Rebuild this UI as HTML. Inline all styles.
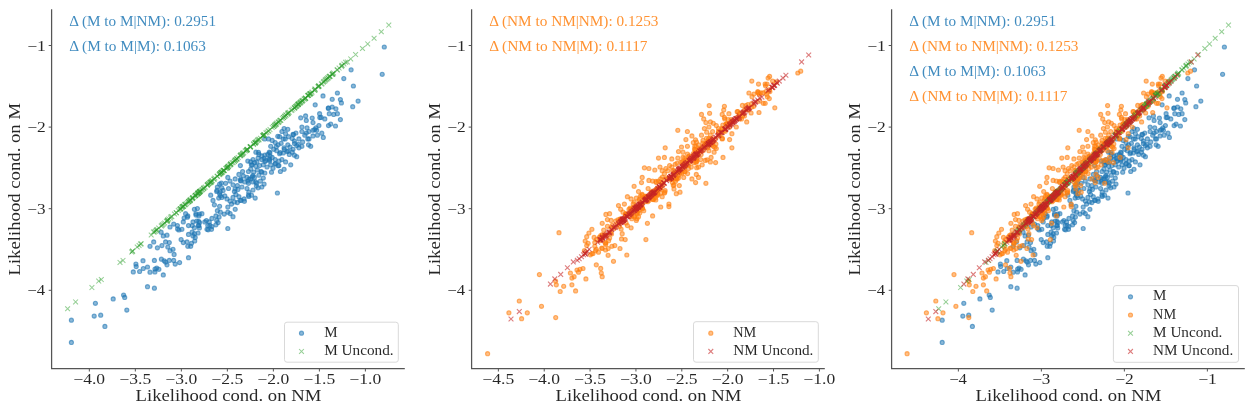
<!DOCTYPE html>
<html><head><meta charset="utf-8"><style>
html,body{margin:0;padding:0;background:#fff;width:1250px;height:405px;overflow:hidden}
svg{display:block;will-change:transform}
text{font-family:"Liberation Serif", serif;fill-opacity:.85}

.b,.o{r:2.05px;stroke-width:1.1}
.b{fill:#1f77b4;fill-opacity:.52;stroke:#1f77b4;stroke-opacity:.6}
.o{fill:#ff7f0e;fill-opacity:.5;stroke:#ff7f0e;stroke-opacity:.6}
.g,.r{fill:none;stroke-width:1}
.g{stroke:#2ca02c;stroke-opacity:.5;stroke-width:1.05}
.r{stroke:#c62626;stroke-opacity:.6;stroke-width:1.1}

</style></head><body>
<svg width="1250" height="405" viewBox="0 0 1250 405">
<rect width="1250" height="405" fill="#fff"/>
<path d="M51.60 9.20V368.60H404.80" fill="none" stroke="#555" stroke-width="1.25"/>
<path d="M48.70 45.50H51.60" stroke="#555" stroke-width="1"/>
<text x="27.23" y="50.65" font-size="14.66" textLength="18.62" lengthAdjust="spacingAndGlyphs" fill="#000">−1</text>
<path d="M48.70 127.10H51.60" stroke="#555" stroke-width="1"/>
<text x="27.23" y="132.25" font-size="14.66" textLength="18.53" lengthAdjust="spacingAndGlyphs" fill="#000">−2</text>
<path d="M48.70 208.70H51.60" stroke="#555" stroke-width="1"/>
<text x="27.25" y="213.85" font-size="14.66" textLength="18.22" lengthAdjust="spacingAndGlyphs" fill="#000">−3</text>
<path d="M48.70 290.30H51.60" stroke="#555" stroke-width="1"/>
<text x="27.27" y="295.45" font-size="14.66" textLength="17.79" lengthAdjust="spacingAndGlyphs" fill="#000">−4</text>
<path d="M89.33 368.60V371.50" stroke="#555" stroke-width="1"/>
<text x="73.31" y="383.80" font-size="14.66" textLength="31.84" lengthAdjust="spacingAndGlyphs" fill="#000">−4.0</text>
<path d="M135.34 368.60V371.50" stroke="#555" stroke-width="1"/>
<text x="119.32" y="383.80" font-size="14.66" textLength="31.86" lengthAdjust="spacingAndGlyphs" fill="#000">−3.5</text>
<path d="M181.35 368.60V371.50" stroke="#555" stroke-width="1"/>
<text x="165.33" y="383.80" font-size="14.66" textLength="31.84" lengthAdjust="spacingAndGlyphs" fill="#000">−3.0</text>
<path d="M227.36 368.60V371.50" stroke="#555" stroke-width="1"/>
<text x="211.34" y="383.80" font-size="14.66" textLength="31.86" lengthAdjust="spacingAndGlyphs" fill="#000">−2.5</text>
<path d="M273.37 368.60V371.50" stroke="#555" stroke-width="1"/>
<text x="257.35" y="383.80" font-size="14.66" textLength="31.84" lengthAdjust="spacingAndGlyphs" fill="#000">−2.0</text>
<path d="M319.38 368.60V371.50" stroke="#555" stroke-width="1"/>
<text x="303.36" y="383.80" font-size="14.66" textLength="31.86" lengthAdjust="spacingAndGlyphs" fill="#000">−1.5</text>
<path d="M365.39 368.60V371.50" stroke="#555" stroke-width="1"/>
<text x="349.37" y="383.80" font-size="14.66" textLength="31.84" lengthAdjust="spacingAndGlyphs" fill="#000">−1.0</text>
<text x="135.56" y="401.10" font-size="16.65" textLength="185.69" lengthAdjust="spacingAndGlyphs" fill="#000">Likelihood cond. on NM</text>
<g transform="translate(20.40,189.25) rotate(-90)">
<text x="-86.29" y="0.00" font-size="16.65" textLength="172.59" lengthAdjust="spacingAndGlyphs" fill="#000">Likelihood cond. on M</text>
</g>
<path d="M471.60 9.20V368.60H824.80" fill="none" stroke="#555" stroke-width="1.25"/>
<path d="M468.70 45.50H471.60" stroke="#555" stroke-width="1"/>
<text x="447.23" y="50.65" font-size="14.66" textLength="18.62" lengthAdjust="spacingAndGlyphs" fill="#000">−1</text>
<path d="M468.70 127.10H471.60" stroke="#555" stroke-width="1"/>
<text x="447.23" y="132.25" font-size="14.66" textLength="18.53" lengthAdjust="spacingAndGlyphs" fill="#000">−2</text>
<path d="M468.70 208.70H471.60" stroke="#555" stroke-width="1"/>
<text x="447.25" y="213.85" font-size="14.66" textLength="18.22" lengthAdjust="spacingAndGlyphs" fill="#000">−3</text>
<path d="M468.70 290.30H471.60" stroke="#555" stroke-width="1"/>
<text x="447.27" y="295.45" font-size="14.66" textLength="17.79" lengthAdjust="spacingAndGlyphs" fill="#000">−4</text>
<path d="M498.37 368.60V371.50" stroke="#555" stroke-width="1"/>
<text x="482.35" y="383.80" font-size="14.66" textLength="31.86" lengthAdjust="spacingAndGlyphs" fill="#000">−4.5</text>
<path d="M544.23 368.60V371.50" stroke="#555" stroke-width="1"/>
<text x="528.21" y="383.80" font-size="14.66" textLength="31.84" lengthAdjust="spacingAndGlyphs" fill="#000">−4.0</text>
<path d="M590.09 368.60V371.50" stroke="#555" stroke-width="1"/>
<text x="574.07" y="383.80" font-size="14.66" textLength="31.86" lengthAdjust="spacingAndGlyphs" fill="#000">−3.5</text>
<path d="M635.95 368.60V371.50" stroke="#555" stroke-width="1"/>
<text x="619.93" y="383.80" font-size="14.66" textLength="31.84" lengthAdjust="spacingAndGlyphs" fill="#000">−3.0</text>
<path d="M681.81 368.60V371.50" stroke="#555" stroke-width="1"/>
<text x="665.79" y="383.80" font-size="14.66" textLength="31.86" lengthAdjust="spacingAndGlyphs" fill="#000">−2.5</text>
<path d="M727.67 368.60V371.50" stroke="#555" stroke-width="1"/>
<text x="711.65" y="383.80" font-size="14.66" textLength="31.84" lengthAdjust="spacingAndGlyphs" fill="#000">−2.0</text>
<path d="M773.53 368.60V371.50" stroke="#555" stroke-width="1"/>
<text x="757.51" y="383.80" font-size="14.66" textLength="31.86" lengthAdjust="spacingAndGlyphs" fill="#000">−1.5</text>
<path d="M819.39 368.60V371.50" stroke="#555" stroke-width="1"/>
<text x="803.37" y="383.80" font-size="14.66" textLength="31.84" lengthAdjust="spacingAndGlyphs" fill="#000">−1.0</text>
<text x="555.56" y="401.10" font-size="16.65" textLength="185.69" lengthAdjust="spacingAndGlyphs" fill="#000">Likelihood cond. on NM</text>
<g transform="translate(440.40,189.25) rotate(-90)">
<text x="-86.29" y="0.00" font-size="16.65" textLength="172.59" lengthAdjust="spacingAndGlyphs" fill="#000">Likelihood cond. on M</text>
</g>
<path d="M891.60 9.20V368.60H1244.80" fill="none" stroke="#555" stroke-width="1.25"/>
<path d="M888.70 45.50H891.60" stroke="#555" stroke-width="1"/>
<text x="867.23" y="50.65" font-size="14.66" textLength="18.62" lengthAdjust="spacingAndGlyphs" fill="#000">−1</text>
<path d="M888.70 127.10H891.60" stroke="#555" stroke-width="1"/>
<text x="867.23" y="132.25" font-size="14.66" textLength="18.53" lengthAdjust="spacingAndGlyphs" fill="#000">−2</text>
<path d="M888.70 208.70H891.60" stroke="#555" stroke-width="1"/>
<text x="867.25" y="213.85" font-size="14.66" textLength="18.22" lengthAdjust="spacingAndGlyphs" fill="#000">−3</text>
<path d="M888.70 290.30H891.60" stroke="#555" stroke-width="1"/>
<text x="867.27" y="295.45" font-size="14.66" textLength="17.79" lengthAdjust="spacingAndGlyphs" fill="#000">−4</text>
<path d="M958.37 368.60V371.50" stroke="#555" stroke-width="1"/>
<text x="949.19" y="383.80" font-size="14.66" textLength="17.79" lengthAdjust="spacingAndGlyphs" fill="#000">−4</text>
<path d="M1041.37 368.60V371.50" stroke="#555" stroke-width="1"/>
<text x="1032.17" y="383.80" font-size="14.66" textLength="18.22" lengthAdjust="spacingAndGlyphs" fill="#000">−3</text>
<path d="M1124.37 368.60V371.50" stroke="#555" stroke-width="1"/>
<text x="1115.15" y="383.80" font-size="14.66" textLength="18.53" lengthAdjust="spacingAndGlyphs" fill="#000">−2</text>
<path d="M1207.37 368.60V371.50" stroke="#555" stroke-width="1"/>
<text x="1198.15" y="383.80" font-size="14.66" textLength="18.62" lengthAdjust="spacingAndGlyphs" fill="#000">−1</text>
<text x="975.56" y="401.10" font-size="16.65" textLength="185.69" lengthAdjust="spacingAndGlyphs" fill="#000">Likelihood cond. on NM</text>
<g transform="translate(860.40,189.25) rotate(-90)">
<text x="-86.29" y="0.00" font-size="16.65" textLength="172.59" lengthAdjust="spacingAndGlyphs" fill="#000">Likelihood cond. on M</text>
</g>
<text x="69.22" y="26.10" font-size="13.74" textLength="146.78" lengthAdjust="spacingAndGlyphs" fill="#1f77b4">Δ (M to M|NM): 0.2951</text>
<text x="69.22" y="51.20" font-size="13.74" textLength="136.67" lengthAdjust="spacingAndGlyphs" fill="#1f77b4">Δ (M to M|M): 0.1063</text>
<text x="489.22" y="26.10" font-size="13.74" textLength="169.17" lengthAdjust="spacingAndGlyphs" fill="#ff7f0e">Δ (NM to NM|NM): 0.1253</text>
<text x="489.22" y="51.20" font-size="13.74" textLength="158.32" lengthAdjust="spacingAndGlyphs" fill="#ff7f0e">Δ (NM to NM|M): 0.1117</text>
<text x="909.22" y="26.10" font-size="13.74" textLength="146.78" lengthAdjust="spacingAndGlyphs" fill="#1f77b4">Δ (M to M|NM): 0.2951</text>
<text x="909.22" y="51.20" font-size="13.74" textLength="169.17" lengthAdjust="spacingAndGlyphs" fill="#ff7f0e">Δ (NM to NM|NM): 0.1253</text>
<text x="909.22" y="76.30" font-size="13.74" textLength="136.67" lengthAdjust="spacingAndGlyphs" fill="#1f77b4">Δ (M to M|M): 0.1063</text>
<text x="909.22" y="101.40" font-size="13.74" textLength="158.32" lengthAdjust="spacingAndGlyphs" fill="#ff7f0e">Δ (NM to NM|M): 0.1117</text>
<g><circle class="b" cx="71.4" cy="320.2"/><circle class="b" cx="71.4" cy="342.4"/><circle class="b" cx="95.4" cy="303.3"/><circle class="b" cx="94.2" cy="316.1"/><circle class="b" cx="100.7" cy="315.2"/><circle class="b" cx="104.9" cy="326.4"/><circle class="b" cx="113.2" cy="298.9"/><circle class="b" cx="123.6" cy="295.0"/><circle class="b" cx="124.7" cy="297.4"/><circle class="b" cx="126.8" cy="310.1"/><circle class="b" cx="384.3" cy="47.0"/><circle class="b" cx="382.2" cy="74.3"/><circle class="b" cx="351.1" cy="69.8"/><circle class="b" cx="153.7" cy="241.9"/><circle class="b" cx="150.0" cy="246.3"/><circle class="b" cx="157.4" cy="247.8"/><circle class="b" cx="161.9" cy="245.6"/><circle class="b" cx="165.6" cy="241.9"/><circle class="b" cx="169.3" cy="242.6"/><circle class="b" cx="167.8" cy="247.0"/><circle class="b" cx="161.1" cy="232.2"/><circle class="b" cx="163.3" cy="235.9"/><circle class="b" cx="167.0" cy="235.2"/><circle class="b" cx="170.0" cy="227.0"/><circle class="b" cx="173.7" cy="224.1"/><circle class="b" cx="177.4" cy="225.6"/><circle class="b" cx="178.9" cy="230.0"/><circle class="b" cx="181.9" cy="229.3"/><circle class="b" cx="183.3" cy="221.9"/><circle class="b" cx="184.1" cy="218.1"/><circle class="b" cx="185.6" cy="213.7"/><circle class="b" cx="187.8" cy="215.9"/><circle class="b" cx="188.5" cy="225.6"/><circle class="b" cx="188.5" cy="234.4"/><circle class="b" cx="181.1" cy="239.6"/><circle class="b" cx="183.3" cy="242.6"/><circle class="b" cx="187.0" cy="241.9"/><circle class="b" cx="187.8" cy="246.3"/><circle class="b" cx="173.0" cy="249.3"/><circle class="b" cx="210.7" cy="195.2"/><circle class="b" cx="213.0" cy="200.4"/><circle class="b" cx="214.4" cy="204.8"/><circle class="b" cx="216.7" cy="191.5"/><circle class="b" cx="219.6" cy="193.7"/><circle class="b" cx="221.8" cy="197.4"/><circle class="b" cx="224.8" cy="195.9"/><circle class="b" cx="227.0" cy="198.9"/><circle class="b" cx="230.0" cy="201.1"/><circle class="b" cx="233.0" cy="197.4"/><circle class="b" cx="235.9" cy="194.4"/><circle class="b" cx="234.4" cy="191.5"/><circle class="b" cx="238.9" cy="196.7"/><circle class="b" cx="241.1" cy="200.4"/><circle class="b" cx="237.4" cy="202.6"/><circle class="b" cx="244.1" cy="198.9"/><circle class="b" cx="248.5" cy="195.2"/><circle class="b" cx="231.5" cy="204.1"/><circle class="b" cx="234.4" cy="201.9"/><circle class="b" cx="219.6" cy="206.3"/><circle class="b" cx="217.4" cy="210.7"/><circle class="b" cx="215.9" cy="215.9"/><circle class="b" cx="216.7" cy="220.4"/><circle class="b" cx="218.1" cy="222.6"/><circle class="b" cx="220.4" cy="212.2"/><circle class="b" cx="227.8" cy="207.0"/><circle class="b" cx="227.8" cy="212.2"/><circle class="b" cx="235.2" cy="209.3"/><circle class="b" cx="233.0" cy="216.7"/><circle class="b" cx="194.4" cy="209.3"/><circle class="b" cx="197.4" cy="208.5"/><circle class="b" cx="195.9" cy="213.7"/><circle class="b" cx="201.9" cy="213.7"/><circle class="b" cx="198.9" cy="215.9"/><circle class="b" cx="193.0" cy="221.9"/><circle class="b" cx="196.7" cy="221.1"/><circle class="b" cx="199.6" cy="222.6"/><circle class="b" cx="198.9" cy="225.6"/><circle class="b" cx="192.2" cy="225.6"/><circle class="b" cx="194.4" cy="227.8"/><circle class="b" cx="204.8" cy="221.9"/><circle class="b" cx="209.3" cy="221.9"/><circle class="b" cx="207.8" cy="225.6"/><circle class="b" cx="211.5" cy="229.3"/><circle class="b" cx="207.0" cy="229.3"/><circle class="b" cx="215.9" cy="224.8"/><circle class="b" cx="227.8" cy="228.5"/><circle class="b" cx="194.4" cy="233.7"/><circle class="b" cx="198.1" cy="233.0"/><circle class="b" cx="193.0" cy="235.9"/><circle class="b" cx="195.2" cy="237.4"/><circle class="b" cx="191.5" cy="243.3"/><circle class="b" cx="190.7" cy="246.3"/><circle class="b" cx="277.4" cy="193.0"/><circle class="b" cx="251.5" cy="195.2"/><circle class="b" cx="255.2" cy="198.1"/><circle class="b" cx="253.0" cy="190.0"/><circle class="b" cx="240.4" cy="165.6"/><circle class="b" cx="247.8" cy="161.1"/><circle class="b" cx="248.5" cy="171.5"/><circle class="b" cx="242.6" cy="171.5"/><circle class="b" cx="238.9" cy="174.4"/><circle class="b" cx="243.3" cy="175.9"/><circle class="b" cx="247.0" cy="177.4"/><circle class="b" cx="235.2" cy="178.9"/><circle class="b" cx="240.4" cy="180.4"/><circle class="b" cx="244.8" cy="181.9"/><circle class="b" cx="248.5" cy="183.3"/><circle class="b" cx="227.8" cy="177.4"/><circle class="b" cx="230.0" cy="181.1"/><circle class="b" cx="225.6" cy="183.3"/><circle class="b" cx="233.0" cy="184.8"/><circle class="b" cx="237.4" cy="185.6"/><circle class="b" cx="241.9" cy="187.0"/><circle class="b" cx="247.0" cy="188.5"/><circle class="b" cx="219.6" cy="184.1"/><circle class="b" cx="217.4" cy="187.0"/><circle class="b" cx="221.8" cy="187.8"/><circle class="b" cx="228.5" cy="188.5"/><circle class="b" cx="281.9" cy="131.5"/><circle class="b" cx="285.6" cy="133.7"/><circle class="b" cx="279.6" cy="136.7"/><circle class="b" cx="283.3" cy="138.9"/><circle class="b" cx="288.5" cy="136.7"/><circle class="b" cx="293.0" cy="134.4"/><circle class="b" cx="295.9" cy="133.0"/><circle class="b" cx="301.9" cy="131.5"/><circle class="b" cx="304.8" cy="135.2"/><circle class="b" cx="298.9" cy="138.9"/><circle class="b" cx="294.4" cy="141.1"/><circle class="b" cx="302.6" cy="141.9"/><circle class="b" cx="307.8" cy="138.9"/><circle class="b" cx="308.5" cy="144.8"/><circle class="b" cx="306.3" cy="133.0"/><circle class="b" cx="268.5" cy="138.9"/><circle class="b" cx="272.2" cy="140.4"/><circle class="b" cx="275.2" cy="142.6"/><circle class="b" cx="278.1" cy="144.8"/><circle class="b" cx="281.1" cy="143.3"/><circle class="b" cx="284.1" cy="147.8"/><circle class="b" cx="287.8" cy="144.8"/><circle class="b" cx="290.0" cy="147.0"/><circle class="b" cx="293.0" cy="149.3"/><circle class="b" cx="296.7" cy="145.6"/><circle class="b" cx="298.9" cy="147.8"/><circle class="b" cx="301.9" cy="146.3"/><circle class="b" cx="270.7" cy="146.3"/><circle class="b" cx="273.7" cy="149.3"/><circle class="b" cx="269.3" cy="152.2"/><circle class="b" cx="276.7" cy="150.7"/><circle class="b" cx="279.6" cy="153.7"/><circle class="b" cx="283.3" cy="153.0"/><circle class="b" cx="287.0" cy="151.5"/><circle class="b" cx="289.3" cy="154.4"/><circle class="b" cx="294.4" cy="155.2"/><circle class="b" cx="296.7" cy="156.7"/><circle class="b" cx="292.2" cy="152.2"/><circle class="b" cx="255.9" cy="152.2"/><circle class="b" cx="258.9" cy="154.4"/><circle class="b" cx="261.8" cy="155.9"/><circle class="b" cx="264.8" cy="155.2"/><circle class="b" cx="267.8" cy="154.4"/><circle class="b" cx="258.1" cy="158.1"/><circle class="b" cx="261.8" cy="159.6"/><circle class="b" cx="265.6" cy="160.4"/><circle class="b" cx="269.3" cy="158.9"/><circle class="b" cx="272.2" cy="157.4"/><circle class="b" cx="275.2" cy="159.6"/><circle class="b" cx="278.9" cy="161.1"/><circle class="b" cx="281.9" cy="159.6"/><circle class="b" cx="285.6" cy="161.9"/><circle class="b" cx="253.0" cy="159.6"/><circle class="b" cx="250.7" cy="161.9"/><circle class="b" cx="252.2" cy="164.8"/><circle class="b" cx="255.9" cy="166.3"/><circle class="b" cx="259.6" cy="165.6"/><circle class="b" cx="263.3" cy="164.8"/><circle class="b" cx="267.0" cy="167.0"/><circle class="b" cx="270.7" cy="164.8"/><circle class="b" cx="275.2" cy="164.1"/><circle class="b" cx="278.9" cy="165.6"/><circle class="b" cx="290.7" cy="164.8"/><circle class="b" cx="284.1" cy="169.3"/><circle class="b" cx="280.4" cy="171.5"/><circle class="b" cx="271.5" cy="172.2"/><circle class="b" cx="264.8" cy="173.0"/><circle class="b" cx="261.1" cy="171.5"/><circle class="b" cx="257.4" cy="170.0"/><circle class="b" cx="253.7" cy="172.2"/><circle class="b" cx="258.9" cy="175.2"/><circle class="b" cx="254.4" cy="177.4"/><circle class="b" cx="263.3" cy="178.1"/><circle class="b" cx="250.7" cy="178.9"/><circle class="b" cx="260.4" cy="181.1"/><circle class="b" cx="256.7" cy="183.3"/><circle class="b" cx="253.0" cy="181.9"/><circle class="b" cx="264.1" cy="184.1"/><circle class="b" cx="261.8" cy="187.0"/><circle class="b" cx="258.1" cy="187.8"/><circle class="b" cx="313.0" cy="135.9"/><circle class="b" cx="317.4" cy="135.2"/><circle class="b" cx="323.3" cy="137.4"/><circle class="b" cx="310.7" cy="146.3"/><circle class="b" cx="313.0" cy="130.3"/><circle class="b" cx="316.7" cy="130.3"/><circle class="b" cx="305.6" cy="115.9"/><circle class="b" cx="306.3" cy="120.4"/><circle class="b" cx="301.9" cy="127.0"/><circle class="b" cx="307.0" cy="127.8"/><circle class="b" cx="284.1" cy="128.5"/><circle class="b" cx="287.8" cy="129.3"/><circle class="b" cx="343.8" cy="78.6"/><circle class="b" cx="353.4" cy="86.0"/><circle class="b" cx="358.1" cy="101.1"/><circle class="b" cx="352.7" cy="106.7"/><circle class="b" cx="337.4" cy="93.0"/><circle class="b" cx="340.4" cy="99.6"/><circle class="b" cx="341.4" cy="102.9"/><circle class="b" cx="332.2" cy="99.3"/><circle class="b" cx="323.0" cy="95.9"/><circle class="b" cx="315.2" cy="104.8"/><circle class="b" cx="328.5" cy="108.2"/><circle class="b" cx="332.2" cy="107.0"/><circle class="b" cx="335.9" cy="108.8"/><circle class="b" cx="329.3" cy="113.7"/><circle class="b" cx="333.7" cy="114.4"/><circle class="b" cx="337.4" cy="113.7"/><circle class="b" cx="319.6" cy="113.7"/><circle class="b" cx="321.1" cy="117.4"/><circle class="b" cx="324.8" cy="118.9"/><circle class="b" cx="340.4" cy="119.6"/><circle class="b" cx="312.2" cy="118.1"/><circle class="b" cx="313.0" cy="122.6"/><circle class="b" cx="328.5" cy="125.6"/><circle class="b" cx="330.7" cy="124.1"/><circle class="b" cx="335.5" cy="126.0"/><circle class="b" cx="318.9" cy="125.6"/><circle class="b" cx="315.9" cy="127.8"/><circle class="b" cx="133.3" cy="271.9"/><circle class="b" cx="135.9" cy="264.1"/><circle class="b" cx="136.2" cy="266.6"/><circle class="b" cx="139.6" cy="271.5"/><circle class="b" cx="143.0" cy="260.7"/><circle class="b" cx="143.3" cy="268.5"/><circle class="b" cx="147.5" cy="267.0"/><circle class="b" cx="150.0" cy="272.2"/><circle class="b" cx="154.4" cy="260.4"/><circle class="b" cx="154.9" cy="271.9"/><circle class="b" cx="156.7" cy="268.1"/><circle class="b" cx="158.9" cy="269.3"/><circle class="b" cx="161.4" cy="259.2"/><circle class="b" cx="163.3" cy="274.9"/><circle class="b" cx="165.6" cy="262.1"/><circle class="b" cx="167.0" cy="264.8"/><circle class="b" cx="169.3" cy="260.4"/><circle class="b" cx="170.0" cy="250.7"/><circle class="b" cx="174.1" cy="254.4"/><circle class="b" cx="173.7" cy="260.4"/><circle class="b" cx="175.2" cy="264.1"/><circle class="b" cx="179.6" cy="262.6"/><circle class="b" cx="188.5" cy="257.7"/><circle class="b" cx="147.5" cy="286.7"/><circle class="b" cx="154.4" cy="288.2"/><circle class="b" cx="177.6" cy="228.9"/><circle class="b" cx="187.4" cy="217.2"/><circle class="b" cx="194.7" cy="241.0"/><circle class="b" cx="220.3" cy="191.8"/><circle class="b" cx="220.4" cy="195.8"/><circle class="b" cx="218.7" cy="198.1"/><circle class="b" cx="248.8" cy="196.5"/><circle class="b" cx="244.4" cy="201.3"/><circle class="b" cx="248.8" cy="192.2"/><circle class="b" cx="240.1" cy="200.3"/><circle class="b" cx="219.1" cy="217.1"/><circle class="b" cx="224.2" cy="214.1"/><circle class="b" cx="230.1" cy="213.6"/><circle class="b" cx="196.0" cy="215.1"/><circle class="b" cx="199.4" cy="214.1"/><circle class="b" cx="198.4" cy="225.6"/><circle class="b" cx="198.7" cy="221.4"/><circle class="b" cx="199.4" cy="227.9"/><circle class="b" cx="206.4" cy="220.5"/><circle class="b" cx="211.9" cy="218.4"/><circle class="b" cx="209.9" cy="225.4"/><circle class="b" cx="211.9" cy="226.6"/><circle class="b" cx="208.2" cy="229.8"/><circle class="b" cx="192.1" cy="232.0"/><circle class="b" cx="252.2" cy="176.9"/><circle class="b" cx="240.7" cy="179.0"/><circle class="b" cx="252.9" cy="175.5"/><circle class="b" cx="241.0" cy="180.9"/><circle class="b" cx="247.9" cy="181.1"/><circle class="b" cx="235.1" cy="189.1"/><circle class="b" cx="237.9" cy="189.4"/><circle class="b" cx="221.4" cy="183.1"/><circle class="b" cx="217.0" cy="190.3"/><circle class="b" cx="223.1" cy="190.4"/><circle class="b" cx="277.8" cy="136.3"/><circle class="b" cx="293.5" cy="134.6"/><circle class="b" cx="292.2" cy="138.5"/><circle class="b" cx="309.0" cy="138.9"/><circle class="b" cx="285.2" cy="138.9"/><circle class="b" cx="294.5" cy="143.5"/><circle class="b" cx="298.3" cy="144.3"/><circle class="b" cx="264.7" cy="139.0"/><circle class="b" cx="276.3" cy="146.8"/><circle class="b" cx="280.3" cy="152.6"/><circle class="b" cx="284.3" cy="149.4"/><circle class="b" cx="288.1" cy="151.1"/><circle class="b" cx="258.5" cy="152.4"/><circle class="b" cx="265.0" cy="161.6"/><circle class="b" cx="269.9" cy="152.8"/><circle class="b" cx="256.9" cy="161.9"/><circle class="b" cx="270.0" cy="156.1"/><circle class="b" cx="269.5" cy="159.8"/><circle class="b" cx="254.6" cy="162.5"/><circle class="b" cx="251.4" cy="164.9"/><circle class="b" cx="264.1" cy="158.4"/><circle class="b" cx="273.0" cy="168.2"/><circle class="b" cx="269.7" cy="161.0"/><circle class="b" cx="275.3" cy="163.5"/><circle class="b" cx="278.2" cy="165.7"/><circle class="b" cx="261.7" cy="172.2"/><circle class="b" cx="250.7" cy="169.0"/><circle class="b" cx="248.9" cy="179.2"/><circle class="b" cx="255.7" cy="181.9"/><circle class="b" cx="256.3" cy="186.1"/><circle class="b" cx="314.7" cy="129.6"/><circle class="b" cx="321.8" cy="133.2"/><circle class="b" cx="308.9" cy="131.5"/><circle class="b" cx="300.7" cy="117.8"/><circle class="b" cx="328.3" cy="108.2"/><circle class="b" cx="319.8" cy="117.6"/><circle class="b" cx="155.0" cy="269.1"/><circle class="b" cx="164.2" cy="260.8"/></g>
<g><path class="g" d="M65.2 306.3l4.8 4.8m0-4.8l-4.8 4.8"/><path class="g" d="M73.2 299.5l4.8 4.8m0-4.8l-4.8 4.8"/><path class="g" d="M89.5 285.2l4.8 4.8m0-4.8l-4.8 4.8"/><path class="g" d="M96.3 278.7l4.8 4.8m0-4.8l-4.8 4.8"/><path class="g" d="M98.9 277.2l4.8 4.8m0-4.8l-4.8 4.8"/><path class="g" d="M117.6 260.0l4.8 4.8m0-4.8l-4.8 4.8"/><path class="g" d="M120.6 258.0l4.8 4.8m0-4.8l-4.8 4.8"/><path class="g" d="M386.4 22.7l4.8 4.8m0-4.8l-4.8 4.8"/><path class="g" d="M378.9 29.4l4.8 4.8m0-4.8l-4.8 4.8"/><path class="g" d="M371.7 35.8l4.8 4.8m0-4.8l-4.8 4.8"/><path class="g" d="M365.3 41.5l4.8 4.8m0-4.8l-4.8 4.8"/><path class="g" d="M360.1 46.1l4.8 4.8m0-4.8l-4.8 4.8"/><path class="g" d="M353.2 52.2l4.8 4.8m0-4.8l-4.8 4.8"/><path class="g" d="M348.3 56.5l4.8 4.8m0-4.8l-4.8 4.8"/><path class="g" d="M344.9 59.5l4.8 4.8m0-4.8l-4.8 4.8"/><path class="g" d="M134.8 244.6l4.8 4.8m0-4.8l-4.8 4.8"/><path class="g" d="M130.0 248.8l4.8 4.8m0-4.8l-4.8 4.8"/><path class="g" d="M138.8 241.3l4.8 4.8m0-4.8l-4.8 4.8"/><path class="g" d="M138.2 241.7l4.8 4.8m0-4.8l-4.8 4.8"/><path class="g" d="M129.3 249.7l4.8 4.8m0-4.8l-4.8 4.8"/><path class="g" d="M130.3 248.7l4.8 4.8m0-4.8l-4.8 4.8"/><path class="g" d="M136.7 243.1l4.8 4.8m0-4.8l-4.8 4.8"/><path class="g" d="M154.3 227.6l4.8 4.8m0-4.8l-4.8 4.8"/><path class="g" d="M166.4 216.5l4.8 4.8m0-4.8l-4.8 4.8"/><path class="g" d="M159.5 223.0l4.8 4.8m0-4.8l-4.8 4.8"/><path class="g" d="M176.9 207.0l4.8 4.8m0-4.8l-4.8 4.8"/><path class="g" d="M156.3 225.6l4.8 4.8m0-4.8l-4.8 4.8"/><path class="g" d="M151.9 229.5l4.8 4.8m0-4.8l-4.8 4.8"/><path class="g" d="M172.1 211.6l4.8 4.8m0-4.8l-4.8 4.8"/><path class="g" d="M153.0 228.9l4.8 4.8m0-4.8l-4.8 4.8"/><path class="g" d="M158.8 223.7l4.8 4.8m0-4.8l-4.8 4.8"/><path class="g" d="M164.0 218.8l4.8 4.8m0-4.8l-4.8 4.8"/><path class="g" d="M153.8 227.9l4.8 4.8m0-4.8l-4.8 4.8"/><path class="g" d="M168.0 215.5l4.8 4.8m0-4.8l-4.8 4.8"/><path class="g" d="M165.2 217.8l4.8 4.8m0-4.8l-4.8 4.8"/><path class="g" d="M161.2 221.5l4.8 4.8m0-4.8l-4.8 4.8"/><path class="g" d="M168.6 214.4l4.8 4.8m0-4.8l-4.8 4.8"/><path class="g" d="M154.9 227.2l4.8 4.8m0-4.8l-4.8 4.8"/><path class="g" d="M173.9 210.3l4.8 4.8m0-4.8l-4.8 4.8"/><path class="g" d="M169.5 214.2l4.8 4.8m0-4.8l-4.8 4.8"/><path class="g" d="M151.1 229.6l4.8 4.8m0-4.8l-4.8 4.8"/><path class="g" d="M160.1 222.3l4.8 4.8m0-4.8l-4.8 4.8"/><path class="g" d="M162.3 220.6l4.8 4.8m0-4.8l-4.8 4.8"/><path class="g" d="M148.8 232.6l4.8 4.8m0-4.8l-4.8 4.8"/><path class="g" d="M164.8 218.6l4.8 4.8m0-4.8l-4.8 4.8"/><path class="g" d="M173.9 210.3l4.8 4.8m0-4.8l-4.8 4.8"/><path class="g" d="M165.4 217.3l4.8 4.8m0-4.8l-4.8 4.8"/><path class="g" d="M165.0 218.5l4.8 4.8m0-4.8l-4.8 4.8"/><path class="g" d="M175.9 208.2l4.8 4.8m0-4.8l-4.8 4.8"/><path class="g" d="M234.5 156.4l4.8 4.8m0-4.8l-4.8 4.8"/><path class="g" d="M261.8 132.3l4.8 4.8m0-4.8l-4.8 4.8"/><path class="g" d="M255.3 137.5l4.8 4.8m0-4.8l-4.8 4.8"/><path class="g" d="M211.8 176.6l4.8 4.8m0-4.8l-4.8 4.8"/><path class="g" d="M223.9 165.8l4.8 4.8m0-4.8l-4.8 4.8"/><path class="g" d="M233.0 157.8l4.8 4.8m0-4.8l-4.8 4.8"/><path class="g" d="M197.8 188.9l4.8 4.8m0-4.8l-4.8 4.8"/><path class="g" d="M269.8 125.0l4.8 4.8m0-4.8l-4.8 4.8"/><path class="g" d="M193.1 193.1l4.8 4.8m0-4.8l-4.8 4.8"/><path class="g" d="M282.2 113.9l4.8 4.8m0-4.8l-4.8 4.8"/><path class="g" d="M187.3 198.6l4.8 4.8m0-4.8l-4.8 4.8"/><path class="g" d="M283.6 112.7l4.8 4.8m0-4.8l-4.8 4.8"/><path class="g" d="M275.9 119.5l4.8 4.8m0-4.8l-4.8 4.8"/><path class="g" d="M227.4 162.8l4.8 4.8m0-4.8l-4.8 4.8"/><path class="g" d="M220.7 168.2l4.8 4.8m0-4.8l-4.8 4.8"/><path class="g" d="M195.7 191.2l4.8 4.8m0-4.8l-4.8 4.8"/><path class="g" d="M198.7 188.1l4.8 4.8m0-4.8l-4.8 4.8"/><path class="g" d="M235.8 155.1l4.8 4.8m0-4.8l-4.8 4.8"/><path class="g" d="M248.3 144.2l4.8 4.8m0-4.8l-4.8 4.8"/><path class="g" d="M227.9 162.2l4.8 4.8m0-4.8l-4.8 4.8"/><path class="g" d="M221.9 168.1l4.8 4.8m0-4.8l-4.8 4.8"/><path class="g" d="M260.5 133.6l4.8 4.8m0-4.8l-4.8 4.8"/><path class="g" d="M239.5 152.3l4.8 4.8m0-4.8l-4.8 4.8"/><path class="g" d="M184.1 201.3l4.8 4.8m0-4.8l-4.8 4.8"/><path class="g" d="M285.5 111.0l4.8 4.8m0-4.8l-4.8 4.8"/><path class="g" d="M273.3 122.4l4.8 4.8m0-4.8l-4.8 4.8"/><path class="g" d="M224.7 165.2l4.8 4.8m0-4.8l-4.8 4.8"/><path class="g" d="M253.7 139.3l4.8 4.8m0-4.8l-4.8 4.8"/><path class="g" d="M185.1 200.1l4.8 4.8m0-4.8l-4.8 4.8"/><path class="g" d="M197.1 189.5l4.8 4.8m0-4.8l-4.8 4.8"/><path class="g" d="M218.4 170.7l4.8 4.8m0-4.8l-4.8 4.8"/><path class="g" d="M195.8 190.7l4.8 4.8m0-4.8l-4.8 4.8"/><path class="g" d="M189.8 196.1l4.8 4.8m0-4.8l-4.8 4.8"/><path class="g" d="M282.5 113.8l4.8 4.8m0-4.8l-4.8 4.8"/><path class="g" d="M251.3 141.4l4.8 4.8m0-4.8l-4.8 4.8"/><path class="g" d="M219.3 169.7l4.8 4.8m0-4.8l-4.8 4.8"/><path class="g" d="M221.3 167.8l4.8 4.8m0-4.8l-4.8 4.8"/><path class="g" d="M296.8 100.8l4.8 4.8m0-4.8l-4.8 4.8"/><path class="g" d="M233.5 157.4l4.8 4.8m0-4.8l-4.8 4.8"/><path class="g" d="M189.9 196.0l4.8 4.8m0-4.8l-4.8 4.8"/><path class="g" d="M218.7 170.4l4.8 4.8m0-4.8l-4.8 4.8"/><path class="g" d="M197.0 189.2l4.8 4.8m0-4.8l-4.8 4.8"/><path class="g" d="M180.4 204.1l4.8 4.8m0-4.8l-4.8 4.8"/><path class="g" d="M195.2 191.3l4.8 4.8m0-4.8l-4.8 4.8"/><path class="g" d="M242.8 148.7l4.8 4.8m0-4.8l-4.8 4.8"/><path class="g" d="M295.0 102.7l4.8 4.8m0-4.8l-4.8 4.8"/><path class="g" d="M281.2 115.0l4.8 4.8m0-4.8l-4.8 4.8"/><path class="g" d="M221.6 168.0l4.8 4.8m0-4.8l-4.8 4.8"/><path class="g" d="M197.6 189.0l4.8 4.8m0-4.8l-4.8 4.8"/><path class="g" d="M271.1 124.2l4.8 4.8m0-4.8l-4.8 4.8"/><path class="g" d="M217.2 171.7l4.8 4.8m0-4.8l-4.8 4.8"/><path class="g" d="M295.8 101.6l4.8 4.8m0-4.8l-4.8 4.8"/><path class="g" d="M279.9 116.0l4.8 4.8m0-4.8l-4.8 4.8"/><path class="g" d="M266.4 128.5l4.8 4.8m0-4.8l-4.8 4.8"/><path class="g" d="M204.8 182.9l4.8 4.8m0-4.8l-4.8 4.8"/><path class="g" d="M181.1 203.8l4.8 4.8m0-4.8l-4.8 4.8"/><path class="g" d="M181.0 203.9l4.8 4.8m0-4.8l-4.8 4.8"/><path class="g" d="M260.7 133.0l4.8 4.8m0-4.8l-4.8 4.8"/><path class="g" d="M292.4 105.6l4.8 4.8m0-4.8l-4.8 4.8"/><path class="g" d="M296.2 101.5l4.8 4.8m0-4.8l-4.8 4.8"/><path class="g" d="M292.2 105.3l4.8 4.8m0-4.8l-4.8 4.8"/><path class="g" d="M204.8 182.6l4.8 4.8m0-4.8l-4.8 4.8"/><path class="g" d="M201.2 185.8l4.8 4.8m0-4.8l-4.8 4.8"/><path class="g" d="M285.6 110.7l4.8 4.8m0-4.8l-4.8 4.8"/><path class="g" d="M278.5 117.8l4.8 4.8m0-4.8l-4.8 4.8"/><path class="g" d="M273.6 121.7l4.8 4.8m0-4.8l-4.8 4.8"/><path class="g" d="M187.8 198.1l4.8 4.8m0-4.8l-4.8 4.8"/><path class="g" d="M271.5 124.1l4.8 4.8m0-4.8l-4.8 4.8"/><path class="g" d="M267.6 127.2l4.8 4.8m0-4.8l-4.8 4.8"/><path class="g" d="M272.3 122.9l4.8 4.8m0-4.8l-4.8 4.8"/><path class="g" d="M217.5 171.3l4.8 4.8m0-4.8l-4.8 4.8"/><path class="g" d="M225.1 165.3l4.8 4.8m0-4.8l-4.8 4.8"/><path class="g" d="M225.8 163.8l4.8 4.8m0-4.8l-4.8 4.8"/><path class="g" d="M198.0 188.9l4.8 4.8m0-4.8l-4.8 4.8"/><path class="g" d="M192.8 193.0l4.8 4.8m0-4.8l-4.8 4.8"/><path class="g" d="M274.4 120.6l4.8 4.8m0-4.8l-4.8 4.8"/><path class="g" d="M195.1 191.0l4.8 4.8m0-4.8l-4.8 4.8"/><path class="g" d="M256.5 137.5l4.8 4.8m0-4.8l-4.8 4.8"/><path class="g" d="M219.6 169.7l4.8 4.8m0-4.8l-4.8 4.8"/><path class="g" d="M179.3 205.4l4.8 4.8m0-4.8l-4.8 4.8"/><path class="g" d="M294.1 103.7l4.8 4.8m0-4.8l-4.8 4.8"/><path class="g" d="M289.6 107.7l4.8 4.8m0-4.8l-4.8 4.8"/><path class="g" d="M229.7 160.4l4.8 4.8m0-4.8l-4.8 4.8"/><path class="g" d="M202.9 184.7l4.8 4.8m0-4.8l-4.8 4.8"/><path class="g" d="M207.8 180.1l4.8 4.8m0-4.8l-4.8 4.8"/><path class="g" d="M248.0 144.3l4.8 4.8m0-4.8l-4.8 4.8"/><path class="g" d="M208.7 179.4l4.8 4.8m0-4.8l-4.8 4.8"/><path class="g" d="M286.8 109.9l4.8 4.8m0-4.8l-4.8 4.8"/><path class="g" d="M220.1 169.5l4.8 4.8m0-4.8l-4.8 4.8"/><path class="g" d="M286.1 110.5l4.8 4.8m0-4.8l-4.8 4.8"/><path class="g" d="M228.1 161.8l4.8 4.8m0-4.8l-4.8 4.8"/><path class="g" d="M241.4 150.4l4.8 4.8m0-4.8l-4.8 4.8"/><path class="g" d="M240.4 150.9l4.8 4.8m0-4.8l-4.8 4.8"/><path class="g" d="M199.6 187.3l4.8 4.8m0-4.8l-4.8 4.8"/><path class="g" d="M178.1 206.4l4.8 4.8m0-4.8l-4.8 4.8"/><path class="g" d="M234.4 156.6l4.8 4.8m0-4.8l-4.8 4.8"/><path class="g" d="M264.6 129.9l4.8 4.8m0-4.8l-4.8 4.8"/><path class="g" d="M239.8 151.8l4.8 4.8m0-4.8l-4.8 4.8"/><path class="g" d="M244.3 147.7l4.8 4.8m0-4.8l-4.8 4.8"/><path class="g" d="M244.8 147.3l4.8 4.8m0-4.8l-4.8 4.8"/><path class="g" d="M207.4 180.5l4.8 4.8m0-4.8l-4.8 4.8"/><path class="g" d="M238.5 152.4l4.8 4.8m0-4.8l-4.8 4.8"/><path class="g" d="M245.0 147.0l4.8 4.8m0-4.8l-4.8 4.8"/><path class="g" d="M230.8 160.2l4.8 4.8m0-4.8l-4.8 4.8"/><path class="g" d="M251.1 142.0l4.8 4.8m0-4.8l-4.8 4.8"/><path class="g" d="M260.7 133.1l4.8 4.8m0-4.8l-4.8 4.8"/><path class="g" d="M231.9 159.0l4.8 4.8m0-4.8l-4.8 4.8"/><path class="g" d="M290.6 106.7l4.8 4.8m0-4.8l-4.8 4.8"/><path class="g" d="M261.5 132.0l4.8 4.8m0-4.8l-4.8 4.8"/><path class="g" d="M208.8 179.6l4.8 4.8m0-4.8l-4.8 4.8"/><path class="g" d="M244.7 146.9l4.8 4.8m0-4.8l-4.8 4.8"/><path class="g" d="M194.1 192.4l4.8 4.8m0-4.8l-4.8 4.8"/><path class="g" d="M192.2 194.0l4.8 4.8m0-4.8l-4.8 4.8"/><path class="g" d="M206.5 181.2l4.8 4.8m0-4.8l-4.8 4.8"/><path class="g" d="M186.4 199.3l4.8 4.8m0-4.8l-4.8 4.8"/><path class="g" d="M285.2 111.8l4.8 4.8m0-4.8l-4.8 4.8"/><path class="g" d="M196.1 190.5l4.8 4.8m0-4.8l-4.8 4.8"/><path class="g" d="M194.8 192.0l4.8 4.8m0-4.8l-4.8 4.8"/><path class="g" d="M283.5 112.7l4.8 4.8m0-4.8l-4.8 4.8"/><path class="g" d="M291.9 105.5l4.8 4.8m0-4.8l-4.8 4.8"/><path class="g" d="M225.4 165.2l4.8 4.8m0-4.8l-4.8 4.8"/><path class="g" d="M277.5 118.2l4.8 4.8m0-4.8l-4.8 4.8"/><path class="g" d="M197.0 189.9l4.8 4.8m0-4.8l-4.8 4.8"/><path class="g" d="M218.3 170.6l4.8 4.8m0-4.8l-4.8 4.8"/><path class="g" d="M201.1 186.2l4.8 4.8m0-4.8l-4.8 4.8"/><path class="g" d="M179.9 204.4l4.8 4.8m0-4.8l-4.8 4.8"/><path class="g" d="M244.1 147.9l4.8 4.8m0-4.8l-4.8 4.8"/><path class="g" d="M217.4 171.6l4.8 4.8m0-4.8l-4.8 4.8"/><path class="g" d="M252.5 140.5l4.8 4.8m0-4.8l-4.8 4.8"/><path class="g" d="M295.8 102.0l4.8 4.8m0-4.8l-4.8 4.8"/><path class="g" d="M272.2 122.8l4.8 4.8m0-4.8l-4.8 4.8"/><path class="g" d="M209.5 178.6l4.8 4.8m0-4.8l-4.8 4.8"/><path class="g" d="M182.4 202.6l4.8 4.8m0-4.8l-4.8 4.8"/><path class="g" d="M193.1 193.2l4.8 4.8m0-4.8l-4.8 4.8"/><path class="g" d="M228.3 161.5l4.8 4.8m0-4.8l-4.8 4.8"/><path class="g" d="M208.6 179.6l4.8 4.8m0-4.8l-4.8 4.8"/><path class="g" d="M195.5 190.7l4.8 4.8m0-4.8l-4.8 4.8"/><path class="g" d="M261.7 132.5l4.8 4.8m0-4.8l-4.8 4.8"/><path class="g" d="M188.3 197.0l4.8 4.8m0-4.8l-4.8 4.8"/><path class="g" d="M228.6 161.5l4.8 4.8m0-4.8l-4.8 4.8"/><path class="g" d="M186.3 198.8l4.8 4.8m0-4.8l-4.8 4.8"/><path class="g" d="M273.8 121.7l4.8 4.8m0-4.8l-4.8 4.8"/><path class="g" d="M187.6 197.9l4.8 4.8m0-4.8l-4.8 4.8"/><path class="g" d="M281.1 115.1l4.8 4.8m0-4.8l-4.8 4.8"/><path class="g" d="M232.1 158.7l4.8 4.8m0-4.8l-4.8 4.8"/><path class="g" d="M288.8 108.0l4.8 4.8m0-4.8l-4.8 4.8"/><path class="g" d="M209.7 178.1l4.8 4.8m0-4.8l-4.8 4.8"/><path class="g" d="M206.2 181.3l4.8 4.8m0-4.8l-4.8 4.8"/><path class="g" d="M190.7 195.2l4.8 4.8m0-4.8l-4.8 4.8"/><path class="g" d="M201.8 185.3l4.8 4.8m0-4.8l-4.8 4.8"/><path class="g" d="M215.0 173.8l4.8 4.8m0-4.8l-4.8 4.8"/><path class="g" d="M212.4 175.6l4.8 4.8m0-4.8l-4.8 4.8"/><path class="g" d="M237.6 153.5l4.8 4.8m0-4.8l-4.8 4.8"/><path class="g" d="M179.8 204.7l4.8 4.8m0-4.8l-4.8 4.8"/><path class="g" d="M207.7 179.8l4.8 4.8m0-4.8l-4.8 4.8"/><path class="g" d="M243.7 148.2l4.8 4.8m0-4.8l-4.8 4.8"/><path class="g" d="M200.3 187.2l4.8 4.8m0-4.8l-4.8 4.8"/><path class="g" d="M190.4 195.4l4.8 4.8m0-4.8l-4.8 4.8"/><path class="g" d="M275.9 120.0l4.8 4.8m0-4.8l-4.8 4.8"/><path class="g" d="M277.8 117.9l4.8 4.8m0-4.8l-4.8 4.8"/><path class="g" d="M224.8 165.4l4.8 4.8m0-4.8l-4.8 4.8"/><path class="g" d="M295.5 102.3l4.8 4.8m0-4.8l-4.8 4.8"/><path class="g" d="M218.7 170.2l4.8 4.8m0-4.8l-4.8 4.8"/><path class="g" d="M253.9 139.5l4.8 4.8m0-4.8l-4.8 4.8"/><path class="g" d="M226.2 163.8l4.8 4.8m0-4.8l-4.8 4.8"/><path class="g" d="M193.2 193.0l4.8 4.8m0-4.8l-4.8 4.8"/><path class="g" d="M186.1 199.3l4.8 4.8m0-4.8l-4.8 4.8"/><path class="g" d="M197.2 189.7l4.8 4.8m0-4.8l-4.8 4.8"/><path class="g" d="M187.7 197.6l4.8 4.8m0-4.8l-4.8 4.8"/><path class="g" d="M258.1 135.9l4.8 4.8m0-4.8l-4.8 4.8"/><path class="g" d="M211.4 176.8l4.8 4.8m0-4.8l-4.8 4.8"/><path class="g" d="M232.7 157.7l4.8 4.8m0-4.8l-4.8 4.8"/><path class="g" d="M196.5 190.3l4.8 4.8m0-4.8l-4.8 4.8"/><path class="g" d="M293.0 104.4l4.8 4.8m0-4.8l-4.8 4.8"/><path class="g" d="M294.3 103.5l4.8 4.8m0-4.8l-4.8 4.8"/><path class="g" d="M293.5 104.1l4.8 4.8m0-4.8l-4.8 4.8"/><path class="g" d="M214.7 173.9l4.8 4.8m0-4.8l-4.8 4.8"/><path class="g" d="M223.4 166.2l4.8 4.8m0-4.8l-4.8 4.8"/><path class="g" d="M234.6 156.5l4.8 4.8m0-4.8l-4.8 4.8"/><path class="g" d="M238.2 153.1l4.8 4.8m0-4.8l-4.8 4.8"/><path class="g" d="M178.2 206.3l4.8 4.8m0-4.8l-4.8 4.8"/><path class="g" d="M225.5 164.2l4.8 4.8m0-4.8l-4.8 4.8"/><path class="g" d="M182.6 202.2l4.8 4.8m0-4.8l-4.8 4.8"/><path class="g" d="M205.5 182.0l4.8 4.8m0-4.8l-4.8 4.8"/><path class="g" d="M247.9 144.9l4.8 4.8m0-4.8l-4.8 4.8"/><path class="g" d="M256.5 136.9l4.8 4.8m0-4.8l-4.8 4.8"/><path class="g" d="M263.5 130.5l4.8 4.8m0-4.8l-4.8 4.8"/><path class="g" d="M216.7 172.3l4.8 4.8m0-4.8l-4.8 4.8"/><path class="g" d="M295.8 101.8l4.8 4.8m0-4.8l-4.8 4.8"/><path class="g" d="M254.8 138.1l4.8 4.8m0-4.8l-4.8 4.8"/><path class="g" d="M182.9 201.9l4.8 4.8m0-4.8l-4.8 4.8"/><path class="g" d="M252.9 140.5l4.8 4.8m0-4.8l-4.8 4.8"/><path class="g" d="M265.7 128.7l4.8 4.8m0-4.8l-4.8 4.8"/><path class="g" d="M240.5 151.2l4.8 4.8m0-4.8l-4.8 4.8"/><path class="g" d="M238.1 152.9l4.8 4.8m0-4.8l-4.8 4.8"/><path class="g" d="M276.8 119.3l4.8 4.8m0-4.8l-4.8 4.8"/><path class="g" d="M247.7 144.4l4.8 4.8m0-4.8l-4.8 4.8"/><path class="g" d="M260.8 133.3l4.8 4.8m0-4.8l-4.8 4.8"/><path class="g" d="M205.2 182.2l4.8 4.8m0-4.8l-4.8 4.8"/><path class="g" d="M220.9 168.4l4.8 4.8m0-4.8l-4.8 4.8"/><path class="g" d="M190.2 195.5l4.8 4.8m0-4.8l-4.8 4.8"/><path class="g" d="M252.9 140.3l4.8 4.8m0-4.8l-4.8 4.8"/><path class="g" d="M252.7 140.3l4.8 4.8m0-4.8l-4.8 4.8"/><path class="g" d="M178.0 206.7l4.8 4.8m0-4.8l-4.8 4.8"/><path class="g" d="M329.5 72.1l4.8 4.8m0-4.8l-4.8 4.8"/><path class="g" d="M319.0 81.7l4.8 4.8m0-4.8l-4.8 4.8"/><path class="g" d="M324.0 76.7l4.8 4.8m0-4.8l-4.8 4.8"/><path class="g" d="M307.7 91.3l4.8 4.8m0-4.8l-4.8 4.8"/><path class="g" d="M300.6 97.8l4.8 4.8m0-4.8l-4.8 4.8"/><path class="g" d="M305.8 92.8l4.8 4.8m0-4.8l-4.8 4.8"/><path class="g" d="M327.2 73.9l4.8 4.8m0-4.8l-4.8 4.8"/><path class="g" d="M312.9 86.9l4.8 4.8m0-4.8l-4.8 4.8"/><path class="g" d="M316.8 83.6l4.8 4.8m0-4.8l-4.8 4.8"/><path class="g" d="M322.3 78.9l4.8 4.8m0-4.8l-4.8 4.8"/><path class="g" d="M323.3 77.5l4.8 4.8m0-4.8l-4.8 4.8"/><path class="g" d="M307.8 91.4l4.8 4.8m0-4.8l-4.8 4.8"/><path class="g" d="M327.3 74.2l4.8 4.8m0-4.8l-4.8 4.8"/><path class="g" d="M298.1 99.7l4.8 4.8m0-4.8l-4.8 4.8"/><path class="g" d="M300.0 98.3l4.8 4.8m0-4.8l-4.8 4.8"/><path class="g" d="M325.3 75.5l4.8 4.8m0-4.8l-4.8 4.8"/><path class="g" d="M324.6 76.5l4.8 4.8m0-4.8l-4.8 4.8"/><path class="g" d="M316.2 83.7l4.8 4.8m0-4.8l-4.8 4.8"/><path class="g" d="M316.3 83.5l4.8 4.8m0-4.8l-4.8 4.8"/><path class="g" d="M305.6 93.0l4.8 4.8m0-4.8l-4.8 4.8"/><path class="g" d="M336.7 65.7l4.8 4.8m0-4.8l-4.8 4.8"/><path class="g" d="M316.0 84.2l4.8 4.8m0-4.8l-4.8 4.8"/><path class="g" d="M330.4 71.1l4.8 4.8m0-4.8l-4.8 4.8"/><path class="g" d="M308.3 91.0l4.8 4.8m0-4.8l-4.8 4.8"/><path class="g" d="M306.0 92.8l4.8 4.8m0-4.8l-4.8 4.8"/><path class="g" d="M320.9 79.9l4.8 4.8m0-4.8l-4.8 4.8"/><path class="g" d="M303.3 96.0l4.8 4.8m0-4.8l-4.8 4.8"/><path class="g" d="M302.9 95.8l4.8 4.8m0-4.8l-4.8 4.8"/><path class="g" d="M330.4 71.8l4.8 4.8m0-4.8l-4.8 4.8"/><path class="g" d="M325.7 75.5l4.8 4.8m0-4.8l-4.8 4.8"/><path class="g" d="M306.9 92.0l4.8 4.8m0-4.8l-4.8 4.8"/><path class="g" d="M298.6 99.7l4.8 4.8m0-4.8l-4.8 4.8"/><path class="g" d="M297.7 100.6l4.8 4.8m0-4.8l-4.8 4.8"/><path class="g" d="M309.7 89.7l4.8 4.8m0-4.8l-4.8 4.8"/><path class="g" d="M303.2 95.6l4.8 4.8m0-4.8l-4.8 4.8"/><path class="g" d="M331.2 70.5l4.8 4.8m0-4.8l-4.8 4.8"/><path class="g" d="M297.7 100.4l4.8 4.8m0-4.8l-4.8 4.8"/><path class="g" d="M302.4 96.6l4.8 4.8m0-4.8l-4.8 4.8"/><path class="g" d="M334.7 67.7l4.8 4.8m0-4.8l-4.8 4.8"/><path class="g" d="M309.2 90.7l4.8 4.8m0-4.8l-4.8 4.8"/><path class="g" d="M312.5 87.9l4.8 4.8m0-4.8l-4.8 4.8"/><path class="g" d="M321.2 79.0l4.8 4.8m0-4.8l-4.8 4.8"/><path class="g" d="M312.0 87.8l4.8 4.8m0-4.8l-4.8 4.8"/><path class="g" d="M299.5 98.6l4.8 4.8m0-4.8l-4.8 4.8"/><path class="g" d="M301.7 96.7l4.8 4.8m0-4.8l-4.8 4.8"/><path class="g" d="M335.0 67.4l4.8 4.8m0-4.8l-4.8 4.8"/><path class="g" d="M307.6 91.6l4.8 4.8m0-4.8l-4.8 4.8"/><path class="g" d="M305.2 93.4l4.8 4.8m0-4.8l-4.8 4.8"/><path class="g" d="M312.5 86.7l4.8 4.8m0-4.8l-4.8 4.8"/><path class="g" d="M330.1 71.8l4.8 4.8m0-4.8l-4.8 4.8"/><path class="g" d="M322.8 77.6l4.8 4.8m0-4.8l-4.8 4.8"/><path class="g" d="M319.6 81.3l4.8 4.8m0-4.8l-4.8 4.8"/><path class="g" d="M326.4 74.5l4.8 4.8m0-4.8l-4.8 4.8"/><path class="g" d="M315.6 84.3l4.8 4.8m0-4.8l-4.8 4.8"/><path class="g" d="M327.7 73.9l4.8 4.8m0-4.8l-4.8 4.8"/><path class="g" d="M299.6 98.9l4.8 4.8m0-4.8l-4.8 4.8"/><path class="g" d="M343.2 59.8l4.8 4.8m0-4.8l-4.8 4.8"/><path class="g" d="M339.7 62.9l4.8 4.8m0-4.8l-4.8 4.8"/><path class="g" d="M339.4 63.4l4.8 4.8m0-4.8l-4.8 4.8"/><path class="g" d="M339.2 64.2l4.8 4.8m0-4.8l-4.8 4.8"/><path class="g" d="M341.5 61.6l4.8 4.8m0-4.8l-4.8 4.8"/></g>
<g><circle class="o" cx="608.6" cy="240.7"/><circle class="o" cx="617.9" cy="219.8"/><circle class="o" cx="595.5" cy="250.7"/><circle class="o" cx="601.7" cy="248.0"/><circle class="o" cx="604.7" cy="234.8"/><circle class="o" cx="606.3" cy="235.3"/><circle class="o" cx="594.8" cy="242.4"/><circle class="o" cx="605.6" cy="250.0"/><circle class="o" cx="593.0" cy="253.7"/><circle class="o" cx="611.5" cy="233.9"/><circle class="o" cx="605.4" cy="243.3"/><circle class="o" cx="605.7" cy="244.5"/><circle class="o" cx="602.3" cy="234.6"/><circle class="o" cx="610.5" cy="232.7"/><circle class="o" cx="601.8" cy="238.9"/><circle class="o" cx="619.5" cy="226.4"/><circle class="o" cx="600.7" cy="235.5"/><circle class="o" cx="602.0" cy="237.2"/><circle class="o" cx="590.4" cy="254.8"/><circle class="o" cx="610.9" cy="227.8"/><circle class="o" cx="600.6" cy="240.6"/><circle class="o" cx="612.2" cy="225.4"/><circle class="o" cx="657.6" cy="193.7"/><circle class="o" cx="652.1" cy="195.1"/><circle class="o" cx="635.7" cy="208.2"/><circle class="o" cx="651.1" cy="192.1"/><circle class="o" cx="652.4" cy="198.7"/><circle class="o" cx="642.5" cy="208.0"/><circle class="o" cx="629.0" cy="209.3"/><circle class="o" cx="645.6" cy="201.4"/><circle class="o" cx="652.7" cy="191.0"/><circle class="o" cx="631.8" cy="218.7"/><circle class="o" cx="641.9" cy="195.2"/><circle class="o" cx="634.2" cy="202.1"/><circle class="o" cx="654.0" cy="193.3"/><circle class="o" cx="630.1" cy="208.0"/><circle class="o" cx="637.0" cy="207.6"/><circle class="o" cx="648.9" cy="196.8"/><circle class="o" cx="631.2" cy="212.7"/><circle class="o" cx="639.2" cy="200.6"/><circle class="o" cx="637.1" cy="213.5"/><circle class="o" cx="634.5" cy="216.8"/><circle class="o" cx="657.1" cy="188.6"/><circle class="o" cx="653.1" cy="195.1"/><circle class="o" cx="656.2" cy="189.9"/><circle class="o" cx="653.3" cy="196.6"/><circle class="o" cx="645.3" cy="199.4"/><circle class="o" cx="658.1" cy="188.9"/><circle class="o" cx="646.2" cy="199.5"/><circle class="o" cx="625.7" cy="215.0"/><circle class="o" cx="629.3" cy="213.6"/><circle class="o" cx="626.1" cy="223.0"/><circle class="o" cx="656.2" cy="189.8"/><circle class="o" cx="655.6" cy="194.8"/><circle class="o" cx="644.3" cy="199.5"/><circle class="o" cx="655.8" cy="200.0"/><circle class="o" cx="651.5" cy="192.7"/><circle class="o" cx="647.7" cy="201.7"/><circle class="o" cx="641.2" cy="204.3"/><circle class="o" cx="655.3" cy="198.0"/><circle class="o" cx="642.2" cy="203.5"/><circle class="o" cx="625.6" cy="213.5"/><circle class="o" cx="639.7" cy="198.9"/><circle class="o" cx="625.8" cy="215.3"/><circle class="o" cx="639.7" cy="213.0"/><circle class="o" cx="654.5" cy="192.1"/><circle class="o" cx="620.3" cy="218.9"/><circle class="o" cx="642.5" cy="208.7"/><circle class="o" cx="646.6" cy="196.0"/><circle class="o" cx="636.8" cy="213.0"/><circle class="o" cx="658.4" cy="181.0"/><circle class="o" cx="645.4" cy="196.3"/><circle class="o" cx="621.1" cy="229.0"/><circle class="o" cx="657.3" cy="195.6"/><circle class="o" cx="633.2" cy="203.9"/><circle class="o" cx="639.4" cy="206.5"/><circle class="o" cx="655.9" cy="181.4"/><circle class="o" cx="645.0" cy="198.6"/><circle class="o" cx="633.5" cy="207.1"/><circle class="o" cx="639.0" cy="210.5"/><circle class="o" cx="641.0" cy="203.6"/><circle class="o" cx="637.4" cy="211.6"/><circle class="o" cx="636.9" cy="218.7"/><circle class="o" cx="631.7" cy="216.3"/><circle class="o" cx="653.1" cy="199.4"/><circle class="o" cx="630.9" cy="209.1"/><circle class="o" cx="640.3" cy="196.1"/><circle class="o" cx="707.5" cy="146.4"/><circle class="o" cx="679.9" cy="171.8"/><circle class="o" cx="695.2" cy="151.3"/><circle class="o" cx="698.1" cy="153.0"/><circle class="o" cx="703.4" cy="150.4"/><circle class="o" cx="713.1" cy="141.9"/><circle class="o" cx="678.0" cy="171.8"/><circle class="o" cx="660.4" cy="181.9"/><circle class="o" cx="696.5" cy="142.0"/><circle class="o" cx="699.5" cy="148.9"/><circle class="o" cx="696.7" cy="167.7"/><circle class="o" cx="697.0" cy="161.0"/><circle class="o" cx="695.8" cy="162.2"/><circle class="o" cx="700.9" cy="148.8"/><circle class="o" cx="687.5" cy="154.0"/><circle class="o" cx="705.8" cy="143.5"/><circle class="o" cx="662.2" cy="183.0"/><circle class="o" cx="706.5" cy="138.3"/><circle class="o" cx="682.1" cy="172.2"/><circle class="o" cx="709.4" cy="141.6"/><circle class="o" cx="675.5" cy="181.2"/><circle class="o" cx="678.1" cy="175.9"/><circle class="o" cx="685.8" cy="161.8"/><circle class="o" cx="698.5" cy="151.2"/><circle class="o" cx="694.1" cy="157.8"/><circle class="o" cx="662.4" cy="177.0"/><circle class="o" cx="694.5" cy="149.0"/><circle class="o" cx="715.1" cy="139.2"/><circle class="o" cx="683.2" cy="166.3"/><circle class="o" cx="695.5" cy="139.8"/><circle class="o" cx="688.5" cy="168.5"/><circle class="o" cx="684.7" cy="158.2"/><circle class="o" cx="672.7" cy="170.7"/><circle class="o" cx="669.1" cy="178.6"/><circle class="o" cx="701.0" cy="150.7"/><circle class="o" cx="667.3" cy="178.2"/><circle class="o" cx="712.2" cy="141.4"/><circle class="o" cx="667.7" cy="170.7"/><circle class="o" cx="674.5" cy="173.3"/><circle class="o" cx="704.0" cy="147.4"/><circle class="o" cx="706.4" cy="144.2"/><circle class="o" cx="702.8" cy="143.1"/><circle class="o" cx="665.1" cy="190.6"/><circle class="o" cx="697.7" cy="155.5"/><circle class="o" cx="715.9" cy="144.1"/><circle class="o" cx="675.2" cy="164.3"/><circle class="o" cx="660.7" cy="188.9"/><circle class="o" cx="660.9" cy="193.1"/><circle class="o" cx="664.8" cy="192.2"/><circle class="o" cx="678.7" cy="171.2"/><circle class="o" cx="711.7" cy="145.0"/><circle class="o" cx="689.2" cy="155.9"/><circle class="o" cx="694.5" cy="154.5"/><circle class="o" cx="686.3" cy="165.4"/><circle class="o" cx="707.8" cy="147.8"/><circle class="o" cx="681.8" cy="173.2"/><circle class="o" cx="685.1" cy="171.8"/><circle class="o" cx="683.1" cy="163.4"/><circle class="o" cx="707.1" cy="159.8"/><circle class="o" cx="694.0" cy="157.6"/><circle class="o" cx="718.4" cy="133.2"/><circle class="o" cx="702.2" cy="147.2"/><circle class="o" cx="696.3" cy="159.8"/><circle class="o" cx="718.6" cy="131.1"/><circle class="o" cx="678.5" cy="178.1"/><circle class="o" cx="685.7" cy="159.9"/><circle class="o" cx="701.1" cy="154.6"/><circle class="o" cx="696.1" cy="146.4"/><circle class="o" cx="677.0" cy="178.9"/><circle class="o" cx="660.1" cy="187.7"/><circle class="o" cx="695.2" cy="149.6"/><circle class="o" cx="709.0" cy="142.4"/><circle class="o" cx="710.0" cy="144.0"/><circle class="o" cx="708.7" cy="138.6"/><circle class="o" cx="676.4" cy="178.6"/><circle class="o" cx="711.1" cy="138.6"/><circle class="o" cx="714.8" cy="147.2"/><circle class="o" cx="680.8" cy="162.1"/><circle class="o" cx="707.8" cy="140.8"/><circle class="o" cx="672.0" cy="176.6"/><circle class="o" cx="674.0" cy="189.0"/><circle class="o" cx="696.4" cy="157.9"/><circle class="o" cx="672.4" cy="182.4"/><circle class="o" cx="675.3" cy="173.6"/><circle class="o" cx="687.6" cy="173.6"/><circle class="o" cx="665.3" cy="179.0"/><circle class="o" cx="674.0" cy="184.7"/><circle class="o" cx="694.8" cy="146.2"/><circle class="o" cx="691.3" cy="167.1"/><circle class="o" cx="688.6" cy="165.2"/><circle class="o" cx="671.5" cy="179.1"/><circle class="o" cx="670.8" cy="179.4"/><circle class="o" cx="693.9" cy="162.7"/><circle class="o" cx="684.1" cy="169.3"/><circle class="o" cx="662.7" cy="185.3"/><circle class="o" cx="769.9" cy="91.6"/><circle class="o" cx="751.6" cy="103.7"/><circle class="o" cx="759.4" cy="94.3"/><circle class="o" cx="737.2" cy="111.7"/><circle class="o" cx="746.0" cy="109.2"/><circle class="o" cx="769.5" cy="89.7"/><circle class="o" cx="763.3" cy="103.3"/><circle class="o" cx="733.1" cy="121.6"/><circle class="o" cx="759.0" cy="112.5"/><circle class="o" cx="758.4" cy="93.1"/><circle class="o" cx="760.9" cy="92.9"/><circle class="o" cx="721.9" cy="133.3"/><circle class="o" cx="730.0" cy="123.9"/><circle class="o" cx="722.5" cy="129.3"/><circle class="o" cx="747.9" cy="104.5"/><circle class="o" cx="767.4" cy="96.7"/><circle class="o" cx="765.5" cy="85.8"/><circle class="o" cx="739.9" cy="113.0"/><circle class="o" cx="726.0" cy="124.0"/><circle class="o" cx="748.2" cy="110.0"/><circle class="o" cx="752.0" cy="96.7"/><circle class="o" cx="739.7" cy="118.9"/><circle class="o" cx="742.4" cy="105.4"/><circle class="o" cx="769.6" cy="76.4"/><circle class="o" cx="731.1" cy="119.5"/><circle class="o" cx="737.6" cy="117.1"/><circle class="o" cx="765.1" cy="84.1"/><circle class="o" cx="722.4" cy="138.4"/><circle class="o" cx="759.3" cy="101.2"/><circle class="o" cx="769.3" cy="98.6"/><circle class="o" cx="722.8" cy="125.1"/><circle class="o" cx="767.0" cy="84.0"/><circle class="o" cx="753.8" cy="106.3"/><circle class="o" cx="757.9" cy="92.4"/><circle class="o" cx="725.3" cy="131.3"/><circle class="o" cx="726.2" cy="124.2"/><circle class="o" cx="744.1" cy="110.3"/><circle class="o" cx="727.2" cy="123.6"/><circle class="o" cx="753.9" cy="94.1"/><circle class="o" cx="729.8" cy="124.5"/><circle class="o" cx="721.8" cy="128.4"/><circle class="o" cx="766.7" cy="94.3"/><circle class="o" cx="763.3" cy="92.8"/><circle class="o" cx="742.4" cy="116.2"/><circle class="o" cx="724.8" cy="119.0"/><circle class="o" cx="487.6" cy="353.7"/><circle class="o" cx="508.9" cy="312.8"/><circle class="o" cx="519.3" cy="301.0"/><circle class="o" cx="521.6" cy="318.7"/><circle class="o" cx="527.3" cy="312.8"/><circle class="o" cx="541.5" cy="306.3"/><circle class="o" cx="539.4" cy="274.6"/><circle class="o" cx="555.7" cy="317.6"/><circle class="o" cx="560.2" cy="291.5"/><circle class="o" cx="575.6" cy="290.9"/><circle class="o" cx="600.7" cy="268.4"/><circle class="o" cx="601.3" cy="273.1"/><circle class="o" cx="602.2" cy="276.7"/><circle class="o" cx="608.1" cy="255.3"/><circle class="o" cx="613.5" cy="261.3"/><circle class="o" cx="626.8" cy="255.0"/><circle class="o" cx="627.4" cy="196.7"/><circle class="o" cx="631.1" cy="198.9"/><circle class="o" cx="636.3" cy="198.1"/><circle class="o" cx="638.5" cy="191.5"/><circle class="o" cx="624.4" cy="204.1"/><circle class="o" cx="618.5" cy="205.6"/><circle class="o" cx="620.7" cy="209.3"/><circle class="o" cx="623.0" cy="212.2"/><circle class="o" cx="625.9" cy="214.4"/><circle class="o" cx="631.9" cy="212.2"/><circle class="o" cx="634.1" cy="215.9"/><circle class="o" cx="636.3" cy="220.4"/><circle class="o" cx="638.5" cy="216.7"/><circle class="o" cx="605.9" cy="214.4"/><circle class="o" cx="609.6" cy="213.7"/><circle class="o" cx="607.4" cy="219.6"/><circle class="o" cx="611.1" cy="220.4"/><circle class="o" cx="602.2" cy="223.3"/><circle class="o" cx="603.7" cy="230.0"/><circle class="o" cx="607.4" cy="226.3"/><circle class="o" cx="615.6" cy="221.1"/><circle class="o" cx="617.0" cy="224.8"/><circle class="o" cx="620.0" cy="219.6"/><circle class="o" cx="614.1" cy="228.5"/><circle class="o" cx="627.4" cy="225.6"/><circle class="o" cx="631.1" cy="227.8"/><circle class="o" cx="622.2" cy="233.7"/><circle class="o" cx="621.5" cy="238.9"/><circle class="o" cx="625.2" cy="239.6"/><circle class="o" cx="591.9" cy="229.3"/><circle class="o" cx="588.9" cy="233.0"/><circle class="o" cx="586.7" cy="236.7"/><circle class="o" cx="585.2" cy="241.1"/><circle class="o" cx="588.1" cy="243.3"/><circle class="o" cx="594.1" cy="237.4"/><circle class="o" cx="596.3" cy="239.6"/><circle class="o" cx="599.3" cy="237.4"/><circle class="o" cx="605.9" cy="242.6"/><circle class="o" cx="609.6" cy="238.1"/><circle class="o" cx="611.9" cy="246.3"/><circle class="o" cx="614.8" cy="245.6"/><circle class="o" cx="608.1" cy="248.5"/><circle class="o" cx="620.0" cy="248.5"/><circle class="o" cx="594.8" cy="246.3"/><circle class="o" cx="602.2" cy="248.5"/><circle class="o" cx="645.9" cy="239.6"/><circle class="o" cx="647.4" cy="223.3"/><circle class="o" cx="652.6" cy="215.9"/><circle class="o" cx="643.7" cy="210.7"/><circle class="o" cx="641.5" cy="206.3"/><circle class="o" cx="660.7" cy="207.0"/><circle class="o" cx="668.9" cy="204.1"/><circle class="o" cx="668.9" cy="206.6"/><circle class="o" cx="676.3" cy="193.7"/><circle class="o" cx="680.0" cy="192.2"/><circle class="o" cx="664.4" cy="193.0"/><circle class="o" cx="662.2" cy="196.7"/><circle class="o" cx="657.8" cy="194.4"/><circle class="o" cx="653.3" cy="199.6"/><circle class="o" cx="648.9" cy="200.4"/><circle class="o" cx="644.4" cy="197.4"/><circle class="o" cx="642.2" cy="194.4"/><circle class="o" cx="656.3" cy="190.7"/><circle class="o" cx="634.1" cy="186.3"/><circle class="o" cx="665.2" cy="147.8"/><circle class="o" cx="677.8" cy="130.3"/><circle class="o" cx="687.4" cy="131.5"/><circle class="o" cx="691.9" cy="135.9"/><circle class="o" cx="685.9" cy="139.6"/><circle class="o" cx="693.3" cy="142.6"/><circle class="o" cx="698.5" cy="144.8"/><circle class="o" cx="681.5" cy="147.0"/><circle class="o" cx="687.4" cy="146.3"/><circle class="o" cx="678.5" cy="151.5"/><circle class="o" cx="683.0" cy="152.2"/><circle class="o" cx="658.5" cy="158.1"/><circle class="o" cx="664.4" cy="157.4"/><circle class="o" cx="671.8" cy="158.9"/><circle class="o" cx="677.8" cy="158.1"/><circle class="o" cx="683.0" cy="157.4"/><circle class="o" cx="688.9" cy="156.7"/><circle class="o" cx="693.3" cy="153.7"/><circle class="o" cx="644.4" cy="167.8"/><circle class="o" cx="648.9" cy="168.5"/><circle class="o" cx="654.8" cy="170.0"/><circle class="o" cx="660.0" cy="167.0"/><circle class="o" cx="662.2" cy="170.7"/><circle class="o" cx="665.9" cy="168.5"/><circle class="o" cx="671.8" cy="167.0"/><circle class="o" cx="674.1" cy="170.7"/><circle class="o" cx="669.6" cy="165.6"/><circle class="o" cx="677.0" cy="163.3"/><circle class="o" cx="682.2" cy="161.9"/><circle class="o" cx="686.7" cy="164.8"/><circle class="o" cx="690.4" cy="161.1"/><circle class="o" cx="696.3" cy="161.9"/><circle class="o" cx="698.5" cy="167.0"/><circle class="o" cx="684.4" cy="171.5"/><circle class="o" cx="679.3" cy="174.4"/><circle class="o" cx="683.7" cy="177.4"/><circle class="o" cx="642.2" cy="177.4"/><circle class="o" cx="641.5" cy="182.6"/><circle class="o" cx="648.9" cy="180.4"/><circle class="o" cx="652.6" cy="181.1"/><circle class="o" cx="656.3" cy="182.6"/><circle class="o" cx="660.7" cy="178.9"/><circle class="o" cx="664.4" cy="173.7"/><circle class="o" cx="675.6" cy="178.9"/><circle class="o" cx="673.3" cy="185.6"/><circle class="o" cx="679.3" cy="185.6"/><circle class="o" cx="691.9" cy="178.9"/><circle class="o" cx="696.3" cy="174.4"/><circle class="o" cx="695.6" cy="182.6"/><circle class="o" cx="698.5" cy="177.4"/><circle class="o" cx="648.1" cy="188.5"/><circle class="o" cx="705.9" cy="183.3"/><circle class="o" cx="702.2" cy="164.8"/><circle class="o" cx="700.7" cy="159.6"/><circle class="o" cx="705.2" cy="160.4"/><circle class="o" cx="710.4" cy="161.9"/><circle class="o" cx="715.6" cy="162.6"/><circle class="o" cx="711.1" cy="157.4"/><circle class="o" cx="723.0" cy="157.4"/><circle class="o" cx="708.9" cy="150.7"/><circle class="o" cx="714.1" cy="152.2"/><circle class="o" cx="716.3" cy="148.5"/><circle class="o" cx="713.3" cy="146.3"/><circle class="o" cx="731.9" cy="147.8"/><circle class="o" cx="729.6" cy="139.6"/><circle class="o" cx="731.9" cy="133.7"/><circle class="o" cx="722.2" cy="138.9"/><circle class="o" cx="719.3" cy="135.9"/><circle class="o" cx="710.4" cy="135.2"/><circle class="o" cx="706.7" cy="132.2"/><circle class="o" cx="701.5" cy="135.2"/><circle class="o" cx="703.0" cy="140.4"/><circle class="o" cx="704.4" cy="144.8"/><circle class="o" cx="712.6" cy="131.5"/><circle class="o" cx="723.7" cy="130.7"/><circle class="o" cx="708.2" cy="141.9"/><circle class="o" cx="751.8" cy="81.1"/><circle class="o" cx="758.5" cy="84.1"/><circle class="o" cx="748.9" cy="93.0"/><circle class="o" cx="757.8" cy="91.5"/><circle class="o" cx="709.2" cy="105.6"/><circle class="o" cx="709.6" cy="113.3"/><circle class="o" cx="701.5" cy="114.4"/><circle class="o" cx="703.7" cy="118.9"/><circle class="o" cx="705.9" cy="122.6"/><circle class="o" cx="710.4" cy="121.9"/><circle class="o" cx="713.3" cy="123.3"/><circle class="o" cx="716.3" cy="125.6"/><circle class="o" cx="708.9" cy="127.0"/><circle class="o" cx="718.5" cy="128.5"/><circle class="o" cx="724.4" cy="106.3"/><circle class="o" cx="723.7" cy="110.0"/><circle class="o" cx="722.2" cy="114.4"/><circle class="o" cx="724.4" cy="117.4"/><circle class="o" cx="728.9" cy="113.7"/><circle class="o" cx="728.1" cy="119.6"/><circle class="o" cx="731.9" cy="121.1"/><circle class="o" cx="737.8" cy="111.5"/><circle class="o" cx="739.3" cy="114.4"/><circle class="o" cx="741.5" cy="118.9"/><circle class="o" cx="744.4" cy="115.9"/><circle class="o" cx="745.9" cy="105.6"/><circle class="o" cx="751.1" cy="113.0"/><circle class="o" cx="751.8" cy="107.0"/><circle class="o" cx="736.3" cy="127.0"/><circle class="o" cx="704.4" cy="128.5"/><circle class="o" cx="746.7" cy="121.9"/><circle class="o" cx="729.6" cy="127.0"/><circle class="o" cx="765.2" cy="103.3"/><circle class="o" cx="774.8" cy="107.8"/><circle class="o" cx="768.1" cy="78.1"/><circle class="o" cx="772.6" cy="81.1"/><circle class="o" cx="776.3" cy="81.9"/><circle class="o" cx="765.9" cy="91.5"/><circle class="o" cx="797.8" cy="73.0"/><circle class="o" cx="800.7" cy="71.2"/><circle class="o" cx="559.0" cy="232.7"/><circle class="o" cx="555.6" cy="281.1"/><circle class="o" cx="556.3" cy="284.8"/><circle class="o" cx="563.7" cy="286.3"/><circle class="o" cx="570.4" cy="273.0"/><circle class="o" cx="571.9" cy="278.1"/><circle class="o" cx="574.1" cy="276.7"/><circle class="o" cx="571.9" cy="284.8"/><circle class="o" cx="577.0" cy="270.0"/><circle class="o" cx="580.0" cy="269.3"/><circle class="o" cx="583.0" cy="268.5"/><circle class="o" cx="578.5" cy="272.2"/><circle class="o" cx="585.9" cy="278.9"/><circle class="o" cx="596.3" cy="264.8"/><circle class="o" cx="586.7" cy="245.6"/><circle class="o" cx="584.4" cy="250.7"/><circle class="o" cx="591.9" cy="253.7"/><circle class="o" cx="596.3" cy="249.3"/><circle class="o" cx="598.5" cy="252.2"/></g>
<g><path class="r" d="M508.6 316.6l4.8 4.8m0-4.8l-4.8 4.8"/><path class="r" d="M516.9 309.2l4.8 4.8m0-4.8l-4.8 4.8"/><path class="r" d="M776.9 78.7l4.8 4.8m0-4.8l-4.8 4.8"/><path class="r" d="M780.6 75.7l4.8 4.8m0-4.8l-4.8 4.8"/><path class="r" d="M783.5 72.8l4.8 4.8m0-4.8l-4.8 4.8"/><path class="r" d="M806.3 52.6l4.8 4.8m0-4.8l-4.8 4.8"/><path class="r" d="M799.2 59.5l4.8 4.8m0-4.8l-4.8 4.8"/><path class="r" d="M548.0 281.7l4.8 4.8m0-4.8l-4.8 4.8"/><path class="r" d="M552.4 276.5l4.8 4.8m0-4.8l-4.8 4.8"/><path class="r" d="M558.3 272.0l4.8 4.8m0-4.8l-4.8 4.8"/><path class="r" d="M565.0 265.4l4.8 4.8m0-4.8l-4.8 4.8"/><path class="r" d="M570.9 259.5l4.8 4.8m0-4.8l-4.8 4.8"/><path class="r" d="M582.5 250.8l4.8 4.8m0-4.8l-4.8 4.8"/><path class="r" d="M576.8 256.3l4.8 4.8m0-4.8l-4.8 4.8"/><path class="r" d="M595.2 239.8l4.8 4.8m0-4.8l-4.8 4.8"/><path class="r" d="M585.0 248.9l4.8 4.8m0-4.8l-4.8 4.8"/><path class="r" d="M597.5 237.0l4.8 4.8m0-4.8l-4.8 4.8"/><path class="r" d="M583.8 250.0l4.8 4.8m0-4.8l-4.8 4.8"/><path class="r" d="M574.9 257.9l4.8 4.8m0-4.8l-4.8 4.8"/><path class="r" d="M581.1 252.3l4.8 4.8m0-4.8l-4.8 4.8"/><path class="r" d="M579.1 254.3l4.8 4.8m0-4.8l-4.8 4.8"/><path class="r" d="M586.8 246.9l4.8 4.8m0-4.8l-4.8 4.8"/><path class="r" d="M582.9 251.5l4.8 4.8m0-4.8l-4.8 4.8"/><path class="r" d="M582.9 251.5l4.8 4.8m0-4.8l-4.8 4.8"/><path class="r" d="M604.4 232.0l4.8 4.8m0-4.8l-4.8 4.8"/><path class="r" d="M598.8 237.1l4.8 4.8m0-4.8l-4.8 4.8"/><path class="r" d="M600.1 234.5l4.8 4.8m0-4.8l-4.8 4.8"/><path class="r" d="M607.7 229.7l4.8 4.8m0-4.8l-4.8 4.8"/><path class="r" d="M601.9 234.8l4.8 4.8m0-4.8l-4.8 4.8"/><path class="r" d="M603.0 233.1l4.8 4.8m0-4.8l-4.8 4.8"/><path class="r" d="M606.5 229.5l4.8 4.8m0-4.8l-4.8 4.8"/><path class="r" d="M616.7 220.4l4.8 4.8m0-4.8l-4.8 4.8"/><path class="r" d="M598.0 238.4l4.8 4.8m0-4.8l-4.8 4.8"/><path class="r" d="M598.2 237.6l4.8 4.8m0-4.8l-4.8 4.8"/><path class="r" d="M607.1 230.5l4.8 4.8m0-4.8l-4.8 4.8"/><path class="r" d="M609.3 227.0l4.8 4.8m0-4.8l-4.8 4.8"/><path class="r" d="M616.1 221.5l4.8 4.8m0-4.8l-4.8 4.8"/><path class="r" d="M614.1 222.5l4.8 4.8m0-4.8l-4.8 4.8"/><path class="r" d="M602.6 234.6l4.8 4.8m0-4.8l-4.8 4.8"/><path class="r" d="M599.8 235.7l4.8 4.8m0-4.8l-4.8 4.8"/><path class="r" d="M611.2 225.3l4.8 4.8m0-4.8l-4.8 4.8"/><path class="r" d="M616.4 221.3l4.8 4.8m0-4.8l-4.8 4.8"/><path class="r" d="M612.9 225.0l4.8 4.8m0-4.8l-4.8 4.8"/><path class="r" d="M606.7 230.0l4.8 4.8m0-4.8l-4.8 4.8"/><path class="r" d="M613.2 224.1l4.8 4.8m0-4.8l-4.8 4.8"/><path class="r" d="M602.3 233.2l4.8 4.8m0-4.8l-4.8 4.8"/><path class="r" d="M603.7 232.9l4.8 4.8m0-4.8l-4.8 4.8"/><path class="r" d="M600.2 235.7l4.8 4.8m0-4.8l-4.8 4.8"/><path class="r" d="M611.6 224.8l4.8 4.8m0-4.8l-4.8 4.8"/><path class="r" d="M599.8 235.4l4.8 4.8m0-4.8l-4.8 4.8"/><path class="r" d="M609.3 227.3l4.8 4.8m0-4.8l-4.8 4.8"/><path class="r" d="M605.4 230.9l4.8 4.8m0-4.8l-4.8 4.8"/><path class="r" d="M597.8 237.1l4.8 4.8m0-4.8l-4.8 4.8"/><path class="r" d="M603.6 233.8l4.8 4.8m0-4.8l-4.8 4.8"/><path class="r" d="M669.2 174.0l4.8 4.8m0-4.8l-4.8 4.8"/><path class="r" d="M688.3 157.6l4.8 4.8m0-4.8l-4.8 4.8"/><path class="r" d="M637.4 202.5l4.8 4.8m0-4.8l-4.8 4.8"/><path class="r" d="M694.4 151.9l4.8 4.8m0-4.8l-4.8 4.8"/><path class="r" d="M619.3 219.0l4.8 4.8m0-4.8l-4.8 4.8"/><path class="r" d="M657.5 184.9l4.8 4.8m0-4.8l-4.8 4.8"/><path class="r" d="M638.2 202.3l4.8 4.8m0-4.8l-4.8 4.8"/><path class="r" d="M671.0 172.4l4.8 4.8m0-4.8l-4.8 4.8"/><path class="r" d="M620.3 217.9l4.8 4.8m0-4.8l-4.8 4.8"/><path class="r" d="M644.6 196.8l4.8 4.8m0-4.8l-4.8 4.8"/><path class="r" d="M633.4 205.7l4.8 4.8m0-4.8l-4.8 4.8"/><path class="r" d="M681.4 163.5l4.8 4.8m0-4.8l-4.8 4.8"/><path class="r" d="M634.0 206.1l4.8 4.8m0-4.8l-4.8 4.8"/><path class="r" d="M695.2 151.5l4.8 4.8m0-4.8l-4.8 4.8"/><path class="r" d="M636.1 202.9l4.8 4.8m0-4.8l-4.8 4.8"/><path class="r" d="M635.3 204.4l4.8 4.8m0-4.8l-4.8 4.8"/><path class="r" d="M693.8 152.8l4.8 4.8m0-4.8l-4.8 4.8"/><path class="r" d="M657.3 184.7l4.8 4.8m0-4.8l-4.8 4.8"/><path class="r" d="M651.0 190.2l4.8 4.8m0-4.8l-4.8 4.8"/><path class="r" d="M670.8 172.6l4.8 4.8m0-4.8l-4.8 4.8"/><path class="r" d="M649.1 192.2l4.8 4.8m0-4.8l-4.8 4.8"/><path class="r" d="M634.6 204.7l4.8 4.8m0-4.8l-4.8 4.8"/><path class="r" d="M621.7 216.5l4.8 4.8m0-4.8l-4.8 4.8"/><path class="r" d="M622.4 216.7l4.8 4.8m0-4.8l-4.8 4.8"/><path class="r" d="M688.3 156.6l4.8 4.8m0-4.8l-4.8 4.8"/><path class="r" d="M676.2 166.9l4.8 4.8m0-4.8l-4.8 4.8"/><path class="r" d="M643.9 196.7l4.8 4.8m0-4.8l-4.8 4.8"/><path class="r" d="M632.4 206.2l4.8 4.8m0-4.8l-4.8 4.8"/><path class="r" d="M620.2 218.2l4.8 4.8m0-4.8l-4.8 4.8"/><path class="r" d="M670.8 173.2l4.8 4.8m0-4.8l-4.8 4.8"/><path class="r" d="M644.1 196.2l4.8 4.8m0-4.8l-4.8 4.8"/><path class="r" d="M631.1 207.7l4.8 4.8m0-4.8l-4.8 4.8"/><path class="r" d="M645.7 195.1l4.8 4.8m0-4.8l-4.8 4.8"/><path class="r" d="M694.0 151.3l4.8 4.8m0-4.8l-4.8 4.8"/><path class="r" d="M634.2 204.5l4.8 4.8m0-4.8l-4.8 4.8"/><path class="r" d="M646.1 194.4l4.8 4.8m0-4.8l-4.8 4.8"/><path class="r" d="M652.2 190.2l4.8 4.8m0-4.8l-4.8 4.8"/><path class="r" d="M621.5 217.1l4.8 4.8m0-4.8l-4.8 4.8"/><path class="r" d="M691.2 154.6l4.8 4.8m0-4.8l-4.8 4.8"/><path class="r" d="M633.0 207.1l4.8 4.8m0-4.8l-4.8 4.8"/><path class="r" d="M620.0 217.2l4.8 4.8m0-4.8l-4.8 4.8"/><path class="r" d="M650.5 190.6l4.8 4.8m0-4.8l-4.8 4.8"/><path class="r" d="M620.9 218.0l4.8 4.8m0-4.8l-4.8 4.8"/><path class="r" d="M620.4 216.7l4.8 4.8m0-4.8l-4.8 4.8"/><path class="r" d="M638.2 201.4l4.8 4.8m0-4.8l-4.8 4.8"/><path class="r" d="M677.4 166.6l4.8 4.8m0-4.8l-4.8 4.8"/><path class="r" d="M639.4 201.0l4.8 4.8m0-4.8l-4.8 4.8"/><path class="r" d="M694.2 152.3l4.8 4.8m0-4.8l-4.8 4.8"/><path class="r" d="M674.9 169.4l4.8 4.8m0-4.8l-4.8 4.8"/><path class="r" d="M642.9 197.6l4.8 4.8m0-4.8l-4.8 4.8"/><path class="r" d="M678.1 166.3l4.8 4.8m0-4.8l-4.8 4.8"/><path class="r" d="M690.9 155.7l4.8 4.8m0-4.8l-4.8 4.8"/><path class="r" d="M619.5 219.3l4.8 4.8m0-4.8l-4.8 4.8"/><path class="r" d="M636.3 204.7l4.8 4.8m0-4.8l-4.8 4.8"/><path class="r" d="M693.9 152.1l4.8 4.8m0-4.8l-4.8 4.8"/><path class="r" d="M648.5 192.7l4.8 4.8m0-4.8l-4.8 4.8"/><path class="r" d="M657.1 184.5l4.8 4.8m0-4.8l-4.8 4.8"/><path class="r" d="M691.8 153.7l4.8 4.8m0-4.8l-4.8 4.8"/><path class="r" d="M676.7 166.8l4.8 4.8m0-4.8l-4.8 4.8"/><path class="r" d="M683.4 161.5l4.8 4.8m0-4.8l-4.8 4.8"/><path class="r" d="M643.8 197.5l4.8 4.8m0-4.8l-4.8 4.8"/><path class="r" d="M643.2 198.0l4.8 4.8m0-4.8l-4.8 4.8"/><path class="r" d="M623.9 213.9l4.8 4.8m0-4.8l-4.8 4.8"/><path class="r" d="M633.4 206.1l4.8 4.8m0-4.8l-4.8 4.8"/><path class="r" d="M622.8 215.9l4.8 4.8m0-4.8l-4.8 4.8"/><path class="r" d="M620.3 218.2l4.8 4.8m0-4.8l-4.8 4.8"/><path class="r" d="M696.0 150.5l4.8 4.8m0-4.8l-4.8 4.8"/><path class="r" d="M688.3 156.9l4.8 4.8m0-4.8l-4.8 4.8"/><path class="r" d="M624.3 214.2l4.8 4.8m0-4.8l-4.8 4.8"/><path class="r" d="M625.3 214.1l4.8 4.8m0-4.8l-4.8 4.8"/><path class="r" d="M653.4 188.3l4.8 4.8m0-4.8l-4.8 4.8"/><path class="r" d="M636.3 204.1l4.8 4.8m0-4.8l-4.8 4.8"/><path class="r" d="M671.5 171.8l4.8 4.8m0-4.8l-4.8 4.8"/><path class="r" d="M677.4 166.5l4.8 4.8m0-4.8l-4.8 4.8"/><path class="r" d="M627.3 212.1l4.8 4.8m0-4.8l-4.8 4.8"/><path class="r" d="M684.9 160.5l4.8 4.8m0-4.8l-4.8 4.8"/><path class="r" d="M647.4 193.0l4.8 4.8m0-4.8l-4.8 4.8"/><path class="r" d="M676.6 167.5l4.8 4.8m0-4.8l-4.8 4.8"/><path class="r" d="M637.2 202.4l4.8 4.8m0-4.8l-4.8 4.8"/><path class="r" d="M629.9 208.8l4.8 4.8m0-4.8l-4.8 4.8"/><path class="r" d="M643.7 197.4l4.8 4.8m0-4.8l-4.8 4.8"/><path class="r" d="M649.3 191.4l4.8 4.8m0-4.8l-4.8 4.8"/><path class="r" d="M636.1 203.7l4.8 4.8m0-4.8l-4.8 4.8"/><path class="r" d="M682.3 163.5l4.8 4.8m0-4.8l-4.8 4.8"/><path class="r" d="M625.8 214.1l4.8 4.8m0-4.8l-4.8 4.8"/><path class="r" d="M655.6 186.0l4.8 4.8m0-4.8l-4.8 4.8"/><path class="r" d="M690.8 155.9l4.8 4.8m0-4.8l-4.8 4.8"/><path class="r" d="M620.8 217.4l4.8 4.8m0-4.8l-4.8 4.8"/><path class="r" d="M632.8 206.4l4.8 4.8m0-4.8l-4.8 4.8"/><path class="r" d="M695.4 151.9l4.8 4.8m0-4.8l-4.8 4.8"/><path class="r" d="M647.4 194.2l4.8 4.8m0-4.8l-4.8 4.8"/><path class="r" d="M686.9 158.9l4.8 4.8m0-4.8l-4.8 4.8"/><path class="r" d="M679.8 164.7l4.8 4.8m0-4.8l-4.8 4.8"/><path class="r" d="M693.3 152.3l4.8 4.8m0-4.8l-4.8 4.8"/><path class="r" d="M667.2 175.6l4.8 4.8m0-4.8l-4.8 4.8"/><path class="r" d="M635.0 204.9l4.8 4.8m0-4.8l-4.8 4.8"/><path class="r" d="M633.9 205.4l4.8 4.8m0-4.8l-4.8 4.8"/><path class="r" d="M638.0 202.6l4.8 4.8m0-4.8l-4.8 4.8"/><path class="r" d="M633.9 206.1l4.8 4.8m0-4.8l-4.8 4.8"/><path class="r" d="M618.5 219.7l4.8 4.8m0-4.8l-4.8 4.8"/><path class="r" d="M632.4 206.3l4.8 4.8m0-4.8l-4.8 4.8"/><path class="r" d="M642.6 197.7l4.8 4.8m0-4.8l-4.8 4.8"/><path class="r" d="M661.4 180.3l4.8 4.8m0-4.8l-4.8 4.8"/><path class="r" d="M622.7 215.3l4.8 4.8m0-4.8l-4.8 4.8"/><path class="r" d="M661.6 180.7l4.8 4.8m0-4.8l-4.8 4.8"/><path class="r" d="M668.7 174.4l4.8 4.8m0-4.8l-4.8 4.8"/><path class="r" d="M673.2 170.5l4.8 4.8m0-4.8l-4.8 4.8"/><path class="r" d="M650.4 191.1l4.8 4.8m0-4.8l-4.8 4.8"/><path class="r" d="M693.9 151.9l4.8 4.8m0-4.8l-4.8 4.8"/><path class="r" d="M642.6 198.4l4.8 4.8m0-4.8l-4.8 4.8"/><path class="r" d="M650.9 190.7l4.8 4.8m0-4.8l-4.8 4.8"/><path class="r" d="M686.7 158.2l4.8 4.8m0-4.8l-4.8 4.8"/><path class="r" d="M633.4 206.1l4.8 4.8m0-4.8l-4.8 4.8"/><path class="r" d="M675.8 168.3l4.8 4.8m0-4.8l-4.8 4.8"/><path class="r" d="M689.7 155.9l4.8 4.8m0-4.8l-4.8 4.8"/><path class="r" d="M651.5 189.8l4.8 4.8m0-4.8l-4.8 4.8"/><path class="r" d="M688.2 157.8l4.8 4.8m0-4.8l-4.8 4.8"/><path class="r" d="M654.5 187.3l4.8 4.8m0-4.8l-4.8 4.8"/><path class="r" d="M661.7 180.8l4.8 4.8m0-4.8l-4.8 4.8"/><path class="r" d="M668.9 174.4l4.8 4.8m0-4.8l-4.8 4.8"/><path class="r" d="M667.4 176.0l4.8 4.8m0-4.8l-4.8 4.8"/><path class="r" d="M647.3 194.0l4.8 4.8m0-4.8l-4.8 4.8"/><path class="r" d="M640.3 200.0l4.8 4.8m0-4.8l-4.8 4.8"/><path class="r" d="M659.3 182.9l4.8 4.8m0-4.8l-4.8 4.8"/><path class="r" d="M656.8 185.4l4.8 4.8m0-4.8l-4.8 4.8"/><path class="r" d="M682.0 162.6l4.8 4.8m0-4.8l-4.8 4.8"/><path class="r" d="M627.7 211.2l4.8 4.8m0-4.8l-4.8 4.8"/><path class="r" d="M693.0 152.5l4.8 4.8m0-4.8l-4.8 4.8"/><path class="r" d="M621.9 216.5l4.8 4.8m0-4.8l-4.8 4.8"/><path class="r" d="M691.7 155.1l4.8 4.8m0-4.8l-4.8 4.8"/><path class="r" d="M667.2 175.3l4.8 4.8m0-4.8l-4.8 4.8"/><path class="r" d="M683.6 161.0l4.8 4.8m0-4.8l-4.8 4.8"/><path class="r" d="M635.4 203.6l4.8 4.8m0-4.8l-4.8 4.8"/><path class="r" d="M650.0 190.9l4.8 4.8m0-4.8l-4.8 4.8"/><path class="r" d="M632.2 207.9l4.8 4.8m0-4.8l-4.8 4.8"/><path class="r" d="M635.1 205.1l4.8 4.8m0-4.8l-4.8 4.8"/><path class="r" d="M648.3 192.5l4.8 4.8m0-4.8l-4.8 4.8"/><path class="r" d="M627.4 211.4l4.8 4.8m0-4.8l-4.8 4.8"/><path class="r" d="M689.4 155.5l4.8 4.8m0-4.8l-4.8 4.8"/><path class="r" d="M620.9 218.0l4.8 4.8m0-4.8l-4.8 4.8"/><path class="r" d="M620.7 217.8l4.8 4.8m0-4.8l-4.8 4.8"/><path class="r" d="M684.7 160.0l4.8 4.8m0-4.8l-4.8 4.8"/><path class="r" d="M661.6 180.6l4.8 4.8m0-4.8l-4.8 4.8"/><path class="r" d="M667.8 175.7l4.8 4.8m0-4.8l-4.8 4.8"/><path class="r" d="M664.2 178.2l4.8 4.8m0-4.8l-4.8 4.8"/><path class="r" d="M651.7 190.2l4.8 4.8m0-4.8l-4.8 4.8"/><path class="r" d="M652.7 189.4l4.8 4.8m0-4.8l-4.8 4.8"/><path class="r" d="M619.5 218.9l4.8 4.8m0-4.8l-4.8 4.8"/><path class="r" d="M636.4 203.8l4.8 4.8m0-4.8l-4.8 4.8"/><path class="r" d="M678.7 165.7l4.8 4.8m0-4.8l-4.8 4.8"/><path class="r" d="M632.0 207.9l4.8 4.8m0-4.8l-4.8 4.8"/><path class="r" d="M655.5 186.3l4.8 4.8m0-4.8l-4.8 4.8"/><path class="r" d="M652.0 189.4l4.8 4.8m0-4.8l-4.8 4.8"/><path class="r" d="M624.9 214.2l4.8 4.8m0-4.8l-4.8 4.8"/><path class="r" d="M620.9 217.1l4.8 4.8m0-4.8l-4.8 4.8"/><path class="r" d="M668.5 174.2l4.8 4.8m0-4.8l-4.8 4.8"/><path class="r" d="M679.8 164.4l4.8 4.8m0-4.8l-4.8 4.8"/><path class="r" d="M658.5 183.2l4.8 4.8m0-4.8l-4.8 4.8"/><path class="r" d="M647.8 193.1l4.8 4.8m0-4.8l-4.8 4.8"/><path class="r" d="M693.7 151.9l4.8 4.8m0-4.8l-4.8 4.8"/><path class="r" d="M697.3 148.5l4.8 4.8m0-4.8l-4.8 4.8"/><path class="r" d="M676.2 167.9l4.8 4.8m0-4.8l-4.8 4.8"/><path class="r" d="M696.1 150.6l4.8 4.8m0-4.8l-4.8 4.8"/><path class="r" d="M656.9 184.1l4.8 4.8m0-4.8l-4.8 4.8"/><path class="r" d="M630.8 208.7l4.8 4.8m0-4.8l-4.8 4.8"/><path class="r" d="M680.7 163.9l4.8 4.8m0-4.8l-4.8 4.8"/><path class="r" d="M645.7 195.3l4.8 4.8m0-4.8l-4.8 4.8"/><path class="r" d="M678.1 165.8l4.8 4.8m0-4.8l-4.8 4.8"/><path class="r" d="M639.6 199.7l4.8 4.8m0-4.8l-4.8 4.8"/><path class="r" d="M682.9 161.8l4.8 4.8m0-4.8l-4.8 4.8"/><path class="r" d="M691.2 154.2l4.8 4.8m0-4.8l-4.8 4.8"/><path class="r" d="M634.3 205.4l4.8 4.8m0-4.8l-4.8 4.8"/><path class="r" d="M643.1 196.9l4.8 4.8m0-4.8l-4.8 4.8"/><path class="r" d="M620.5 217.4l4.8 4.8m0-4.8l-4.8 4.8"/><path class="r" d="M692.5 153.3l4.8 4.8m0-4.8l-4.8 4.8"/><path class="r" d="M672.0 171.6l4.8 4.8m0-4.8l-4.8 4.8"/><path class="r" d="M680.4 164.5l4.8 4.8m0-4.8l-4.8 4.8"/><path class="r" d="M626.8 212.7l4.8 4.8m0-4.8l-4.8 4.8"/><path class="r" d="M646.4 194.7l4.8 4.8m0-4.8l-4.8 4.8"/><path class="r" d="M687.4 158.6l4.8 4.8m0-4.8l-4.8 4.8"/><path class="r" d="M688.2 157.6l4.8 4.8m0-4.8l-4.8 4.8"/><path class="r" d="M626.0 212.0l4.8 4.8m0-4.8l-4.8 4.8"/><path class="r" d="M649.1 192.1l4.8 4.8m0-4.8l-4.8 4.8"/><path class="r" d="M681.4 163.5l4.8 4.8m0-4.8l-4.8 4.8"/><path class="r" d="M663.8 177.6l4.8 4.8m0-4.8l-4.8 4.8"/><path class="r" d="M646.4 194.5l4.8 4.8m0-4.8l-4.8 4.8"/><path class="r" d="M631.7 208.1l4.8 4.8m0-4.8l-4.8 4.8"/><path class="r" d="M677.1 166.4l4.8 4.8m0-4.8l-4.8 4.8"/><path class="r" d="M637.9 201.8l4.8 4.8m0-4.8l-4.8 4.8"/><path class="r" d="M668.7 174.0l4.8 4.8m0-4.8l-4.8 4.8"/><path class="r" d="M670.7 173.0l4.8 4.8m0-4.8l-4.8 4.8"/><path class="r" d="M642.6 197.8l4.8 4.8m0-4.8l-4.8 4.8"/><path class="r" d="M629.5 209.5l4.8 4.8m0-4.8l-4.8 4.8"/><path class="r" d="M666.9 176.9l4.8 4.8m0-4.8l-4.8 4.8"/><path class="r" d="M689.2 156.2l4.8 4.8m0-4.8l-4.8 4.8"/><path class="r" d="M628.2 210.7l4.8 4.8m0-4.8l-4.8 4.8"/><path class="r" d="M619.4 217.9l4.8 4.8m0-4.8l-4.8 4.8"/><path class="r" d="M617.8 220.1l4.8 4.8m0-4.8l-4.8 4.8"/><path class="r" d="M646.2 194.6l4.8 4.8m0-4.8l-4.8 4.8"/><path class="r" d="M635.5 204.8l4.8 4.8m0-4.8l-4.8 4.8"/><path class="r" d="M633.9 206.0l4.8 4.8m0-4.8l-4.8 4.8"/><path class="r" d="M667.5 176.0l4.8 4.8m0-4.8l-4.8 4.8"/><path class="r" d="M692.5 153.5l4.8 4.8m0-4.8l-4.8 4.8"/><path class="r" d="M637.1 202.7l4.8 4.8m0-4.8l-4.8 4.8"/><path class="r" d="M668.7 174.6l4.8 4.8m0-4.8l-4.8 4.8"/><path class="r" d="M687.3 158.1l4.8 4.8m0-4.8l-4.8 4.8"/><path class="r" d="M638.7 201.8l4.8 4.8m0-4.8l-4.8 4.8"/><path class="r" d="M618.5 219.7l4.8 4.8m0-4.8l-4.8 4.8"/><path class="r" d="M645.6 195.7l4.8 4.8m0-4.8l-4.8 4.8"/><path class="r" d="M669.2 175.3l4.8 4.8m0-4.8l-4.8 4.8"/><path class="r" d="M676.3 167.6l4.8 4.8m0-4.8l-4.8 4.8"/><path class="r" d="M637.5 202.4l4.8 4.8m0-4.8l-4.8 4.8"/><path class="r" d="M660.1 182.4l4.8 4.8m0-4.8l-4.8 4.8"/><path class="r" d="M650.1 191.3l4.8 4.8m0-4.8l-4.8 4.8"/><path class="r" d="M679.9 164.6l4.8 4.8m0-4.8l-4.8 4.8"/><path class="r" d="M618.6 220.4l4.8 4.8m0-4.8l-4.8 4.8"/><path class="r" d="M629.0 210.4l4.8 4.8m0-4.8l-4.8 4.8"/><path class="r" d="M633.6 206.4l4.8 4.8m0-4.8l-4.8 4.8"/><path class="r" d="M668.9 174.9l4.8 4.8m0-4.8l-4.8 4.8"/><path class="r" d="M682.7 162.1l4.8 4.8m0-4.8l-4.8 4.8"/><path class="r" d="M641.6 198.4l4.8 4.8m0-4.8l-4.8 4.8"/><path class="r" d="M621.5 216.1l4.8 4.8m0-4.8l-4.8 4.8"/><path class="r" d="M674.8 169.8l4.8 4.8m0-4.8l-4.8 4.8"/><path class="r" d="M618.1 219.3l4.8 4.8m0-4.8l-4.8 4.8"/><path class="r" d="M716.2 133.1l4.8 4.8m0-4.8l-4.8 4.8"/><path class="r" d="M727.3 122.9l4.8 4.8m0-4.8l-4.8 4.8"/><path class="r" d="M701.8 145.1l4.8 4.8m0-4.8l-4.8 4.8"/><path class="r" d="M706.9 140.3l4.8 4.8m0-4.8l-4.8 4.8"/><path class="r" d="M727.6 122.2l4.8 4.8m0-4.8l-4.8 4.8"/><path class="r" d="M725.4 123.8l4.8 4.8m0-4.8l-4.8 4.8"/><path class="r" d="M708.2 140.2l4.8 4.8m0-4.8l-4.8 4.8"/><path class="r" d="M719.8 130.1l4.8 4.8m0-4.8l-4.8 4.8"/><path class="r" d="M718.5 130.0l4.8 4.8m0-4.8l-4.8 4.8"/><path class="r" d="M708.2 140.3l4.8 4.8m0-4.8l-4.8 4.8"/><path class="r" d="M706.3 142.3l4.8 4.8m0-4.8l-4.8 4.8"/><path class="r" d="M732.8 117.3l4.8 4.8m0-4.8l-4.8 4.8"/><path class="r" d="M707.0 140.6l4.8 4.8m0-4.8l-4.8 4.8"/><path class="r" d="M727.4 121.8l4.8 4.8m0-4.8l-4.8 4.8"/><path class="r" d="M710.7 137.6l4.8 4.8m0-4.8l-4.8 4.8"/><path class="r" d="M732.8 117.8l4.8 4.8m0-4.8l-4.8 4.8"/><path class="r" d="M733.9 116.4l4.8 4.8m0-4.8l-4.8 4.8"/><path class="r" d="M722.8 126.8l4.8 4.8m0-4.8l-4.8 4.8"/><path class="r" d="M736.8 114.8l4.8 4.8m0-4.8l-4.8 4.8"/><path class="r" d="M716.4 131.9l4.8 4.8m0-4.8l-4.8 4.8"/><path class="r" d="M731.9 119.1l4.8 4.8m0-4.8l-4.8 4.8"/><path class="r" d="M715.1 133.5l4.8 4.8m0-4.8l-4.8 4.8"/><path class="r" d="M709.9 138.7l4.8 4.8m0-4.8l-4.8 4.8"/><path class="r" d="M706.1 141.6l4.8 4.8m0-4.8l-4.8 4.8"/><path class="r" d="M734.0 116.7l4.8 4.8m0-4.8l-4.8 4.8"/><path class="r" d="M703.4 143.6l4.8 4.8m0-4.8l-4.8 4.8"/><path class="r" d="M734.8 115.9l4.8 4.8m0-4.8l-4.8 4.8"/><path class="r" d="M711.4 136.6l4.8 4.8m0-4.8l-4.8 4.8"/><path class="r" d="M699.3 147.4l4.8 4.8m0-4.8l-4.8 4.8"/><path class="r" d="M725.3 124.8l4.8 4.8m0-4.8l-4.8 4.8"/><path class="r" d="M727.1 123.3l4.8 4.8m0-4.8l-4.8 4.8"/><path class="r" d="M700.2 147.0l4.8 4.8m0-4.8l-4.8 4.8"/><path class="r" d="M730.3 120.1l4.8 4.8m0-4.8l-4.8 4.8"/><path class="r" d="M730.4 119.7l4.8 4.8m0-4.8l-4.8 4.8"/><path class="r" d="M732.3 118.2l4.8 4.8m0-4.8l-4.8 4.8"/><path class="r" d="M734.2 116.2l4.8 4.8m0-4.8l-4.8 4.8"/><path class="r" d="M705.8 141.7l4.8 4.8m0-4.8l-4.8 4.8"/><path class="r" d="M702.1 144.1l4.8 4.8m0-4.8l-4.8 4.8"/><path class="r" d="M730.1 119.9l4.8 4.8m0-4.8l-4.8 4.8"/><path class="r" d="M723.0 126.1l4.8 4.8m0-4.8l-4.8 4.8"/><path class="r" d="M709.1 139.4l4.8 4.8m0-4.8l-4.8 4.8"/><path class="r" d="M701.6 144.8l4.8 4.8m0-4.8l-4.8 4.8"/><path class="r" d="M705.8 141.2l4.8 4.8m0-4.8l-4.8 4.8"/><path class="r" d="M710.4 137.7l4.8 4.8m0-4.8l-4.8 4.8"/><path class="r" d="M707.9 139.8l4.8 4.8m0-4.8l-4.8 4.8"/><path class="r" d="M708.9 139.0l4.8 4.8m0-4.8l-4.8 4.8"/><path class="r" d="M710.4 138.0l4.8 4.8m0-4.8l-4.8 4.8"/><path class="r" d="M736.2 115.6l4.8 4.8m0-4.8l-4.8 4.8"/><path class="r" d="M722.3 127.0l4.8 4.8m0-4.8l-4.8 4.8"/><path class="r" d="M698.8 148.3l4.8 4.8m0-4.8l-4.8 4.8"/><path class="r" d="M728.5 121.2l4.8 4.8m0-4.8l-4.8 4.8"/><path class="r" d="M711.5 136.8l4.8 4.8m0-4.8l-4.8 4.8"/><path class="r" d="M706.3 141.9l4.8 4.8m0-4.8l-4.8 4.8"/><path class="r" d="M732.1 117.5l4.8 4.8m0-4.8l-4.8 4.8"/><path class="r" d="M704.4 142.4l4.8 4.8m0-4.8l-4.8 4.8"/><path class="r" d="M697.7 148.7l4.8 4.8m0-4.8l-4.8 4.8"/><path class="r" d="M736.7 113.4l4.8 4.8m0-4.8l-4.8 4.8"/><path class="r" d="M697.8 149.4l4.8 4.8m0-4.8l-4.8 4.8"/><path class="r" d="M729.5 120.6l4.8 4.8m0-4.8l-4.8 4.8"/><path class="r" d="M705.0 142.9l4.8 4.8m0-4.8l-4.8 4.8"/><path class="r" d="M730.9 119.4l4.8 4.8m0-4.8l-4.8 4.8"/><path class="r" d="M708.0 139.3l4.8 4.8m0-4.8l-4.8 4.8"/><path class="r" d="M706.2 141.5l4.8 4.8m0-4.8l-4.8 4.8"/><path class="r" d="M725.6 124.3l4.8 4.8m0-4.8l-4.8 4.8"/><path class="r" d="M723.1 126.3l4.8 4.8m0-4.8l-4.8 4.8"/><path class="r" d="M700.8 145.9l4.8 4.8m0-4.8l-4.8 4.8"/><path class="r" d="M729.1 121.7l4.8 4.8m0-4.8l-4.8 4.8"/><path class="r" d="M722.7 127.0l4.8 4.8m0-4.8l-4.8 4.8"/><path class="r" d="M713.4 134.6l4.8 4.8m0-4.8l-4.8 4.8"/><path class="r" d="M733.2 116.4l4.8 4.8m0-4.8l-4.8 4.8"/><path class="r" d="M698.6 147.6l4.8 4.8m0-4.8l-4.8 4.8"/><path class="r" d="M705.8 141.7l4.8 4.8m0-4.8l-4.8 4.8"/><path class="r" d="M717.6 130.1l4.8 4.8m0-4.8l-4.8 4.8"/><path class="r" d="M712.8 135.2l4.8 4.8m0-4.8l-4.8 4.8"/><path class="r" d="M716.0 132.8l4.8 4.8m0-4.8l-4.8 4.8"/><path class="r" d="M718.9 130.1l4.8 4.8m0-4.8l-4.8 4.8"/><path class="r" d="M723.5 126.8l4.8 4.8m0-4.8l-4.8 4.8"/><path class="r" d="M711.5 136.7l4.8 4.8m0-4.8l-4.8 4.8"/><path class="r" d="M731.3 118.7l4.8 4.8m0-4.8l-4.8 4.8"/><path class="r" d="M724.1 125.4l4.8 4.8m0-4.8l-4.8 4.8"/><path class="r" d="M746.4 105.9l4.8 4.8m0-4.8l-4.8 4.8"/><path class="r" d="M753.1 99.9l4.8 4.8m0-4.8l-4.8 4.8"/><path class="r" d="M746.8 105.3l4.8 4.8m0-4.8l-4.8 4.8"/><path class="r" d="M755.3 97.6l4.8 4.8m0-4.8l-4.8 4.8"/><path class="r" d="M743.6 107.7l4.8 4.8m0-4.8l-4.8 4.8"/><path class="r" d="M751.7 100.7l4.8 4.8m0-4.8l-4.8 4.8"/><path class="r" d="M740.7 110.9l4.8 4.8m0-4.8l-4.8 4.8"/><path class="r" d="M742.6 109.3l4.8 4.8m0-4.8l-4.8 4.8"/><path class="r" d="M740.8 110.0l4.8 4.8m0-4.8l-4.8 4.8"/><path class="r" d="M744.2 107.1l4.8 4.8m0-4.8l-4.8 4.8"/><path class="r" d="M752.2 99.2l4.8 4.8m0-4.8l-4.8 4.8"/><path class="r" d="M739.6 111.4l4.8 4.8m0-4.8l-4.8 4.8"/><path class="r" d="M745.3 106.6l4.8 4.8m0-4.8l-4.8 4.8"/><path class="r" d="M757.3 95.7l4.8 4.8m0-4.8l-4.8 4.8"/><path class="r" d="M746.3 106.4l4.8 4.8m0-4.8l-4.8 4.8"/><path class="r" d="M741.5 110.1l4.8 4.8m0-4.8l-4.8 4.8"/><path class="r" d="M741.7 109.9l4.8 4.8m0-4.8l-4.8 4.8"/><path class="r" d="M745.4 106.0l4.8 4.8m0-4.8l-4.8 4.8"/><path class="r" d="M753.4 99.2l4.8 4.8m0-4.8l-4.8 4.8"/><path class="r" d="M751.5 101.8l4.8 4.8m0-4.8l-4.8 4.8"/><path class="r" d="M746.9 105.2l4.8 4.8m0-4.8l-4.8 4.8"/><path class="r" d="M740.4 111.3l4.8 4.8m0-4.8l-4.8 4.8"/><path class="r" d="M771.7 83.4l4.8 4.8m0-4.8l-4.8 4.8"/><path class="r" d="M774.9 80.8l4.8 4.8m0-4.8l-4.8 4.8"/><path class="r" d="M771.8 82.7l4.8 4.8m0-4.8l-4.8 4.8"/><path class="r" d="M765.6 88.4l4.8 4.8m0-4.8l-4.8 4.8"/><path class="r" d="M774.3 80.0l4.8 4.8m0-4.8l-4.8 4.8"/><path class="r" d="M772.3 82.8l4.8 4.8m0-4.8l-4.8 4.8"/><path class="r" d="M770.5 85.0l4.8 4.8m0-4.8l-4.8 4.8"/><path class="r" d="M769.8 85.2l4.8 4.8m0-4.8l-4.8 4.8"/><path class="r" d="M769.5 84.9l4.8 4.8m0-4.8l-4.8 4.8"/><path class="r" d="M759.5 94.7l4.8 4.8m0-4.8l-4.8 4.8"/><path class="r" d="M771.1 83.1l4.8 4.8m0-4.8l-4.8 4.8"/><path class="r" d="M769.6 85.0l4.8 4.8m0-4.8l-4.8 4.8"/><path class="r" d="M766.2 87.4l4.8 4.8m0-4.8l-4.8 4.8"/></g>
<g><circle class="b" cx="942.2" cy="320.2"/><circle class="b" cx="942.2" cy="342.4"/><circle class="b" cx="963.8" cy="303.3"/><circle class="b" cx="962.8" cy="316.1"/><circle class="b" cx="968.7" cy="315.2"/><circle class="b" cx="972.4" cy="326.4"/><circle class="b" cx="979.9" cy="298.9"/><circle class="b" cx="989.2" cy="295.0"/><circle class="b" cx="990.3" cy="297.4"/><circle class="b" cx="992.2" cy="310.1"/><circle class="b" cx="1224.4" cy="47.0"/><circle class="b" cx="1222.6" cy="74.3"/><circle class="b" cx="1194.5" cy="69.8"/><circle class="b" cx="1016.4" cy="241.9"/><circle class="b" cx="1013.1" cy="246.3"/><circle class="b" cx="1019.8" cy="247.8"/><circle class="b" cx="1023.8" cy="245.6"/><circle class="b" cx="1027.1" cy="241.9"/><circle class="b" cx="1030.5" cy="242.6"/><circle class="b" cx="1029.1" cy="247.0"/><circle class="b" cx="1023.1" cy="232.2"/><circle class="b" cx="1025.1" cy="235.9"/><circle class="b" cx="1028.5" cy="235.2"/><circle class="b" cx="1031.1" cy="227.0"/><circle class="b" cx="1034.5" cy="224.1"/><circle class="b" cx="1037.8" cy="225.6"/><circle class="b" cx="1039.2" cy="230.0"/><circle class="b" cx="1041.8" cy="229.3"/><circle class="b" cx="1043.2" cy="221.9"/><circle class="b" cx="1043.8" cy="218.1"/><circle class="b" cx="1045.2" cy="213.7"/><circle class="b" cx="1047.2" cy="215.9"/><circle class="b" cx="1047.8" cy="225.6"/><circle class="b" cx="1047.8" cy="234.4"/><circle class="b" cx="1041.2" cy="239.6"/><circle class="b" cx="1043.2" cy="242.6"/><circle class="b" cx="1046.5" cy="241.9"/><circle class="b" cx="1047.2" cy="246.3"/><circle class="b" cx="1033.8" cy="249.3"/><circle class="b" cx="1067.9" cy="195.2"/><circle class="b" cx="1069.9" cy="200.4"/><circle class="b" cx="1071.2" cy="204.8"/><circle class="b" cx="1073.2" cy="191.5"/><circle class="b" cx="1075.9" cy="193.7"/><circle class="b" cx="1077.9" cy="197.4"/><circle class="b" cx="1080.6" cy="195.9"/><circle class="b" cx="1082.6" cy="198.9"/><circle class="b" cx="1085.3" cy="201.1"/><circle class="b" cx="1087.9" cy="197.4"/><circle class="b" cx="1090.6" cy="194.4"/><circle class="b" cx="1089.3" cy="191.5"/><circle class="b" cx="1093.3" cy="196.7"/><circle class="b" cx="1095.3" cy="200.4"/><circle class="b" cx="1091.9" cy="202.6"/><circle class="b" cx="1097.9" cy="198.9"/><circle class="b" cx="1102.0" cy="195.2"/><circle class="b" cx="1086.6" cy="204.1"/><circle class="b" cx="1089.3" cy="201.9"/><circle class="b" cx="1075.9" cy="206.3"/><circle class="b" cx="1073.9" cy="210.7"/><circle class="b" cx="1072.6" cy="215.9"/><circle class="b" cx="1073.2" cy="220.4"/><circle class="b" cx="1074.6" cy="222.6"/><circle class="b" cx="1076.6" cy="212.2"/><circle class="b" cx="1083.2" cy="207.0"/><circle class="b" cx="1083.2" cy="212.2"/><circle class="b" cx="1089.9" cy="209.3"/><circle class="b" cx="1087.9" cy="216.7"/><circle class="b" cx="1053.2" cy="209.3"/><circle class="b" cx="1055.9" cy="208.5"/><circle class="b" cx="1054.5" cy="213.7"/><circle class="b" cx="1059.9" cy="213.7"/><circle class="b" cx="1057.2" cy="215.9"/><circle class="b" cx="1051.8" cy="221.9"/><circle class="b" cx="1055.2" cy="221.1"/><circle class="b" cx="1057.9" cy="222.6"/><circle class="b" cx="1057.2" cy="225.6"/><circle class="b" cx="1051.2" cy="225.6"/><circle class="b" cx="1053.2" cy="227.8"/><circle class="b" cx="1062.5" cy="221.9"/><circle class="b" cx="1066.5" cy="221.9"/><circle class="b" cx="1065.2" cy="225.6"/><circle class="b" cx="1068.5" cy="229.3"/><circle class="b" cx="1064.5" cy="229.3"/><circle class="b" cx="1072.6" cy="224.8"/><circle class="b" cx="1083.2" cy="228.5"/><circle class="b" cx="1053.2" cy="233.7"/><circle class="b" cx="1056.5" cy="233.0"/><circle class="b" cx="1051.8" cy="235.9"/><circle class="b" cx="1053.8" cy="237.4"/><circle class="b" cx="1050.5" cy="243.3"/><circle class="b" cx="1049.8" cy="246.3"/><circle class="b" cx="1128.0" cy="193.0"/><circle class="b" cx="1104.6" cy="195.2"/><circle class="b" cx="1108.0" cy="198.1"/><circle class="b" cx="1106.0" cy="190.0"/><circle class="b" cx="1094.6" cy="165.6"/><circle class="b" cx="1101.3" cy="161.1"/><circle class="b" cx="1102.0" cy="171.5"/><circle class="b" cx="1096.6" cy="171.5"/><circle class="b" cx="1093.3" cy="174.4"/><circle class="b" cx="1097.3" cy="175.9"/><circle class="b" cx="1100.6" cy="177.4"/><circle class="b" cx="1089.9" cy="178.9"/><circle class="b" cx="1094.6" cy="180.4"/><circle class="b" cx="1098.6" cy="181.9"/><circle class="b" cx="1102.0" cy="183.3"/><circle class="b" cx="1083.2" cy="177.4"/><circle class="b" cx="1085.3" cy="181.1"/><circle class="b" cx="1081.2" cy="183.3"/><circle class="b" cx="1087.9" cy="184.8"/><circle class="b" cx="1091.9" cy="185.6"/><circle class="b" cx="1095.9" cy="187.0"/><circle class="b" cx="1100.6" cy="188.5"/><circle class="b" cx="1075.9" cy="184.1"/><circle class="b" cx="1073.9" cy="187.0"/><circle class="b" cx="1077.9" cy="187.8"/><circle class="b" cx="1083.9" cy="188.5"/><circle class="b" cx="1132.0" cy="131.5"/><circle class="b" cx="1135.4" cy="133.7"/><circle class="b" cx="1130.0" cy="136.7"/><circle class="b" cx="1133.4" cy="138.9"/><circle class="b" cx="1138.0" cy="136.7"/><circle class="b" cx="1142.0" cy="134.4"/><circle class="b" cx="1144.7" cy="133.0"/><circle class="b" cx="1150.1" cy="131.5"/><circle class="b" cx="1152.7" cy="135.2"/><circle class="b" cx="1147.4" cy="138.9"/><circle class="b" cx="1143.4" cy="141.1"/><circle class="b" cx="1150.7" cy="141.9"/><circle class="b" cx="1155.4" cy="138.9"/><circle class="b" cx="1156.1" cy="144.8"/><circle class="b" cx="1154.1" cy="133.0"/><circle class="b" cx="1120.0" cy="138.9"/><circle class="b" cx="1123.3" cy="140.4"/><circle class="b" cx="1126.0" cy="142.6"/><circle class="b" cx="1128.7" cy="144.8"/><circle class="b" cx="1131.4" cy="143.3"/><circle class="b" cx="1134.0" cy="147.8"/><circle class="b" cx="1137.4" cy="144.8"/><circle class="b" cx="1139.4" cy="147.0"/><circle class="b" cx="1142.0" cy="149.3"/><circle class="b" cx="1145.4" cy="145.6"/><circle class="b" cx="1147.4" cy="147.8"/><circle class="b" cx="1150.1" cy="146.3"/><circle class="b" cx="1122.0" cy="146.3"/><circle class="b" cx="1124.7" cy="149.3"/><circle class="b" cx="1120.7" cy="152.2"/><circle class="b" cx="1127.3" cy="150.7"/><circle class="b" cx="1130.0" cy="153.7"/><circle class="b" cx="1133.4" cy="153.0"/><circle class="b" cx="1136.7" cy="151.5"/><circle class="b" cx="1138.7" cy="154.4"/><circle class="b" cx="1143.4" cy="155.2"/><circle class="b" cx="1145.4" cy="156.7"/><circle class="b" cx="1141.4" cy="152.2"/><circle class="b" cx="1108.6" cy="152.2"/><circle class="b" cx="1111.3" cy="154.4"/><circle class="b" cx="1114.0" cy="155.9"/><circle class="b" cx="1116.7" cy="155.2"/><circle class="b" cx="1119.3" cy="154.4"/><circle class="b" cx="1110.6" cy="158.1"/><circle class="b" cx="1114.0" cy="159.6"/><circle class="b" cx="1117.3" cy="160.4"/><circle class="b" cx="1120.7" cy="158.9"/><circle class="b" cx="1123.3" cy="157.4"/><circle class="b" cx="1126.0" cy="159.6"/><circle class="b" cx="1129.3" cy="161.1"/><circle class="b" cx="1132.0" cy="159.6"/><circle class="b" cx="1135.4" cy="161.9"/><circle class="b" cx="1106.0" cy="159.6"/><circle class="b" cx="1104.0" cy="161.9"/><circle class="b" cx="1105.3" cy="164.8"/><circle class="b" cx="1108.6" cy="166.3"/><circle class="b" cx="1112.0" cy="165.6"/><circle class="b" cx="1115.3" cy="164.8"/><circle class="b" cx="1118.7" cy="167.0"/><circle class="b" cx="1122.0" cy="164.8"/><circle class="b" cx="1126.0" cy="164.1"/><circle class="b" cx="1129.3" cy="165.6"/><circle class="b" cx="1140.0" cy="164.8"/><circle class="b" cx="1134.0" cy="169.3"/><circle class="b" cx="1130.7" cy="171.5"/><circle class="b" cx="1122.7" cy="172.2"/><circle class="b" cx="1116.7" cy="173.0"/><circle class="b" cx="1113.3" cy="171.5"/><circle class="b" cx="1110.0" cy="170.0"/><circle class="b" cx="1106.6" cy="172.2"/><circle class="b" cx="1111.3" cy="175.2"/><circle class="b" cx="1107.3" cy="177.4"/><circle class="b" cx="1115.3" cy="178.1"/><circle class="b" cx="1104.0" cy="178.9"/><circle class="b" cx="1112.6" cy="181.1"/><circle class="b" cx="1109.3" cy="183.3"/><circle class="b" cx="1106.0" cy="181.9"/><circle class="b" cx="1116.0" cy="184.1"/><circle class="b" cx="1114.0" cy="187.0"/><circle class="b" cx="1110.6" cy="187.8"/><circle class="b" cx="1160.1" cy="135.9"/><circle class="b" cx="1164.1" cy="135.2"/><circle class="b" cx="1169.4" cy="137.4"/><circle class="b" cx="1158.1" cy="146.3"/><circle class="b" cx="1160.1" cy="130.3"/><circle class="b" cx="1163.4" cy="130.3"/><circle class="b" cx="1153.4" cy="115.9"/><circle class="b" cx="1154.1" cy="120.4"/><circle class="b" cx="1150.1" cy="127.0"/><circle class="b" cx="1154.7" cy="127.8"/><circle class="b" cx="1134.0" cy="128.5"/><circle class="b" cx="1137.4" cy="129.3"/><circle class="b" cx="1187.9" cy="78.6"/><circle class="b" cx="1196.6" cy="86.0"/><circle class="b" cx="1200.8" cy="101.1"/><circle class="b" cx="1195.9" cy="106.7"/><circle class="b" cx="1182.1" cy="93.0"/><circle class="b" cx="1184.8" cy="99.6"/><circle class="b" cx="1185.7" cy="102.9"/><circle class="b" cx="1177.5" cy="99.3"/><circle class="b" cx="1169.2" cy="95.9"/><circle class="b" cx="1162.1" cy="104.8"/><circle class="b" cx="1174.1" cy="108.2"/><circle class="b" cx="1177.5" cy="107.0"/><circle class="b" cx="1180.8" cy="108.8"/><circle class="b" cx="1174.8" cy="113.7"/><circle class="b" cx="1178.8" cy="114.4"/><circle class="b" cx="1182.1" cy="113.7"/><circle class="b" cx="1166.1" cy="113.7"/><circle class="b" cx="1167.4" cy="117.4"/><circle class="b" cx="1170.8" cy="118.9"/><circle class="b" cx="1184.8" cy="119.6"/><circle class="b" cx="1159.4" cy="118.1"/><circle class="b" cx="1160.1" cy="122.6"/><circle class="b" cx="1174.1" cy="125.6"/><circle class="b" cx="1176.1" cy="124.1"/><circle class="b" cx="1180.4" cy="126.0"/><circle class="b" cx="1165.4" cy="125.6"/><circle class="b" cx="1162.8" cy="127.8"/><circle class="b" cx="998.0" cy="271.9"/><circle class="b" cx="1000.4" cy="264.1"/><circle class="b" cx="1000.7" cy="266.6"/><circle class="b" cx="1003.7" cy="271.5"/><circle class="b" cx="1006.8" cy="260.7"/><circle class="b" cx="1007.1" cy="268.5"/><circle class="b" cx="1010.8" cy="267.0"/><circle class="b" cx="1013.1" cy="272.2"/><circle class="b" cx="1017.1" cy="260.4"/><circle class="b" cx="1017.5" cy="271.9"/><circle class="b" cx="1019.1" cy="268.1"/><circle class="b" cx="1021.1" cy="269.3"/><circle class="b" cx="1023.4" cy="259.2"/><circle class="b" cx="1025.1" cy="274.9"/><circle class="b" cx="1027.1" cy="262.1"/><circle class="b" cx="1028.5" cy="264.8"/><circle class="b" cx="1030.5" cy="260.4"/><circle class="b" cx="1031.1" cy="250.7"/><circle class="b" cx="1034.9" cy="254.4"/><circle class="b" cx="1034.5" cy="260.4"/><circle class="b" cx="1035.8" cy="264.1"/><circle class="b" cx="1039.8" cy="262.6"/><circle class="b" cx="1047.8" cy="257.7"/><circle class="b" cx="1010.8" cy="286.7"/><circle class="b" cx="1017.1" cy="288.2"/><circle class="b" cx="1038.0" cy="228.9"/><circle class="b" cx="1046.8" cy="217.2"/><circle class="b" cx="1053.5" cy="241.0"/><circle class="b" cx="1076.5" cy="191.8"/><circle class="b" cx="1076.6" cy="195.8"/><circle class="b" cx="1075.1" cy="198.1"/><circle class="b" cx="1102.2" cy="196.5"/><circle class="b" cx="1098.2" cy="201.3"/><circle class="b" cx="1102.2" cy="192.2"/><circle class="b" cx="1094.3" cy="200.3"/><circle class="b" cx="1075.4" cy="217.1"/><circle class="b" cx="1080.0" cy="214.1"/><circle class="b" cx="1085.3" cy="213.6"/><circle class="b" cx="1054.5" cy="215.1"/><circle class="b" cx="1057.7" cy="214.1"/><circle class="b" cx="1056.8" cy="225.6"/><circle class="b" cx="1057.0" cy="221.4"/><circle class="b" cx="1057.7" cy="227.9"/><circle class="b" cx="1063.9" cy="220.5"/><circle class="b" cx="1068.9" cy="218.4"/><circle class="b" cx="1067.1" cy="225.4"/><circle class="b" cx="1068.9" cy="226.6"/><circle class="b" cx="1065.6" cy="229.8"/><circle class="b" cx="1051.1" cy="232.0"/><circle class="b" cx="1105.3" cy="176.9"/><circle class="b" cx="1094.9" cy="179.0"/><circle class="b" cx="1105.9" cy="175.5"/><circle class="b" cx="1095.2" cy="180.9"/><circle class="b" cx="1101.4" cy="181.1"/><circle class="b" cx="1089.9" cy="189.1"/><circle class="b" cx="1092.4" cy="189.4"/><circle class="b" cx="1077.5" cy="183.1"/><circle class="b" cx="1073.5" cy="190.3"/><circle class="b" cx="1079.1" cy="190.4"/><circle class="b" cx="1128.3" cy="136.3"/><circle class="b" cx="1142.5" cy="134.6"/><circle class="b" cx="1141.3" cy="138.5"/><circle class="b" cx="1156.5" cy="138.9"/><circle class="b" cx="1135.1" cy="138.9"/><circle class="b" cx="1143.4" cy="143.5"/><circle class="b" cx="1146.8" cy="144.3"/><circle class="b" cx="1116.5" cy="139.0"/><circle class="b" cx="1127.0" cy="146.8"/><circle class="b" cx="1130.6" cy="152.6"/><circle class="b" cx="1134.2" cy="149.4"/><circle class="b" cx="1137.7" cy="151.1"/><circle class="b" cx="1110.9" cy="152.4"/><circle class="b" cx="1116.8" cy="161.6"/><circle class="b" cx="1121.2" cy="152.8"/><circle class="b" cx="1109.5" cy="161.9"/><circle class="b" cx="1121.3" cy="156.1"/><circle class="b" cx="1120.9" cy="159.8"/><circle class="b" cx="1107.4" cy="162.5"/><circle class="b" cx="1104.6" cy="164.9"/><circle class="b" cx="1116.1" cy="158.4"/><circle class="b" cx="1124.0" cy="168.2"/><circle class="b" cx="1121.1" cy="161.0"/><circle class="b" cx="1126.1" cy="163.5"/><circle class="b" cx="1128.8" cy="165.7"/><circle class="b" cx="1113.8" cy="172.2"/><circle class="b" cx="1103.9" cy="169.0"/><circle class="b" cx="1102.3" cy="179.2"/><circle class="b" cx="1108.4" cy="181.9"/><circle class="b" cx="1109.0" cy="186.1"/><circle class="b" cx="1161.6" cy="129.6"/><circle class="b" cx="1168.0" cy="133.2"/><circle class="b" cx="1156.5" cy="131.5"/><circle class="b" cx="1149.0" cy="117.8"/><circle class="b" cx="1173.9" cy="108.2"/><circle class="b" cx="1166.2" cy="117.6"/><circle class="b" cx="1017.6" cy="269.1"/><circle class="b" cx="1025.9" cy="260.8"/></g>
<g><circle class="o" cx="1016.7" cy="240.7"/><circle class="o" cx="1025.0" cy="219.8"/><circle class="o" cx="1004.8" cy="250.7"/><circle class="o" cx="1010.3" cy="248.0"/><circle class="o" cx="1013.1" cy="234.8"/><circle class="o" cx="1014.5" cy="235.3"/><circle class="o" cx="1004.2" cy="242.4"/><circle class="o" cx="1013.9" cy="250.0"/><circle class="o" cx="1002.5" cy="253.7"/><circle class="o" cx="1019.3" cy="233.9"/><circle class="o" cx="1013.7" cy="243.3"/><circle class="o" cx="1014.0" cy="244.5"/><circle class="o" cx="1010.9" cy="234.6"/><circle class="o" cx="1018.4" cy="232.7"/><circle class="o" cx="1010.4" cy="238.9"/><circle class="o" cx="1026.5" cy="226.4"/><circle class="o" cx="1009.4" cy="235.5"/><circle class="o" cx="1010.6" cy="237.2"/><circle class="o" cx="1000.1" cy="254.8"/><circle class="o" cx="1018.7" cy="227.8"/><circle class="o" cx="1009.3" cy="240.6"/><circle class="o" cx="1019.9" cy="225.4"/><circle class="o" cx="1061.0" cy="193.7"/><circle class="o" cx="1055.9" cy="195.1"/><circle class="o" cx="1041.1" cy="208.2"/><circle class="o" cx="1055.0" cy="192.1"/><circle class="o" cx="1056.2" cy="198.7"/><circle class="o" cx="1047.3" cy="208.0"/><circle class="o" cx="1035.1" cy="209.3"/><circle class="o" cx="1050.1" cy="201.4"/><circle class="o" cx="1056.6" cy="191.0"/><circle class="o" cx="1037.6" cy="218.7"/><circle class="o" cx="1046.8" cy="195.2"/><circle class="o" cx="1039.8" cy="202.1"/><circle class="o" cx="1057.7" cy="193.3"/><circle class="o" cx="1036.1" cy="208.0"/><circle class="o" cx="1042.4" cy="207.6"/><circle class="o" cx="1053.1" cy="196.8"/><circle class="o" cx="1037.1" cy="212.7"/><circle class="o" cx="1044.3" cy="200.6"/><circle class="o" cx="1042.4" cy="213.5"/><circle class="o" cx="1040.1" cy="216.8"/><circle class="o" cx="1060.6" cy="188.6"/><circle class="o" cx="1056.9" cy="195.1"/><circle class="o" cx="1059.7" cy="189.9"/><circle class="o" cx="1057.0" cy="196.6"/><circle class="o" cx="1049.9" cy="199.4"/><circle class="o" cx="1061.4" cy="188.9"/><circle class="o" cx="1050.7" cy="199.5"/><circle class="o" cx="1032.1" cy="215.0"/><circle class="o" cx="1035.4" cy="213.6"/><circle class="o" cx="1032.5" cy="223.0"/><circle class="o" cx="1059.7" cy="189.8"/><circle class="o" cx="1059.2" cy="194.8"/><circle class="o" cx="1049.0" cy="199.5"/><circle class="o" cx="1059.3" cy="200.0"/><circle class="o" cx="1055.5" cy="192.7"/><circle class="o" cx="1052.0" cy="201.7"/><circle class="o" cx="1046.1" cy="204.3"/><circle class="o" cx="1058.9" cy="198.0"/><circle class="o" cx="1047.0" cy="203.5"/><circle class="o" cx="1032.0" cy="213.5"/><circle class="o" cx="1044.8" cy="198.9"/><circle class="o" cx="1032.2" cy="215.3"/><circle class="o" cx="1044.7" cy="213.0"/><circle class="o" cx="1058.2" cy="192.1"/><circle class="o" cx="1027.2" cy="218.9"/><circle class="o" cx="1047.3" cy="208.7"/><circle class="o" cx="1051.0" cy="196.0"/><circle class="o" cx="1042.1" cy="213.0"/><circle class="o" cx="1061.7" cy="181.0"/><circle class="o" cx="1050.0" cy="196.3"/><circle class="o" cx="1028.0" cy="229.0"/><circle class="o" cx="1060.7" cy="195.6"/><circle class="o" cx="1038.9" cy="203.9"/><circle class="o" cx="1044.5" cy="206.5"/><circle class="o" cx="1059.4" cy="181.4"/><circle class="o" cx="1049.6" cy="198.6"/><circle class="o" cx="1039.2" cy="207.1"/><circle class="o" cx="1044.1" cy="210.5"/><circle class="o" cx="1046.0" cy="203.6"/><circle class="o" cx="1042.7" cy="211.6"/><circle class="o" cx="1042.2" cy="218.7"/><circle class="o" cx="1037.5" cy="216.3"/><circle class="o" cx="1056.9" cy="199.4"/><circle class="o" cx="1036.8" cy="209.1"/><circle class="o" cx="1045.3" cy="196.1"/><circle class="o" cx="1106.1" cy="146.4"/><circle class="o" cx="1081.1" cy="171.8"/><circle class="o" cx="1095.0" cy="151.3"/><circle class="o" cx="1097.6" cy="153.0"/><circle class="o" cx="1102.4" cy="150.4"/><circle class="o" cx="1111.2" cy="141.9"/><circle class="o" cx="1079.4" cy="171.8"/><circle class="o" cx="1063.5" cy="181.9"/><circle class="o" cx="1096.2" cy="142.0"/><circle class="o" cx="1098.9" cy="148.9"/><circle class="o" cx="1096.3" cy="167.7"/><circle class="o" cx="1096.6" cy="161.0"/><circle class="o" cx="1095.5" cy="162.2"/><circle class="o" cx="1100.1" cy="148.8"/><circle class="o" cx="1088.0" cy="154.0"/><circle class="o" cx="1104.5" cy="143.5"/><circle class="o" cx="1065.1" cy="183.0"/><circle class="o" cx="1105.2" cy="138.3"/><circle class="o" cx="1083.2" cy="172.2"/><circle class="o" cx="1107.8" cy="141.6"/><circle class="o" cx="1077.1" cy="181.2"/><circle class="o" cx="1079.5" cy="175.9"/><circle class="o" cx="1086.5" cy="161.8"/><circle class="o" cx="1098.0" cy="151.2"/><circle class="o" cx="1093.9" cy="157.8"/><circle class="o" cx="1065.3" cy="177.0"/><circle class="o" cx="1094.4" cy="149.0"/><circle class="o" cx="1113.0" cy="139.2"/><circle class="o" cx="1084.2" cy="166.3"/><circle class="o" cx="1095.3" cy="139.8"/><circle class="o" cx="1088.9" cy="168.5"/><circle class="o" cx="1085.5" cy="158.2"/><circle class="o" cx="1074.7" cy="170.7"/><circle class="o" cx="1071.4" cy="178.6"/><circle class="o" cx="1100.3" cy="150.7"/><circle class="o" cx="1069.7" cy="178.2"/><circle class="o" cx="1110.3" cy="141.4"/><circle class="o" cx="1070.1" cy="170.7"/><circle class="o" cx="1076.3" cy="173.3"/><circle class="o" cx="1103.0" cy="147.4"/><circle class="o" cx="1105.2" cy="144.2"/><circle class="o" cx="1101.9" cy="143.1"/><circle class="o" cx="1067.7" cy="190.6"/><circle class="o" cx="1097.3" cy="155.5"/><circle class="o" cx="1113.8" cy="144.1"/><circle class="o" cx="1076.9" cy="164.3"/><circle class="o" cx="1063.8" cy="188.9"/><circle class="o" cx="1063.9" cy="193.1"/><circle class="o" cx="1067.5" cy="192.2"/><circle class="o" cx="1080.0" cy="171.2"/><circle class="o" cx="1109.9" cy="145.0"/><circle class="o" cx="1089.5" cy="155.9"/><circle class="o" cx="1094.4" cy="154.5"/><circle class="o" cx="1087.0" cy="165.4"/><circle class="o" cx="1106.4" cy="147.8"/><circle class="o" cx="1082.9" cy="173.2"/><circle class="o" cx="1085.8" cy="171.8"/><circle class="o" cx="1084.1" cy="163.4"/><circle class="o" cx="1105.7" cy="159.8"/><circle class="o" cx="1093.9" cy="157.6"/><circle class="o" cx="1116.0" cy="133.2"/><circle class="o" cx="1101.3" cy="147.2"/><circle class="o" cx="1096.0" cy="159.8"/><circle class="o" cx="1116.2" cy="131.1"/><circle class="o" cx="1079.9" cy="178.1"/><circle class="o" cx="1086.4" cy="159.9"/><circle class="o" cx="1100.3" cy="154.6"/><circle class="o" cx="1095.8" cy="146.4"/><circle class="o" cx="1078.5" cy="178.9"/><circle class="o" cx="1063.2" cy="187.7"/><circle class="o" cx="1095.0" cy="149.6"/><circle class="o" cx="1107.4" cy="142.4"/><circle class="o" cx="1108.4" cy="144.0"/><circle class="o" cx="1107.2" cy="138.6"/><circle class="o" cx="1078.0" cy="178.6"/><circle class="o" cx="1109.3" cy="138.6"/><circle class="o" cx="1112.7" cy="147.2"/><circle class="o" cx="1082.0" cy="162.1"/><circle class="o" cx="1106.4" cy="140.8"/><circle class="o" cx="1074.0" cy="176.6"/><circle class="o" cx="1075.8" cy="189.0"/><circle class="o" cx="1096.1" cy="157.9"/><circle class="o" cx="1074.4" cy="182.4"/><circle class="o" cx="1077.0" cy="173.6"/><circle class="o" cx="1088.1" cy="173.6"/><circle class="o" cx="1067.9" cy="179.0"/><circle class="o" cx="1075.8" cy="184.7"/><circle class="o" cx="1094.6" cy="146.2"/><circle class="o" cx="1091.5" cy="167.1"/><circle class="o" cx="1089.0" cy="165.2"/><circle class="o" cx="1073.6" cy="179.1"/><circle class="o" cx="1072.9" cy="179.4"/><circle class="o" cx="1093.8" cy="162.7"/><circle class="o" cx="1085.0" cy="169.3"/><circle class="o" cx="1065.6" cy="185.3"/><circle class="o" cx="1162.5" cy="91.6"/><circle class="o" cx="1146.1" cy="103.7"/><circle class="o" cx="1153.1" cy="94.3"/><circle class="o" cx="1133.0" cy="111.7"/><circle class="o" cx="1140.9" cy="109.2"/><circle class="o" cx="1162.2" cy="89.7"/><circle class="o" cx="1156.6" cy="103.3"/><circle class="o" cx="1129.3" cy="121.6"/><circle class="o" cx="1152.7" cy="112.5"/><circle class="o" cx="1152.1" cy="93.1"/><circle class="o" cx="1154.5" cy="92.9"/><circle class="o" cx="1119.1" cy="133.3"/><circle class="o" cx="1126.5" cy="123.9"/><circle class="o" cx="1119.7" cy="129.3"/><circle class="o" cx="1142.6" cy="104.5"/><circle class="o" cx="1160.3" cy="96.7"/><circle class="o" cx="1158.6" cy="85.8"/><circle class="o" cx="1135.4" cy="113.0"/><circle class="o" cx="1122.9" cy="124.0"/><circle class="o" cx="1143.0" cy="110.0"/><circle class="o" cx="1146.4" cy="96.7"/><circle class="o" cx="1135.2" cy="118.9"/><circle class="o" cx="1137.7" cy="105.4"/><circle class="o" cx="1162.3" cy="76.4"/><circle class="o" cx="1127.5" cy="119.5"/><circle class="o" cx="1133.4" cy="117.1"/><circle class="o" cx="1158.3" cy="84.1"/><circle class="o" cx="1119.6" cy="138.4"/><circle class="o" cx="1153.0" cy="101.2"/><circle class="o" cx="1162.0" cy="98.6"/><circle class="o" cx="1120.0" cy="125.1"/><circle class="o" cx="1159.9" cy="84.0"/><circle class="o" cx="1148.1" cy="106.3"/><circle class="o" cx="1151.7" cy="92.4"/><circle class="o" cx="1122.2" cy="131.3"/><circle class="o" cx="1123.0" cy="124.2"/><circle class="o" cx="1139.2" cy="110.3"/><circle class="o" cx="1123.9" cy="123.6"/><circle class="o" cx="1148.1" cy="94.1"/><circle class="o" cx="1126.3" cy="124.5"/><circle class="o" cx="1119.1" cy="128.4"/><circle class="o" cx="1159.7" cy="94.3"/><circle class="o" cx="1156.6" cy="92.8"/><circle class="o" cx="1137.7" cy="116.2"/><circle class="o" cx="1121.8" cy="119.0"/><circle class="o" cx="907.1" cy="353.7"/><circle class="o" cx="926.4" cy="312.8"/><circle class="o" cx="935.8" cy="301.0"/><circle class="o" cx="937.9" cy="318.7"/><circle class="o" cx="943.0" cy="312.8"/><circle class="o" cx="955.9" cy="306.3"/><circle class="o" cx="954.0" cy="274.6"/><circle class="o" cx="968.8" cy="317.6"/><circle class="o" cx="972.8" cy="291.5"/><circle class="o" cx="986.7" cy="290.9"/><circle class="o" cx="1009.5" cy="268.4"/><circle class="o" cx="1010.0" cy="273.1"/><circle class="o" cx="1010.9" cy="276.7"/><circle class="o" cx="1016.2" cy="255.3"/><circle class="o" cx="1021.0" cy="261.3"/><circle class="o" cx="1033.1" cy="255.0"/><circle class="o" cx="1033.6" cy="196.7"/><circle class="o" cx="1037.0" cy="198.9"/><circle class="o" cx="1041.7" cy="198.1"/><circle class="o" cx="1043.7" cy="191.5"/><circle class="o" cx="1031.0" cy="204.1"/><circle class="o" cx="1025.6" cy="205.6"/><circle class="o" cx="1027.6" cy="209.3"/><circle class="o" cx="1029.6" cy="212.2"/><circle class="o" cx="1032.3" cy="214.4"/><circle class="o" cx="1037.7" cy="212.2"/><circle class="o" cx="1039.7" cy="215.9"/><circle class="o" cx="1041.7" cy="220.4"/><circle class="o" cx="1043.7" cy="216.7"/><circle class="o" cx="1014.2" cy="214.4"/><circle class="o" cx="1017.5" cy="213.7"/><circle class="o" cx="1015.5" cy="219.6"/><circle class="o" cx="1018.9" cy="220.4"/><circle class="o" cx="1010.9" cy="223.3"/><circle class="o" cx="1012.2" cy="230.0"/><circle class="o" cx="1015.5" cy="226.3"/><circle class="o" cx="1022.9" cy="221.1"/><circle class="o" cx="1024.3" cy="224.8"/><circle class="o" cx="1026.9" cy="219.6"/><circle class="o" cx="1021.6" cy="228.5"/><circle class="o" cx="1033.6" cy="225.6"/><circle class="o" cx="1037.0" cy="227.8"/><circle class="o" cx="1028.9" cy="233.7"/><circle class="o" cx="1028.3" cy="238.9"/><circle class="o" cx="1031.6" cy="239.6"/><circle class="o" cx="1001.5" cy="229.3"/><circle class="o" cx="998.8" cy="233.0"/><circle class="o" cx="996.8" cy="236.7"/><circle class="o" cx="995.4" cy="241.1"/><circle class="o" cx="998.1" cy="243.3"/><circle class="o" cx="1003.5" cy="237.4"/><circle class="o" cx="1005.5" cy="239.6"/><circle class="o" cx="1008.2" cy="237.4"/><circle class="o" cx="1014.2" cy="242.6"/><circle class="o" cx="1017.5" cy="238.1"/><circle class="o" cx="1019.6" cy="246.3"/><circle class="o" cx="1022.2" cy="245.6"/><circle class="o" cx="1016.2" cy="248.5"/><circle class="o" cx="1026.9" cy="248.5"/><circle class="o" cx="1004.1" cy="246.3"/><circle class="o" cx="1010.9" cy="248.5"/><circle class="o" cx="1050.4" cy="239.6"/><circle class="o" cx="1051.7" cy="223.3"/><circle class="o" cx="1056.4" cy="215.9"/><circle class="o" cx="1048.4" cy="210.7"/><circle class="o" cx="1046.4" cy="206.3"/><circle class="o" cx="1063.8" cy="207.0"/><circle class="o" cx="1071.2" cy="204.1"/><circle class="o" cx="1071.2" cy="206.6"/><circle class="o" cx="1077.9" cy="193.7"/><circle class="o" cx="1081.2" cy="192.2"/><circle class="o" cx="1067.2" cy="193.0"/><circle class="o" cx="1065.1" cy="196.7"/><circle class="o" cx="1061.1" cy="194.4"/><circle class="o" cx="1057.1" cy="199.6"/><circle class="o" cx="1053.1" cy="200.4"/><circle class="o" cx="1049.1" cy="197.4"/><circle class="o" cx="1047.0" cy="194.4"/><circle class="o" cx="1059.8" cy="190.7"/><circle class="o" cx="1039.7" cy="186.3"/><circle class="o" cx="1067.8" cy="147.8"/><circle class="o" cx="1079.2" cy="130.3"/><circle class="o" cx="1087.9" cy="131.5"/><circle class="o" cx="1092.0" cy="135.9"/><circle class="o" cx="1086.6" cy="139.6"/><circle class="o" cx="1093.3" cy="142.6"/><circle class="o" cx="1098.0" cy="144.8"/><circle class="o" cx="1082.6" cy="147.0"/><circle class="o" cx="1087.9" cy="146.3"/><circle class="o" cx="1079.9" cy="151.5"/><circle class="o" cx="1083.9" cy="152.2"/><circle class="o" cx="1061.8" cy="158.1"/><circle class="o" cx="1067.2" cy="157.4"/><circle class="o" cx="1073.9" cy="158.9"/><circle class="o" cx="1079.2" cy="158.1"/><circle class="o" cx="1083.9" cy="157.4"/><circle class="o" cx="1089.3" cy="156.7"/><circle class="o" cx="1093.3" cy="153.7"/><circle class="o" cx="1049.1" cy="167.8"/><circle class="o" cx="1053.1" cy="168.5"/><circle class="o" cx="1058.4" cy="170.0"/><circle class="o" cx="1063.1" cy="167.0"/><circle class="o" cx="1065.1" cy="170.7"/><circle class="o" cx="1068.5" cy="168.5"/><circle class="o" cx="1073.9" cy="167.0"/><circle class="o" cx="1075.9" cy="170.7"/><circle class="o" cx="1071.8" cy="165.6"/><circle class="o" cx="1078.6" cy="163.3"/><circle class="o" cx="1083.2" cy="161.9"/><circle class="o" cx="1087.3" cy="164.8"/><circle class="o" cx="1090.6" cy="161.1"/><circle class="o" cx="1096.0" cy="161.9"/><circle class="o" cx="1098.0" cy="167.0"/><circle class="o" cx="1085.3" cy="171.5"/><circle class="o" cx="1080.6" cy="174.4"/><circle class="o" cx="1084.6" cy="177.4"/><circle class="o" cx="1047.0" cy="177.4"/><circle class="o" cx="1046.4" cy="182.6"/><circle class="o" cx="1053.1" cy="180.4"/><circle class="o" cx="1056.4" cy="181.1"/><circle class="o" cx="1059.8" cy="182.6"/><circle class="o" cx="1063.8" cy="178.9"/><circle class="o" cx="1067.2" cy="173.7"/><circle class="o" cx="1077.2" cy="178.9"/><circle class="o" cx="1075.2" cy="185.6"/><circle class="o" cx="1080.6" cy="185.6"/><circle class="o" cx="1092.0" cy="178.9"/><circle class="o" cx="1096.0" cy="174.4"/><circle class="o" cx="1095.3" cy="182.6"/><circle class="o" cx="1098.0" cy="177.4"/><circle class="o" cx="1052.4" cy="188.5"/><circle class="o" cx="1104.7" cy="183.3"/><circle class="o" cx="1101.3" cy="164.8"/><circle class="o" cx="1100.0" cy="159.6"/><circle class="o" cx="1104.0" cy="160.4"/><circle class="o" cx="1108.7" cy="161.9"/><circle class="o" cx="1113.4" cy="162.6"/><circle class="o" cx="1109.4" cy="157.4"/><circle class="o" cx="1120.1" cy="157.4"/><circle class="o" cx="1107.4" cy="150.7"/><circle class="o" cx="1112.1" cy="152.2"/><circle class="o" cx="1114.1" cy="148.5"/><circle class="o" cx="1111.4" cy="146.3"/><circle class="o" cx="1128.2" cy="147.8"/><circle class="o" cx="1126.1" cy="139.6"/><circle class="o" cx="1128.2" cy="133.7"/><circle class="o" cx="1119.4" cy="138.9"/><circle class="o" cx="1116.8" cy="135.9"/><circle class="o" cx="1108.7" cy="135.2"/><circle class="o" cx="1105.4" cy="132.2"/><circle class="o" cx="1100.7" cy="135.2"/><circle class="o" cx="1102.0" cy="140.4"/><circle class="o" cx="1103.4" cy="144.8"/><circle class="o" cx="1110.7" cy="131.5"/><circle class="o" cx="1120.8" cy="130.7"/><circle class="o" cx="1106.7" cy="141.9"/><circle class="o" cx="1146.2" cy="81.1"/><circle class="o" cx="1152.3" cy="84.1"/><circle class="o" cx="1143.6" cy="93.0"/><circle class="o" cx="1151.6" cy="91.5"/><circle class="o" cx="1107.6" cy="105.6"/><circle class="o" cx="1108.0" cy="113.3"/><circle class="o" cx="1100.7" cy="114.4"/><circle class="o" cx="1102.7" cy="118.9"/><circle class="o" cx="1104.7" cy="122.6"/><circle class="o" cx="1108.7" cy="121.9"/><circle class="o" cx="1111.4" cy="123.3"/><circle class="o" cx="1114.1" cy="125.6"/><circle class="o" cx="1107.4" cy="127.0"/><circle class="o" cx="1116.1" cy="128.5"/><circle class="o" cx="1121.4" cy="106.3"/><circle class="o" cx="1120.8" cy="110.0"/><circle class="o" cx="1119.4" cy="114.4"/><circle class="o" cx="1121.4" cy="117.4"/><circle class="o" cx="1125.5" cy="113.7"/><circle class="o" cx="1124.8" cy="119.6"/><circle class="o" cx="1128.2" cy="121.1"/><circle class="o" cx="1133.5" cy="111.5"/><circle class="o" cx="1134.9" cy="114.4"/><circle class="o" cx="1136.9" cy="118.9"/><circle class="o" cx="1139.6" cy="115.9"/><circle class="o" cx="1140.9" cy="105.6"/><circle class="o" cx="1145.6" cy="113.0"/><circle class="o" cx="1146.2" cy="107.0"/><circle class="o" cx="1132.2" cy="127.0"/><circle class="o" cx="1103.4" cy="128.5"/><circle class="o" cx="1141.6" cy="121.9"/><circle class="o" cx="1126.1" cy="127.0"/><circle class="o" cx="1158.3" cy="103.3"/><circle class="o" cx="1167.0" cy="107.8"/><circle class="o" cx="1161.0" cy="78.1"/><circle class="o" cx="1165.0" cy="81.1"/><circle class="o" cx="1168.4" cy="81.9"/><circle class="o" cx="1159.0" cy="91.5"/><circle class="o" cx="1187.8" cy="73.0"/><circle class="o" cx="1190.5" cy="71.2"/><circle class="o" cx="971.7" cy="232.7"/><circle class="o" cx="968.6" cy="281.1"/><circle class="o" cx="969.3" cy="284.8"/><circle class="o" cx="976.0" cy="286.3"/><circle class="o" cx="982.0" cy="273.0"/><circle class="o" cx="983.4" cy="278.1"/><circle class="o" cx="985.4" cy="276.7"/><circle class="o" cx="983.4" cy="284.8"/><circle class="o" cx="988.1" cy="270.0"/><circle class="o" cx="990.7" cy="269.3"/><circle class="o" cx="993.4" cy="268.5"/><circle class="o" cx="989.4" cy="272.2"/><circle class="o" cx="996.1" cy="278.9"/><circle class="o" cx="1005.5" cy="264.8"/><circle class="o" cx="996.8" cy="245.6"/><circle class="o" cx="994.8" cy="250.7"/><circle class="o" cx="1001.5" cy="253.7"/><circle class="o" cx="1005.5" cy="249.3"/><circle class="o" cx="1007.5" cy="252.2"/></g>
<g><path class="g" d="M936.3 306.3l4.8 4.8m0-4.8l-4.8 4.8"/><path class="g" d="M943.5 299.5l4.8 4.8m0-4.8l-4.8 4.8"/><path class="g" d="M958.2 285.2l4.8 4.8m0-4.8l-4.8 4.8"/><path class="g" d="M964.4 278.7l4.8 4.8m0-4.8l-4.8 4.8"/><path class="g" d="M966.8 277.2l4.8 4.8m0-4.8l-4.8 4.8"/><path class="g" d="M983.6 260.0l4.8 4.8m0-4.8l-4.8 4.8"/><path class="g" d="M986.3 258.0l4.8 4.8m0-4.8l-4.8 4.8"/><path class="g" d="M1226.1 22.7l4.8 4.8m0-4.8l-4.8 4.8"/><path class="g" d="M1219.3 29.4l4.8 4.8m0-4.8l-4.8 4.8"/><path class="g" d="M1212.8 35.8l4.8 4.8m0-4.8l-4.8 4.8"/><path class="g" d="M1207.1 41.5l4.8 4.8m0-4.8l-4.8 4.8"/><path class="g" d="M1202.4 46.1l4.8 4.8m0-4.8l-4.8 4.8"/><path class="g" d="M1196.1 52.2l4.8 4.8m0-4.8l-4.8 4.8"/><path class="g" d="M1191.7 56.5l4.8 4.8m0-4.8l-4.8 4.8"/><path class="g" d="M1188.7 59.5l4.8 4.8m0-4.8l-4.8 4.8"/><path class="g" d="M999.1 244.6l4.8 4.8m0-4.8l-4.8 4.8"/><path class="g" d="M994.8 248.8l4.8 4.8m0-4.8l-4.8 4.8"/><path class="g" d="M1002.7 241.3l4.8 4.8m0-4.8l-4.8 4.8"/><path class="g" d="M1002.3 241.7l4.8 4.8m0-4.8l-4.8 4.8"/><path class="g" d="M994.2 249.7l4.8 4.8m0-4.8l-4.8 4.8"/><path class="g" d="M995.1 248.7l4.8 4.8m0-4.8l-4.8 4.8"/><path class="g" d="M1000.8 243.1l4.8 4.8m0-4.8l-4.8 4.8"/><path class="g" d="M1016.7 227.6l4.8 4.8m0-4.8l-4.8 4.8"/><path class="g" d="M1027.7 216.5l4.8 4.8m0-4.8l-4.8 4.8"/><path class="g" d="M1021.4 223.0l4.8 4.8m0-4.8l-4.8 4.8"/><path class="g" d="M1037.1 207.0l4.8 4.8m0-4.8l-4.8 4.8"/><path class="g" d="M1018.5 225.6l4.8 4.8m0-4.8l-4.8 4.8"/><path class="g" d="M1014.6 229.5l4.8 4.8m0-4.8l-4.8 4.8"/><path class="g" d="M1032.8 211.6l4.8 4.8m0-4.8l-4.8 4.8"/><path class="g" d="M1015.6 228.9l4.8 4.8m0-4.8l-4.8 4.8"/><path class="g" d="M1020.8 223.7l4.8 4.8m0-4.8l-4.8 4.8"/><path class="g" d="M1025.5 218.8l4.8 4.8m0-4.8l-4.8 4.8"/><path class="g" d="M1016.3 227.9l4.8 4.8m0-4.8l-4.8 4.8"/><path class="g" d="M1029.1 215.5l4.8 4.8m0-4.8l-4.8 4.8"/><path class="g" d="M1026.5 217.8l4.8 4.8m0-4.8l-4.8 4.8"/><path class="g" d="M1023.0 221.5l4.8 4.8m0-4.8l-4.8 4.8"/><path class="g" d="M1029.6 214.4l4.8 4.8m0-4.8l-4.8 4.8"/><path class="g" d="M1017.3 227.2l4.8 4.8m0-4.8l-4.8 4.8"/><path class="g" d="M1034.4 210.3l4.8 4.8m0-4.8l-4.8 4.8"/><path class="g" d="M1030.4 214.2l4.8 4.8m0-4.8l-4.8 4.8"/><path class="g" d="M1013.9 229.6l4.8 4.8m0-4.8l-4.8 4.8"/><path class="g" d="M1022.0 222.3l4.8 4.8m0-4.8l-4.8 4.8"/><path class="g" d="M1023.9 220.6l4.8 4.8m0-4.8l-4.8 4.8"/><path class="g" d="M1011.8 232.6l4.8 4.8m0-4.8l-4.8 4.8"/><path class="g" d="M1026.2 218.6l4.8 4.8m0-4.8l-4.8 4.8"/><path class="g" d="M1034.4 210.3l4.8 4.8m0-4.8l-4.8 4.8"/><path class="g" d="M1026.8 217.3l4.8 4.8m0-4.8l-4.8 4.8"/><path class="g" d="M1026.4 218.5l4.8 4.8m0-4.8l-4.8 4.8"/><path class="g" d="M1036.3 208.2l4.8 4.8m0-4.8l-4.8 4.8"/><path class="g" d="M1089.1 156.4l4.8 4.8m0-4.8l-4.8 4.8"/><path class="g" d="M1113.7 132.3l4.8 4.8m0-4.8l-4.8 4.8"/><path class="g" d="M1107.8 137.5l4.8 4.8m0-4.8l-4.8 4.8"/><path class="g" d="M1068.6 176.6l4.8 4.8m0-4.8l-4.8 4.8"/><path class="g" d="M1079.5 165.8l4.8 4.8m0-4.8l-4.8 4.8"/><path class="g" d="M1087.7 157.8l4.8 4.8m0-4.8l-4.8 4.8"/><path class="g" d="M1055.9 188.9l4.8 4.8m0-4.8l-4.8 4.8"/><path class="g" d="M1120.9 125.0l4.8 4.8m0-4.8l-4.8 4.8"/><path class="g" d="M1051.8 193.1l4.8 4.8m0-4.8l-4.8 4.8"/><path class="g" d="M1132.1 113.9l4.8 4.8m0-4.8l-4.8 4.8"/><path class="g" d="M1046.5 198.6l4.8 4.8m0-4.8l-4.8 4.8"/><path class="g" d="M1133.4 112.7l4.8 4.8m0-4.8l-4.8 4.8"/><path class="g" d="M1126.4 119.5l4.8 4.8m0-4.8l-4.8 4.8"/><path class="g" d="M1082.7 162.8l4.8 4.8m0-4.8l-4.8 4.8"/><path class="g" d="M1076.6 168.2l4.8 4.8m0-4.8l-4.8 4.8"/><path class="g" d="M1054.1 191.2l4.8 4.8m0-4.8l-4.8 4.8"/><path class="g" d="M1056.8 188.1l4.8 4.8m0-4.8l-4.8 4.8"/><path class="g" d="M1090.2 155.1l4.8 4.8m0-4.8l-4.8 4.8"/><path class="g" d="M1101.5 144.2l4.8 4.8m0-4.8l-4.8 4.8"/><path class="g" d="M1083.1 162.2l4.8 4.8m0-4.8l-4.8 4.8"/><path class="g" d="M1077.7 168.1l4.8 4.8m0-4.8l-4.8 4.8"/><path class="g" d="M1112.5 133.6l4.8 4.8m0-4.8l-4.8 4.8"/><path class="g" d="M1093.5 152.3l4.8 4.8m0-4.8l-4.8 4.8"/><path class="g" d="M1043.6 201.3l4.8 4.8m0-4.8l-4.8 4.8"/><path class="g" d="M1135.1 111.0l4.8 4.8m0-4.8l-4.8 4.8"/><path class="g" d="M1124.1 122.4l4.8 4.8m0-4.8l-4.8 4.8"/><path class="g" d="M1080.2 165.2l4.8 4.8m0-4.8l-4.8 4.8"/><path class="g" d="M1106.4 139.3l4.8 4.8m0-4.8l-4.8 4.8"/><path class="g" d="M1044.5 200.1l4.8 4.8m0-4.8l-4.8 4.8"/><path class="g" d="M1055.3 189.5l4.8 4.8m0-4.8l-4.8 4.8"/><path class="g" d="M1074.6 170.7l4.8 4.8m0-4.8l-4.8 4.8"/><path class="g" d="M1054.1 190.7l4.8 4.8m0-4.8l-4.8 4.8"/><path class="g" d="M1048.7 196.1l4.8 4.8m0-4.8l-4.8 4.8"/><path class="g" d="M1132.4 113.8l4.8 4.8m0-4.8l-4.8 4.8"/><path class="g" d="M1104.2 141.4l4.8 4.8m0-4.8l-4.8 4.8"/><path class="g" d="M1075.4 169.7l4.8 4.8m0-4.8l-4.8 4.8"/><path class="g" d="M1077.2 167.8l4.8 4.8m0-4.8l-4.8 4.8"/><path class="g" d="M1145.2 100.8l4.8 4.8m0-4.8l-4.8 4.8"/><path class="g" d="M1088.2 157.4l4.8 4.8m0-4.8l-4.8 4.8"/><path class="g" d="M1048.8 196.0l4.8 4.8m0-4.8l-4.8 4.8"/><path class="g" d="M1074.8 170.4l4.8 4.8m0-4.8l-4.8 4.8"/><path class="g" d="M1055.2 189.2l4.8 4.8m0-4.8l-4.8 4.8"/><path class="g" d="M1040.3 204.1l4.8 4.8m0-4.8l-4.8 4.8"/><path class="g" d="M1053.6 191.3l4.8 4.8m0-4.8l-4.8 4.8"/><path class="g" d="M1096.5 148.7l4.8 4.8m0-4.8l-4.8 4.8"/><path class="g" d="M1143.7 102.7l4.8 4.8m0-4.8l-4.8 4.8"/><path class="g" d="M1131.2 115.0l4.8 4.8m0-4.8l-4.8 4.8"/><path class="g" d="M1077.4 168.0l4.8 4.8m0-4.8l-4.8 4.8"/><path class="g" d="M1055.8 189.0l4.8 4.8m0-4.8l-4.8 4.8"/><path class="g" d="M1122.1 124.2l4.8 4.8m0-4.8l-4.8 4.8"/><path class="g" d="M1073.4 171.7l4.8 4.8m0-4.8l-4.8 4.8"/><path class="g" d="M1144.4 101.6l4.8 4.8m0-4.8l-4.8 4.8"/><path class="g" d="M1130.0 116.0l4.8 4.8m0-4.8l-4.8 4.8"/><path class="g" d="M1117.8 128.5l4.8 4.8m0-4.8l-4.8 4.8"/><path class="g" d="M1062.3 182.9l4.8 4.8m0-4.8l-4.8 4.8"/><path class="g" d="M1040.9 203.8l4.8 4.8m0-4.8l-4.8 4.8"/><path class="g" d="M1040.8 203.9l4.8 4.8m0-4.8l-4.8 4.8"/><path class="g" d="M1112.7 133.0l4.8 4.8m0-4.8l-4.8 4.8"/><path class="g" d="M1141.3 105.6l4.8 4.8m0-4.8l-4.8 4.8"/><path class="g" d="M1144.7 101.5l4.8 4.8m0-4.8l-4.8 4.8"/><path class="g" d="M1141.1 105.3l4.8 4.8m0-4.8l-4.8 4.8"/><path class="g" d="M1062.3 182.6l4.8 4.8m0-4.8l-4.8 4.8"/><path class="g" d="M1059.0 185.8l4.8 4.8m0-4.8l-4.8 4.8"/><path class="g" d="M1135.2 110.7l4.8 4.8m0-4.8l-4.8 4.8"/><path class="g" d="M1128.7 117.8l4.8 4.8m0-4.8l-4.8 4.8"/><path class="g" d="M1124.3 121.7l4.8 4.8m0-4.8l-4.8 4.8"/><path class="g" d="M1046.9 198.1l4.8 4.8m0-4.8l-4.8 4.8"/><path class="g" d="M1122.4 124.1l4.8 4.8m0-4.8l-4.8 4.8"/><path class="g" d="M1118.9 127.2l4.8 4.8m0-4.8l-4.8 4.8"/><path class="g" d="M1123.2 122.9l4.8 4.8m0-4.8l-4.8 4.8"/><path class="g" d="M1073.7 171.3l4.8 4.8m0-4.8l-4.8 4.8"/><path class="g" d="M1080.6 165.3l4.8 4.8m0-4.8l-4.8 4.8"/><path class="g" d="M1081.2 163.8l4.8 4.8m0-4.8l-4.8 4.8"/><path class="g" d="M1056.2 188.9l4.8 4.8m0-4.8l-4.8 4.8"/><path class="g" d="M1051.5 193.0l4.8 4.8m0-4.8l-4.8 4.8"/><path class="g" d="M1125.0 120.6l4.8 4.8m0-4.8l-4.8 4.8"/><path class="g" d="M1053.6 191.0l4.8 4.8m0-4.8l-4.8 4.8"/><path class="g" d="M1108.9 137.5l4.8 4.8m0-4.8l-4.8 4.8"/><path class="g" d="M1075.7 169.7l4.8 4.8m0-4.8l-4.8 4.8"/><path class="g" d="M1039.3 205.4l4.8 4.8m0-4.8l-4.8 4.8"/><path class="g" d="M1142.8 103.7l4.8 4.8m0-4.8l-4.8 4.8"/><path class="g" d="M1138.8 107.7l4.8 4.8m0-4.8l-4.8 4.8"/><path class="g" d="M1084.7 160.4l4.8 4.8m0-4.8l-4.8 4.8"/><path class="g" d="M1060.6 184.7l4.8 4.8m0-4.8l-4.8 4.8"/><path class="g" d="M1065.0 180.1l4.8 4.8m0-4.8l-4.8 4.8"/><path class="g" d="M1101.2 144.3l4.8 4.8m0-4.8l-4.8 4.8"/><path class="g" d="M1065.8 179.4l4.8 4.8m0-4.8l-4.8 4.8"/><path class="g" d="M1136.3 109.9l4.8 4.8m0-4.8l-4.8 4.8"/><path class="g" d="M1076.0 169.5l4.8 4.8m0-4.8l-4.8 4.8"/><path class="g" d="M1135.6 110.5l4.8 4.8m0-4.8l-4.8 4.8"/><path class="g" d="M1083.3 161.8l4.8 4.8m0-4.8l-4.8 4.8"/><path class="g" d="M1095.3 150.4l4.8 4.8m0-4.8l-4.8 4.8"/><path class="g" d="M1094.4 150.9l4.8 4.8m0-4.8l-4.8 4.8"/><path class="g" d="M1057.6 187.3l4.8 4.8m0-4.8l-4.8 4.8"/><path class="g" d="M1038.2 206.4l4.8 4.8m0-4.8l-4.8 4.8"/><path class="g" d="M1089.0 156.6l4.8 4.8m0-4.8l-4.8 4.8"/><path class="g" d="M1116.2 129.9l4.8 4.8m0-4.8l-4.8 4.8"/><path class="g" d="M1093.9 151.8l4.8 4.8m0-4.8l-4.8 4.8"/><path class="g" d="M1097.9 147.7l4.8 4.8m0-4.8l-4.8 4.8"/><path class="g" d="M1098.4 147.3l4.8 4.8m0-4.8l-4.8 4.8"/><path class="g" d="M1064.6 180.5l4.8 4.8m0-4.8l-4.8 4.8"/><path class="g" d="M1092.7 152.4l4.8 4.8m0-4.8l-4.8 4.8"/><path class="g" d="M1098.6 147.0l4.8 4.8m0-4.8l-4.8 4.8"/><path class="g" d="M1085.7 160.2l4.8 4.8m0-4.8l-4.8 4.8"/><path class="g" d="M1104.1 142.0l4.8 4.8m0-4.8l-4.8 4.8"/><path class="g" d="M1112.7 133.1l4.8 4.8m0-4.8l-4.8 4.8"/><path class="g" d="M1086.7 159.0l4.8 4.8m0-4.8l-4.8 4.8"/><path class="g" d="M1139.7 106.7l4.8 4.8m0-4.8l-4.8 4.8"/><path class="g" d="M1113.4 132.0l4.8 4.8m0-4.8l-4.8 4.8"/><path class="g" d="M1065.8 179.6l4.8 4.8m0-4.8l-4.8 4.8"/><path class="g" d="M1098.3 146.9l4.8 4.8m0-4.8l-4.8 4.8"/><path class="g" d="M1052.6 192.4l4.8 4.8m0-4.8l-4.8 4.8"/><path class="g" d="M1050.9 194.0l4.8 4.8m0-4.8l-4.8 4.8"/><path class="g" d="M1063.8 181.2l4.8 4.8m0-4.8l-4.8 4.8"/><path class="g" d="M1045.7 199.3l4.8 4.8m0-4.8l-4.8 4.8"/><path class="g" d="M1134.8 111.8l4.8 4.8m0-4.8l-4.8 4.8"/><path class="g" d="M1054.5 190.5l4.8 4.8m0-4.8l-4.8 4.8"/><path class="g" d="M1053.2 192.0l4.8 4.8m0-4.8l-4.8 4.8"/><path class="g" d="M1133.3 112.7l4.8 4.8m0-4.8l-4.8 4.8"/><path class="g" d="M1140.8 105.5l4.8 4.8m0-4.8l-4.8 4.8"/><path class="g" d="M1080.9 165.2l4.8 4.8m0-4.8l-4.8 4.8"/><path class="g" d="M1127.9 118.2l4.8 4.8m0-4.8l-4.8 4.8"/><path class="g" d="M1055.2 189.9l4.8 4.8m0-4.8l-4.8 4.8"/><path class="g" d="M1074.5 170.6l4.8 4.8m0-4.8l-4.8 4.8"/><path class="g" d="M1058.9 186.2l4.8 4.8m0-4.8l-4.8 4.8"/><path class="g" d="M1039.9 204.4l4.8 4.8m0-4.8l-4.8 4.8"/><path class="g" d="M1097.7 147.9l4.8 4.8m0-4.8l-4.8 4.8"/><path class="g" d="M1073.6 171.6l4.8 4.8m0-4.8l-4.8 4.8"/><path class="g" d="M1105.3 140.5l4.8 4.8m0-4.8l-4.8 4.8"/><path class="g" d="M1144.4 102.0l4.8 4.8m0-4.8l-4.8 4.8"/><path class="g" d="M1123.1 122.8l4.8 4.8m0-4.8l-4.8 4.8"/><path class="g" d="M1066.5 178.6l4.8 4.8m0-4.8l-4.8 4.8"/><path class="g" d="M1042.0 202.6l4.8 4.8m0-4.8l-4.8 4.8"/><path class="g" d="M1051.8 193.2l4.8 4.8m0-4.8l-4.8 4.8"/><path class="g" d="M1083.5 161.5l4.8 4.8m0-4.8l-4.8 4.8"/><path class="g" d="M1065.7 179.6l4.8 4.8m0-4.8l-4.8 4.8"/><path class="g" d="M1053.9 190.7l4.8 4.8m0-4.8l-4.8 4.8"/><path class="g" d="M1113.6 132.5l4.8 4.8m0-4.8l-4.8 4.8"/><path class="g" d="M1047.4 197.0l4.8 4.8m0-4.8l-4.8 4.8"/><path class="g" d="M1083.8 161.5l4.8 4.8m0-4.8l-4.8 4.8"/><path class="g" d="M1045.6 198.8l4.8 4.8m0-4.8l-4.8 4.8"/><path class="g" d="M1124.5 121.7l4.8 4.8m0-4.8l-4.8 4.8"/><path class="g" d="M1046.8 197.9l4.8 4.8m0-4.8l-4.8 4.8"/><path class="g" d="M1131.1 115.1l4.8 4.8m0-4.8l-4.8 4.8"/><path class="g" d="M1086.9 158.7l4.8 4.8m0-4.8l-4.8 4.8"/><path class="g" d="M1138.1 108.0l4.8 4.8m0-4.8l-4.8 4.8"/><path class="g" d="M1066.7 178.1l4.8 4.8m0-4.8l-4.8 4.8"/><path class="g" d="M1063.6 181.3l4.8 4.8m0-4.8l-4.8 4.8"/><path class="g" d="M1049.6 195.2l4.8 4.8m0-4.8l-4.8 4.8"/><path class="g" d="M1059.6 185.3l4.8 4.8m0-4.8l-4.8 4.8"/><path class="g" d="M1071.5 173.8l4.8 4.8m0-4.8l-4.8 4.8"/><path class="g" d="M1069.1 175.6l4.8 4.8m0-4.8l-4.8 4.8"/><path class="g" d="M1091.9 153.5l4.8 4.8m0-4.8l-4.8 4.8"/><path class="g" d="M1039.7 204.7l4.8 4.8m0-4.8l-4.8 4.8"/><path class="g" d="M1064.9 179.8l4.8 4.8m0-4.8l-4.8 4.8"/><path class="g" d="M1097.4 148.2l4.8 4.8m0-4.8l-4.8 4.8"/><path class="g" d="M1058.3 187.2l4.8 4.8m0-4.8l-4.8 4.8"/><path class="g" d="M1049.3 195.4l4.8 4.8m0-4.8l-4.8 4.8"/><path class="g" d="M1126.4 120.0l4.8 4.8m0-4.8l-4.8 4.8"/><path class="g" d="M1128.1 117.9l4.8 4.8m0-4.8l-4.8 4.8"/><path class="g" d="M1080.3 165.4l4.8 4.8m0-4.8l-4.8 4.8"/><path class="g" d="M1144.1 102.3l4.8 4.8m0-4.8l-4.8 4.8"/><path class="g" d="M1074.8 170.2l4.8 4.8m0-4.8l-4.8 4.8"/><path class="g" d="M1106.6 139.5l4.8 4.8m0-4.8l-4.8 4.8"/><path class="g" d="M1081.6 163.8l4.8 4.8m0-4.8l-4.8 4.8"/><path class="g" d="M1051.8 193.0l4.8 4.8m0-4.8l-4.8 4.8"/><path class="g" d="M1045.4 199.3l4.8 4.8m0-4.8l-4.8 4.8"/><path class="g" d="M1055.4 189.7l4.8 4.8m0-4.8l-4.8 4.8"/><path class="g" d="M1046.9 197.6l4.8 4.8m0-4.8l-4.8 4.8"/><path class="g" d="M1110.3 135.9l4.8 4.8m0-4.8l-4.8 4.8"/><path class="g" d="M1068.3 176.8l4.8 4.8m0-4.8l-4.8 4.8"/><path class="g" d="M1087.5 157.7l4.8 4.8m0-4.8l-4.8 4.8"/><path class="g" d="M1054.8 190.3l4.8 4.8m0-4.8l-4.8 4.8"/><path class="g" d="M1141.9 104.4l4.8 4.8m0-4.8l-4.8 4.8"/><path class="g" d="M1143.0 103.5l4.8 4.8m0-4.8l-4.8 4.8"/><path class="g" d="M1142.3 104.1l4.8 4.8m0-4.8l-4.8 4.8"/><path class="g" d="M1071.3 173.9l4.8 4.8m0-4.8l-4.8 4.8"/><path class="g" d="M1079.1 166.2l4.8 4.8m0-4.8l-4.8 4.8"/><path class="g" d="M1089.1 156.5l4.8 4.8m0-4.8l-4.8 4.8"/><path class="g" d="M1092.4 153.1l4.8 4.8m0-4.8l-4.8 4.8"/><path class="g" d="M1038.3 206.3l4.8 4.8m0-4.8l-4.8 4.8"/><path class="g" d="M1081.0 164.2l4.8 4.8m0-4.8l-4.8 4.8"/><path class="g" d="M1042.3 202.2l4.8 4.8m0-4.8l-4.8 4.8"/><path class="g" d="M1063.0 182.0l4.8 4.8m0-4.8l-4.8 4.8"/><path class="g" d="M1101.1 144.9l4.8 4.8m0-4.8l-4.8 4.8"/><path class="g" d="M1108.9 136.9l4.8 4.8m0-4.8l-4.8 4.8"/><path class="g" d="M1115.2 130.5l4.8 4.8m0-4.8l-4.8 4.8"/><path class="g" d="M1073.1 172.3l4.8 4.8m0-4.8l-4.8 4.8"/><path class="g" d="M1144.3 101.8l4.8 4.8m0-4.8l-4.8 4.8"/><path class="g" d="M1107.4 138.1l4.8 4.8m0-4.8l-4.8 4.8"/><path class="g" d="M1042.5 201.9l4.8 4.8m0-4.8l-4.8 4.8"/><path class="g" d="M1105.7 140.5l4.8 4.8m0-4.8l-4.8 4.8"/><path class="g" d="M1117.2 128.7l4.8 4.8m0-4.8l-4.8 4.8"/><path class="g" d="M1094.4 151.2l4.8 4.8m0-4.8l-4.8 4.8"/><path class="g" d="M1092.3 152.9l4.8 4.8m0-4.8l-4.8 4.8"/><path class="g" d="M1127.2 119.3l4.8 4.8m0-4.8l-4.8 4.8"/><path class="g" d="M1101.0 144.4l4.8 4.8m0-4.8l-4.8 4.8"/><path class="g" d="M1112.8 133.3l4.8 4.8m0-4.8l-4.8 4.8"/><path class="g" d="M1062.6 182.2l4.8 4.8m0-4.8l-4.8 4.8"/><path class="g" d="M1076.8 168.4l4.8 4.8m0-4.8l-4.8 4.8"/><path class="g" d="M1049.1 195.5l4.8 4.8m0-4.8l-4.8 4.8"/><path class="g" d="M1105.7 140.3l4.8 4.8m0-4.8l-4.8 4.8"/><path class="g" d="M1105.5 140.3l4.8 4.8m0-4.8l-4.8 4.8"/><path class="g" d="M1038.1 206.7l4.8 4.8m0-4.8l-4.8 4.8"/><path class="g" d="M1174.8 72.1l4.8 4.8m0-4.8l-4.8 4.8"/><path class="g" d="M1165.3 81.7l4.8 4.8m0-4.8l-4.8 4.8"/><path class="g" d="M1169.8 76.7l4.8 4.8m0-4.8l-4.8 4.8"/><path class="g" d="M1155.1 91.3l4.8 4.8m0-4.8l-4.8 4.8"/><path class="g" d="M1148.7 97.8l4.8 4.8m0-4.8l-4.8 4.8"/><path class="g" d="M1153.4 92.8l4.8 4.8m0-4.8l-4.8 4.8"/><path class="g" d="M1172.7 73.9l4.8 4.8m0-4.8l-4.8 4.8"/><path class="g" d="M1159.8 86.9l4.8 4.8m0-4.8l-4.8 4.8"/><path class="g" d="M1163.3 83.6l4.8 4.8m0-4.8l-4.8 4.8"/><path class="g" d="M1168.2 78.9l4.8 4.8m0-4.8l-4.8 4.8"/><path class="g" d="M1169.2 77.5l4.8 4.8m0-4.8l-4.8 4.8"/><path class="g" d="M1155.2 91.4l4.8 4.8m0-4.8l-4.8 4.8"/><path class="g" d="M1172.8 74.2l4.8 4.8m0-4.8l-4.8 4.8"/><path class="g" d="M1146.4 99.7l4.8 4.8m0-4.8l-4.8 4.8"/><path class="g" d="M1148.2 98.3l4.8 4.8m0-4.8l-4.8 4.8"/><path class="g" d="M1171.0 75.5l4.8 4.8m0-4.8l-4.8 4.8"/><path class="g" d="M1170.4 76.5l4.8 4.8m0-4.8l-4.8 4.8"/><path class="g" d="M1162.8 83.7l4.8 4.8m0-4.8l-4.8 4.8"/><path class="g" d="M1162.8 83.5l4.8 4.8m0-4.8l-4.8 4.8"/><path class="g" d="M1153.2 93.0l4.8 4.8m0-4.8l-4.8 4.8"/><path class="g" d="M1181.3 65.7l4.8 4.8m0-4.8l-4.8 4.8"/><path class="g" d="M1162.5 84.2l4.8 4.8m0-4.8l-4.8 4.8"/><path class="g" d="M1175.6 71.1l4.8 4.8m0-4.8l-4.8 4.8"/><path class="g" d="M1155.7 91.0l4.8 4.8m0-4.8l-4.8 4.8"/><path class="g" d="M1153.6 92.8l4.8 4.8m0-4.8l-4.8 4.8"/><path class="g" d="M1167.0 79.9l4.8 4.8m0-4.8l-4.8 4.8"/><path class="g" d="M1151.1 96.0l4.8 4.8m0-4.8l-4.8 4.8"/><path class="g" d="M1150.8 95.8l4.8 4.8m0-4.8l-4.8 4.8"/><path class="g" d="M1175.6 71.8l4.8 4.8m0-4.8l-4.8 4.8"/><path class="g" d="M1171.4 75.5l4.8 4.8m0-4.8l-4.8 4.8"/><path class="g" d="M1154.3 92.0l4.8 4.8m0-4.8l-4.8 4.8"/><path class="g" d="M1146.9 99.7l4.8 4.8m0-4.8l-4.8 4.8"/><path class="g" d="M1146.1 100.6l4.8 4.8m0-4.8l-4.8 4.8"/><path class="g" d="M1156.9 89.7l4.8 4.8m0-4.8l-4.8 4.8"/><path class="g" d="M1151.1 95.6l4.8 4.8m0-4.8l-4.8 4.8"/><path class="g" d="M1176.3 70.5l4.8 4.8m0-4.8l-4.8 4.8"/><path class="g" d="M1146.1 100.4l4.8 4.8m0-4.8l-4.8 4.8"/><path class="g" d="M1150.3 96.6l4.8 4.8m0-4.8l-4.8 4.8"/><path class="g" d="M1179.4 67.7l4.8 4.8m0-4.8l-4.8 4.8"/><path class="g" d="M1156.4 90.7l4.8 4.8m0-4.8l-4.8 4.8"/><path class="g" d="M1159.4 87.9l4.8 4.8m0-4.8l-4.8 4.8"/><path class="g" d="M1167.2 79.0l4.8 4.8m0-4.8l-4.8 4.8"/><path class="g" d="M1159.0 87.8l4.8 4.8m0-4.8l-4.8 4.8"/><path class="g" d="M1147.7 98.6l4.8 4.8m0-4.8l-4.8 4.8"/><path class="g" d="M1149.7 96.7l4.8 4.8m0-4.8l-4.8 4.8"/><path class="g" d="M1179.7 67.4l4.8 4.8m0-4.8l-4.8 4.8"/><path class="g" d="M1155.0 91.6l4.8 4.8m0-4.8l-4.8 4.8"/><path class="g" d="M1152.8 93.4l4.8 4.8m0-4.8l-4.8 4.8"/><path class="g" d="M1159.5 86.7l4.8 4.8m0-4.8l-4.8 4.8"/><path class="g" d="M1175.3 71.8l4.8 4.8m0-4.8l-4.8 4.8"/><path class="g" d="M1168.8 77.6l4.8 4.8m0-4.8l-4.8 4.8"/><path class="g" d="M1165.8 81.3l4.8 4.8m0-4.8l-4.8 4.8"/><path class="g" d="M1172.0 74.5l4.8 4.8m0-4.8l-4.8 4.8"/><path class="g" d="M1162.3 84.3l4.8 4.8m0-4.8l-4.8 4.8"/><path class="g" d="M1173.1 73.9l4.8 4.8m0-4.8l-4.8 4.8"/><path class="g" d="M1147.8 98.9l4.8 4.8m0-4.8l-4.8 4.8"/><path class="g" d="M1187.1 59.8l4.8 4.8m0-4.8l-4.8 4.8"/><path class="g" d="M1183.9 62.9l4.8 4.8m0-4.8l-4.8 4.8"/><path class="g" d="M1183.7 63.4l4.8 4.8m0-4.8l-4.8 4.8"/><path class="g" d="M1183.5 64.2l4.8 4.8m0-4.8l-4.8 4.8"/><path class="g" d="M1185.6 61.6l4.8 4.8m0-4.8l-4.8 4.8"/></g>
<g><path class="r" d="M925.9 316.6l4.8 4.8m0-4.8l-4.8 4.8"/><path class="r" d="M933.4 309.2l4.8 4.8m0-4.8l-4.8 4.8"/><path class="r" d="M1168.7 78.7l4.8 4.8m0-4.8l-4.8 4.8"/><path class="r" d="M1172.0 75.7l4.8 4.8m0-4.8l-4.8 4.8"/><path class="r" d="M1174.7 72.8l4.8 4.8m0-4.8l-4.8 4.8"/><path class="r" d="M1195.3 52.6l4.8 4.8m0-4.8l-4.8 4.8"/><path class="r" d="M1188.9 59.5l4.8 4.8m0-4.8l-4.8 4.8"/><path class="r" d="M961.5 281.7l4.8 4.8m0-4.8l-4.8 4.8"/><path class="r" d="M965.5 276.5l4.8 4.8m0-4.8l-4.8 4.8"/><path class="r" d="M970.9 272.0l4.8 4.8m0-4.8l-4.8 4.8"/><path class="r" d="M976.9 265.4l4.8 4.8m0-4.8l-4.8 4.8"/><path class="r" d="M982.3 259.5l4.8 4.8m0-4.8l-4.8 4.8"/><path class="r" d="M992.7 250.8l4.8 4.8m0-4.8l-4.8 4.8"/><path class="r" d="M987.6 256.3l4.8 4.8m0-4.8l-4.8 4.8"/><path class="r" d="M1004.3 239.8l4.8 4.8m0-4.8l-4.8 4.8"/><path class="r" d="M995.1 248.9l4.8 4.8m0-4.8l-4.8 4.8"/><path class="r" d="M1006.4 237.0l4.8 4.8m0-4.8l-4.8 4.8"/><path class="r" d="M994.0 250.0l4.8 4.8m0-4.8l-4.8 4.8"/><path class="r" d="M985.9 257.9l4.8 4.8m0-4.8l-4.8 4.8"/><path class="r" d="M991.6 252.3l4.8 4.8m0-4.8l-4.8 4.8"/><path class="r" d="M989.7 254.3l4.8 4.8m0-4.8l-4.8 4.8"/><path class="r" d="M996.7 246.9l4.8 4.8m0-4.8l-4.8 4.8"/><path class="r" d="M993.2 251.5l4.8 4.8m0-4.8l-4.8 4.8"/><path class="r" d="M993.2 251.5l4.8 4.8m0-4.8l-4.8 4.8"/><path class="r" d="M1012.6 232.0l4.8 4.8m0-4.8l-4.8 4.8"/><path class="r" d="M1007.6 237.1l4.8 4.8m0-4.8l-4.8 4.8"/><path class="r" d="M1008.7 234.5l4.8 4.8m0-4.8l-4.8 4.8"/><path class="r" d="M1015.5 229.7l4.8 4.8m0-4.8l-4.8 4.8"/><path class="r" d="M1010.3 234.8l4.8 4.8m0-4.8l-4.8 4.8"/><path class="r" d="M1011.3 233.1l4.8 4.8m0-4.8l-4.8 4.8"/><path class="r" d="M1014.5 229.5l4.8 4.8m0-4.8l-4.8 4.8"/><path class="r" d="M1023.7 220.4l4.8 4.8m0-4.8l-4.8 4.8"/><path class="r" d="M1006.8 238.4l4.8 4.8m0-4.8l-4.8 4.8"/><path class="r" d="M1007.0 237.6l4.8 4.8m0-4.8l-4.8 4.8"/><path class="r" d="M1015.0 230.5l4.8 4.8m0-4.8l-4.8 4.8"/><path class="r" d="M1017.1 227.0l4.8 4.8m0-4.8l-4.8 4.8"/><path class="r" d="M1023.2 221.5l4.8 4.8m0-4.8l-4.8 4.8"/><path class="r" d="M1021.4 222.5l4.8 4.8m0-4.8l-4.8 4.8"/><path class="r" d="M1010.9 234.6l4.8 4.8m0-4.8l-4.8 4.8"/><path class="r" d="M1008.4 235.7l4.8 4.8m0-4.8l-4.8 4.8"/><path class="r" d="M1018.8 225.3l4.8 4.8m0-4.8l-4.8 4.8"/><path class="r" d="M1023.5 221.3l4.8 4.8m0-4.8l-4.8 4.8"/><path class="r" d="M1020.3 225.0l4.8 4.8m0-4.8l-4.8 4.8"/><path class="r" d="M1014.7 230.0l4.8 4.8m0-4.8l-4.8 4.8"/><path class="r" d="M1020.6 224.1l4.8 4.8m0-4.8l-4.8 4.8"/><path class="r" d="M1010.6 233.2l4.8 4.8m0-4.8l-4.8 4.8"/><path class="r" d="M1011.9 232.9l4.8 4.8m0-4.8l-4.8 4.8"/><path class="r" d="M1008.8 235.7l4.8 4.8m0-4.8l-4.8 4.8"/><path class="r" d="M1019.1 224.8l4.8 4.8m0-4.8l-4.8 4.8"/><path class="r" d="M1008.5 235.4l4.8 4.8m0-4.8l-4.8 4.8"/><path class="r" d="M1017.0 227.3l4.8 4.8m0-4.8l-4.8 4.8"/><path class="r" d="M1013.5 230.9l4.8 4.8m0-4.8l-4.8 4.8"/><path class="r" d="M1006.6 237.1l4.8 4.8m0-4.8l-4.8 4.8"/><path class="r" d="M1011.9 233.8l4.8 4.8m0-4.8l-4.8 4.8"/><path class="r" d="M1071.2 174.0l4.8 4.8m0-4.8l-4.8 4.8"/><path class="r" d="M1088.5 157.6l4.8 4.8m0-4.8l-4.8 4.8"/><path class="r" d="M1042.4 202.5l4.8 4.8m0-4.8l-4.8 4.8"/><path class="r" d="M1094.1 151.9l4.8 4.8m0-4.8l-4.8 4.8"/><path class="r" d="M1026.1 219.0l4.8 4.8m0-4.8l-4.8 4.8"/><path class="r" d="M1060.6 184.9l4.8 4.8m0-4.8l-4.8 4.8"/><path class="r" d="M1043.2 202.3l4.8 4.8m0-4.8l-4.8 4.8"/><path class="r" d="M1072.8 172.4l4.8 4.8m0-4.8l-4.8 4.8"/><path class="r" d="M1027.0 217.9l4.8 4.8m0-4.8l-4.8 4.8"/><path class="r" d="M1049.0 196.8l4.8 4.8m0-4.8l-4.8 4.8"/><path class="r" d="M1038.9 205.7l4.8 4.8m0-4.8l-4.8 4.8"/><path class="r" d="M1082.2 163.5l4.8 4.8m0-4.8l-4.8 4.8"/><path class="r" d="M1039.4 206.1l4.8 4.8m0-4.8l-4.8 4.8"/><path class="r" d="M1094.7 151.5l4.8 4.8m0-4.8l-4.8 4.8"/><path class="r" d="M1041.2 202.9l4.8 4.8m0-4.8l-4.8 4.8"/><path class="r" d="M1040.6 204.4l4.8 4.8m0-4.8l-4.8 4.8"/><path class="r" d="M1093.5 152.8l4.8 4.8m0-4.8l-4.8 4.8"/><path class="r" d="M1060.4 184.7l4.8 4.8m0-4.8l-4.8 4.8"/><path class="r" d="M1054.7 190.2l4.8 4.8m0-4.8l-4.8 4.8"/><path class="r" d="M1072.7 172.6l4.8 4.8m0-4.8l-4.8 4.8"/><path class="r" d="M1053.0 192.2l4.8 4.8m0-4.8l-4.8 4.8"/><path class="r" d="M1040.0 204.7l4.8 4.8m0-4.8l-4.8 4.8"/><path class="r" d="M1028.3 216.5l4.8 4.8m0-4.8l-4.8 4.8"/><path class="r" d="M1028.9 216.7l4.8 4.8m0-4.8l-4.8 4.8"/><path class="r" d="M1088.5 156.6l4.8 4.8m0-4.8l-4.8 4.8"/><path class="r" d="M1077.6 166.9l4.8 4.8m0-4.8l-4.8 4.8"/><path class="r" d="M1048.4 196.7l4.8 4.8m0-4.8l-4.8 4.8"/><path class="r" d="M1038.0 206.2l4.8 4.8m0-4.8l-4.8 4.8"/><path class="r" d="M1026.8 218.2l4.8 4.8m0-4.8l-4.8 4.8"/><path class="r" d="M1072.6 173.2l4.8 4.8m0-4.8l-4.8 4.8"/><path class="r" d="M1048.5 196.2l4.8 4.8m0-4.8l-4.8 4.8"/><path class="r" d="M1036.8 207.7l4.8 4.8m0-4.8l-4.8 4.8"/><path class="r" d="M1050.0 195.1l4.8 4.8m0-4.8l-4.8 4.8"/><path class="r" d="M1093.7 151.3l4.8 4.8m0-4.8l-4.8 4.8"/><path class="r" d="M1039.6 204.5l4.8 4.8m0-4.8l-4.8 4.8"/><path class="r" d="M1050.4 194.4l4.8 4.8m0-4.8l-4.8 4.8"/><path class="r" d="M1055.8 190.2l4.8 4.8m0-4.8l-4.8 4.8"/><path class="r" d="M1028.1 217.1l4.8 4.8m0-4.8l-4.8 4.8"/><path class="r" d="M1091.1 154.6l4.8 4.8m0-4.8l-4.8 4.8"/><path class="r" d="M1038.5 207.1l4.8 4.8m0-4.8l-4.8 4.8"/><path class="r" d="M1026.7 217.2l4.8 4.8m0-4.8l-4.8 4.8"/><path class="r" d="M1054.3 190.6l4.8 4.8m0-4.8l-4.8 4.8"/><path class="r" d="M1027.5 218.0l4.8 4.8m0-4.8l-4.8 4.8"/><path class="r" d="M1027.1 216.7l4.8 4.8m0-4.8l-4.8 4.8"/><path class="r" d="M1043.1 201.4l4.8 4.8m0-4.8l-4.8 4.8"/><path class="r" d="M1078.6 166.6l4.8 4.8m0-4.8l-4.8 4.8"/><path class="r" d="M1044.3 201.0l4.8 4.8m0-4.8l-4.8 4.8"/><path class="r" d="M1093.9 152.3l4.8 4.8m0-4.8l-4.8 4.8"/><path class="r" d="M1076.4 169.4l4.8 4.8m0-4.8l-4.8 4.8"/><path class="r" d="M1047.4 197.6l4.8 4.8m0-4.8l-4.8 4.8"/><path class="r" d="M1079.2 166.3l4.8 4.8m0-4.8l-4.8 4.8"/><path class="r" d="M1090.9 155.7l4.8 4.8m0-4.8l-4.8 4.8"/><path class="r" d="M1026.3 219.3l4.8 4.8m0-4.8l-4.8 4.8"/><path class="r" d="M1041.5 204.7l4.8 4.8m0-4.8l-4.8 4.8"/><path class="r" d="M1093.6 152.1l4.8 4.8m0-4.8l-4.8 4.8"/><path class="r" d="M1052.5 192.7l4.8 4.8m0-4.8l-4.8 4.8"/><path class="r" d="M1060.3 184.5l4.8 4.8m0-4.8l-4.8 4.8"/><path class="r" d="M1091.7 153.7l4.8 4.8m0-4.8l-4.8 4.8"/><path class="r" d="M1078.0 166.8l4.8 4.8m0-4.8l-4.8 4.8"/><path class="r" d="M1084.1 161.5l4.8 4.8m0-4.8l-4.8 4.8"/><path class="r" d="M1048.3 197.5l4.8 4.8m0-4.8l-4.8 4.8"/><path class="r" d="M1047.7 198.0l4.8 4.8m0-4.8l-4.8 4.8"/><path class="r" d="M1030.3 213.9l4.8 4.8m0-4.8l-4.8 4.8"/><path class="r" d="M1038.8 206.1l4.8 4.8m0-4.8l-4.8 4.8"/><path class="r" d="M1029.2 215.9l4.8 4.8m0-4.8l-4.8 4.8"/><path class="r" d="M1027.0 218.2l4.8 4.8m0-4.8l-4.8 4.8"/><path class="r" d="M1095.5 150.5l4.8 4.8m0-4.8l-4.8 4.8"/><path class="r" d="M1088.5 156.9l4.8 4.8m0-4.8l-4.8 4.8"/><path class="r" d="M1030.6 214.2l4.8 4.8m0-4.8l-4.8 4.8"/><path class="r" d="M1031.5 214.1l4.8 4.8m0-4.8l-4.8 4.8"/><path class="r" d="M1056.9 188.3l4.8 4.8m0-4.8l-4.8 4.8"/><path class="r" d="M1041.5 204.1l4.8 4.8m0-4.8l-4.8 4.8"/><path class="r" d="M1073.3 171.8l4.8 4.8m0-4.8l-4.8 4.8"/><path class="r" d="M1078.7 166.5l4.8 4.8m0-4.8l-4.8 4.8"/><path class="r" d="M1033.3 212.1l4.8 4.8m0-4.8l-4.8 4.8"/><path class="r" d="M1085.4 160.5l4.8 4.8m0-4.8l-4.8 4.8"/><path class="r" d="M1051.5 193.0l4.8 4.8m0-4.8l-4.8 4.8"/><path class="r" d="M1078.0 167.5l4.8 4.8m0-4.8l-4.8 4.8"/><path class="r" d="M1042.3 202.4l4.8 4.8m0-4.8l-4.8 4.8"/><path class="r" d="M1035.6 208.8l4.8 4.8m0-4.8l-4.8 4.8"/><path class="r" d="M1048.2 197.4l4.8 4.8m0-4.8l-4.8 4.8"/><path class="r" d="M1053.2 191.4l4.8 4.8m0-4.8l-4.8 4.8"/><path class="r" d="M1041.3 203.7l4.8 4.8m0-4.8l-4.8 4.8"/><path class="r" d="M1083.1 163.5l4.8 4.8m0-4.8l-4.8 4.8"/><path class="r" d="M1031.9 214.1l4.8 4.8m0-4.8l-4.8 4.8"/><path class="r" d="M1058.9 186.0l4.8 4.8m0-4.8l-4.8 4.8"/><path class="r" d="M1090.7 155.9l4.8 4.8m0-4.8l-4.8 4.8"/><path class="r" d="M1027.5 217.4l4.8 4.8m0-4.8l-4.8 4.8"/><path class="r" d="M1038.3 206.4l4.8 4.8m0-4.8l-4.8 4.8"/><path class="r" d="M1095.0 151.9l4.8 4.8m0-4.8l-4.8 4.8"/><path class="r" d="M1051.5 194.2l4.8 4.8m0-4.8l-4.8 4.8"/><path class="r" d="M1087.2 158.9l4.8 4.8m0-4.8l-4.8 4.8"/><path class="r" d="M1080.8 164.7l4.8 4.8m0-4.8l-4.8 4.8"/><path class="r" d="M1093.0 152.3l4.8 4.8m0-4.8l-4.8 4.8"/><path class="r" d="M1069.4 175.6l4.8 4.8m0-4.8l-4.8 4.8"/><path class="r" d="M1040.3 204.9l4.8 4.8m0-4.8l-4.8 4.8"/><path class="r" d="M1039.3 205.4l4.8 4.8m0-4.8l-4.8 4.8"/><path class="r" d="M1043.0 202.6l4.8 4.8m0-4.8l-4.8 4.8"/><path class="r" d="M1039.3 206.1l4.8 4.8m0-4.8l-4.8 4.8"/><path class="r" d="M1025.4 219.7l4.8 4.8m0-4.8l-4.8 4.8"/><path class="r" d="M1037.9 206.3l4.8 4.8m0-4.8l-4.8 4.8"/><path class="r" d="M1047.1 197.7l4.8 4.8m0-4.8l-4.8 4.8"/><path class="r" d="M1064.2 180.3l4.8 4.8m0-4.8l-4.8 4.8"/><path class="r" d="M1029.1 215.3l4.8 4.8m0-4.8l-4.8 4.8"/><path class="r" d="M1064.4 180.7l4.8 4.8m0-4.8l-4.8 4.8"/><path class="r" d="M1070.8 174.4l4.8 4.8m0-4.8l-4.8 4.8"/><path class="r" d="M1074.9 170.5l4.8 4.8m0-4.8l-4.8 4.8"/><path class="r" d="M1054.2 191.1l4.8 4.8m0-4.8l-4.8 4.8"/><path class="r" d="M1093.5 151.9l4.8 4.8m0-4.8l-4.8 4.8"/><path class="r" d="M1047.1 198.4l4.8 4.8m0-4.8l-4.8 4.8"/><path class="r" d="M1054.7 190.7l4.8 4.8m0-4.8l-4.8 4.8"/><path class="r" d="M1087.1 158.2l4.8 4.8m0-4.8l-4.8 4.8"/><path class="r" d="M1038.8 206.1l4.8 4.8m0-4.8l-4.8 4.8"/><path class="r" d="M1077.2 168.3l4.8 4.8m0-4.8l-4.8 4.8"/><path class="r" d="M1089.8 155.9l4.8 4.8m0-4.8l-4.8 4.8"/><path class="r" d="M1055.2 189.8l4.8 4.8m0-4.8l-4.8 4.8"/><path class="r" d="M1088.4 157.8l4.8 4.8m0-4.8l-4.8 4.8"/><path class="r" d="M1057.9 187.3l4.8 4.8m0-4.8l-4.8 4.8"/><path class="r" d="M1064.5 180.8l4.8 4.8m0-4.8l-4.8 4.8"/><path class="r" d="M1070.9 174.4l4.8 4.8m0-4.8l-4.8 4.8"/><path class="r" d="M1069.6 176.0l4.8 4.8m0-4.8l-4.8 4.8"/><path class="r" d="M1051.4 194.0l4.8 4.8m0-4.8l-4.8 4.8"/><path class="r" d="M1045.0 200.0l4.8 4.8m0-4.8l-4.8 4.8"/><path class="r" d="M1062.3 182.9l4.8 4.8m0-4.8l-4.8 4.8"/><path class="r" d="M1060.0 185.4l4.8 4.8m0-4.8l-4.8 4.8"/><path class="r" d="M1082.8 162.6l4.8 4.8m0-4.8l-4.8 4.8"/><path class="r" d="M1033.7 211.2l4.8 4.8m0-4.8l-4.8 4.8"/><path class="r" d="M1092.8 152.5l4.8 4.8m0-4.8l-4.8 4.8"/><path class="r" d="M1028.4 216.5l4.8 4.8m0-4.8l-4.8 4.8"/><path class="r" d="M1091.6 155.1l4.8 4.8m0-4.8l-4.8 4.8"/><path class="r" d="M1069.4 175.3l4.8 4.8m0-4.8l-4.8 4.8"/><path class="r" d="M1084.2 161.0l4.8 4.8m0-4.8l-4.8 4.8"/><path class="r" d="M1040.6 203.6l4.8 4.8m0-4.8l-4.8 4.8"/><path class="r" d="M1053.8 190.9l4.8 4.8m0-4.8l-4.8 4.8"/><path class="r" d="M1037.8 207.9l4.8 4.8m0-4.8l-4.8 4.8"/><path class="r" d="M1040.3 205.1l4.8 4.8m0-4.8l-4.8 4.8"/><path class="r" d="M1052.3 192.5l4.8 4.8m0-4.8l-4.8 4.8"/><path class="r" d="M1033.4 211.4l4.8 4.8m0-4.8l-4.8 4.8"/><path class="r" d="M1089.5 155.5l4.8 4.8m0-4.8l-4.8 4.8"/><path class="r" d="M1027.5 218.0l4.8 4.8m0-4.8l-4.8 4.8"/><path class="r" d="M1027.3 217.8l4.8 4.8m0-4.8l-4.8 4.8"/><path class="r" d="M1085.2 160.0l4.8 4.8m0-4.8l-4.8 4.8"/><path class="r" d="M1064.4 180.6l4.8 4.8m0-4.8l-4.8 4.8"/><path class="r" d="M1069.9 175.7l4.8 4.8m0-4.8l-4.8 4.8"/><path class="r" d="M1066.7 178.2l4.8 4.8m0-4.8l-4.8 4.8"/><path class="r" d="M1055.4 190.2l4.8 4.8m0-4.8l-4.8 4.8"/><path class="r" d="M1056.3 189.4l4.8 4.8m0-4.8l-4.8 4.8"/><path class="r" d="M1026.2 218.9l4.8 4.8m0-4.8l-4.8 4.8"/><path class="r" d="M1041.6 203.8l4.8 4.8m0-4.8l-4.8 4.8"/><path class="r" d="M1079.8 165.7l4.8 4.8m0-4.8l-4.8 4.8"/><path class="r" d="M1037.5 207.9l4.8 4.8m0-4.8l-4.8 4.8"/><path class="r" d="M1058.8 186.3l4.8 4.8m0-4.8l-4.8 4.8"/><path class="r" d="M1055.7 189.4l4.8 4.8m0-4.8l-4.8 4.8"/><path class="r" d="M1031.2 214.2l4.8 4.8m0-4.8l-4.8 4.8"/><path class="r" d="M1027.5 217.1l4.8 4.8m0-4.8l-4.8 4.8"/><path class="r" d="M1070.6 174.2l4.8 4.8m0-4.8l-4.8 4.8"/><path class="r" d="M1080.8 164.4l4.8 4.8m0-4.8l-4.8 4.8"/><path class="r" d="M1061.6 183.2l4.8 4.8m0-4.8l-4.8 4.8"/><path class="r" d="M1051.9 193.1l4.8 4.8m0-4.8l-4.8 4.8"/><path class="r" d="M1093.4 151.9l4.8 4.8m0-4.8l-4.8 4.8"/><path class="r" d="M1096.7 148.5l4.8 4.8m0-4.8l-4.8 4.8"/><path class="r" d="M1077.5 167.9l4.8 4.8m0-4.8l-4.8 4.8"/><path class="r" d="M1095.6 150.6l4.8 4.8m0-4.8l-4.8 4.8"/><path class="r" d="M1060.1 184.1l4.8 4.8m0-4.8l-4.8 4.8"/><path class="r" d="M1036.5 208.7l4.8 4.8m0-4.8l-4.8 4.8"/><path class="r" d="M1081.6 163.9l4.8 4.8m0-4.8l-4.8 4.8"/><path class="r" d="M1049.9 195.3l4.8 4.8m0-4.8l-4.8 4.8"/><path class="r" d="M1079.3 165.8l4.8 4.8m0-4.8l-4.8 4.8"/><path class="r" d="M1044.4 199.7l4.8 4.8m0-4.8l-4.8 4.8"/><path class="r" d="M1083.6 161.8l4.8 4.8m0-4.8l-4.8 4.8"/><path class="r" d="M1091.1 154.2l4.8 4.8m0-4.8l-4.8 4.8"/><path class="r" d="M1039.6 205.4l4.8 4.8m0-4.8l-4.8 4.8"/><path class="r" d="M1047.6 196.9l4.8 4.8m0-4.8l-4.8 4.8"/><path class="r" d="M1027.2 217.4l4.8 4.8m0-4.8l-4.8 4.8"/><path class="r" d="M1092.3 153.3l4.8 4.8m0-4.8l-4.8 4.8"/><path class="r" d="M1073.7 171.6l4.8 4.8m0-4.8l-4.8 4.8"/><path class="r" d="M1081.4 164.5l4.8 4.8m0-4.8l-4.8 4.8"/><path class="r" d="M1032.9 212.7l4.8 4.8m0-4.8l-4.8 4.8"/><path class="r" d="M1050.6 194.7l4.8 4.8m0-4.8l-4.8 4.8"/><path class="r" d="M1087.7 158.6l4.8 4.8m0-4.8l-4.8 4.8"/><path class="r" d="M1088.4 157.6l4.8 4.8m0-4.8l-4.8 4.8"/><path class="r" d="M1032.1 212.0l4.8 4.8m0-4.8l-4.8 4.8"/><path class="r" d="M1053.1 192.1l4.8 4.8m0-4.8l-4.8 4.8"/><path class="r" d="M1082.3 163.5l4.8 4.8m0-4.8l-4.8 4.8"/><path class="r" d="M1066.3 177.6l4.8 4.8m0-4.8l-4.8 4.8"/><path class="r" d="M1050.6 194.5l4.8 4.8m0-4.8l-4.8 4.8"/><path class="r" d="M1037.3 208.1l4.8 4.8m0-4.8l-4.8 4.8"/><path class="r" d="M1078.4 166.4l4.8 4.8m0-4.8l-4.8 4.8"/><path class="r" d="M1042.9 201.8l4.8 4.8m0-4.8l-4.8 4.8"/><path class="r" d="M1070.8 174.0l4.8 4.8m0-4.8l-4.8 4.8"/><path class="r" d="M1072.6 173.0l4.8 4.8m0-4.8l-4.8 4.8"/><path class="r" d="M1047.2 197.8l4.8 4.8m0-4.8l-4.8 4.8"/><path class="r" d="M1035.3 209.5l4.8 4.8m0-4.8l-4.8 4.8"/><path class="r" d="M1069.1 176.9l4.8 4.8m0-4.8l-4.8 4.8"/><path class="r" d="M1089.4 156.2l4.8 4.8m0-4.8l-4.8 4.8"/><path class="r" d="M1034.1 210.7l4.8 4.8m0-4.8l-4.8 4.8"/><path class="r" d="M1026.2 217.9l4.8 4.8m0-4.8l-4.8 4.8"/><path class="r" d="M1024.7 220.1l4.8 4.8m0-4.8l-4.8 4.8"/><path class="r" d="M1050.4 194.6l4.8 4.8m0-4.8l-4.8 4.8"/><path class="r" d="M1040.8 204.8l4.8 4.8m0-4.8l-4.8 4.8"/><path class="r" d="M1039.3 206.0l4.8 4.8m0-4.8l-4.8 4.8"/><path class="r" d="M1069.7 176.0l4.8 4.8m0-4.8l-4.8 4.8"/><path class="r" d="M1092.3 153.5l4.8 4.8m0-4.8l-4.8 4.8"/><path class="r" d="M1042.2 202.7l4.8 4.8m0-4.8l-4.8 4.8"/><path class="r" d="M1070.7 174.6l4.8 4.8m0-4.8l-4.8 4.8"/><path class="r" d="M1087.6 158.1l4.8 4.8m0-4.8l-4.8 4.8"/><path class="r" d="M1043.7 201.8l4.8 4.8m0-4.8l-4.8 4.8"/><path class="r" d="M1025.4 219.7l4.8 4.8m0-4.8l-4.8 4.8"/><path class="r" d="M1049.9 195.7l4.8 4.8m0-4.8l-4.8 4.8"/><path class="r" d="M1071.3 175.3l4.8 4.8m0-4.8l-4.8 4.8"/><path class="r" d="M1077.6 167.6l4.8 4.8m0-4.8l-4.8 4.8"/><path class="r" d="M1042.5 202.4l4.8 4.8m0-4.8l-4.8 4.8"/><path class="r" d="M1063.0 182.4l4.8 4.8m0-4.8l-4.8 4.8"/><path class="r" d="M1053.9 191.3l4.8 4.8m0-4.8l-4.8 4.8"/><path class="r" d="M1080.9 164.6l4.8 4.8m0-4.8l-4.8 4.8"/><path class="r" d="M1025.4 220.4l4.8 4.8m0-4.8l-4.8 4.8"/><path class="r" d="M1034.8 210.4l4.8 4.8m0-4.8l-4.8 4.8"/><path class="r" d="M1039.0 206.4l4.8 4.8m0-4.8l-4.8 4.8"/><path class="r" d="M1071.0 174.9l4.8 4.8m0-4.8l-4.8 4.8"/><path class="r" d="M1083.4 162.1l4.8 4.8m0-4.8l-4.8 4.8"/><path class="r" d="M1046.3 198.4l4.8 4.8m0-4.8l-4.8 4.8"/><path class="r" d="M1028.0 216.1l4.8 4.8m0-4.8l-4.8 4.8"/><path class="r" d="M1076.3 169.8l4.8 4.8m0-4.8l-4.8 4.8"/><path class="r" d="M1025.0 219.3l4.8 4.8m0-4.8l-4.8 4.8"/><path class="r" d="M1113.8 133.1l4.8 4.8m0-4.8l-4.8 4.8"/><path class="r" d="M1123.8 122.9l4.8 4.8m0-4.8l-4.8 4.8"/><path class="r" d="M1100.7 145.1l4.8 4.8m0-4.8l-4.8 4.8"/><path class="r" d="M1105.3 140.3l4.8 4.8m0-4.8l-4.8 4.8"/><path class="r" d="M1124.1 122.2l4.8 4.8m0-4.8l-4.8 4.8"/><path class="r" d="M1122.1 123.8l4.8 4.8m0-4.8l-4.8 4.8"/><path class="r" d="M1106.6 140.2l4.8 4.8m0-4.8l-4.8 4.8"/><path class="r" d="M1117.0 130.1l4.8 4.8m0-4.8l-4.8 4.8"/><path class="r" d="M1115.9 130.0l4.8 4.8m0-4.8l-4.8 4.8"/><path class="r" d="M1106.5 140.3l4.8 4.8m0-4.8l-4.8 4.8"/><path class="r" d="M1104.8 142.3l4.8 4.8m0-4.8l-4.8 4.8"/><path class="r" d="M1128.8 117.3l4.8 4.8m0-4.8l-4.8 4.8"/><path class="r" d="M1105.5 140.6l4.8 4.8m0-4.8l-4.8 4.8"/><path class="r" d="M1123.9 121.8l4.8 4.8m0-4.8l-4.8 4.8"/><path class="r" d="M1108.8 137.6l4.8 4.8m0-4.8l-4.8 4.8"/><path class="r" d="M1128.8 117.8l4.8 4.8m0-4.8l-4.8 4.8"/><path class="r" d="M1129.8 116.4l4.8 4.8m0-4.8l-4.8 4.8"/><path class="r" d="M1119.8 126.8l4.8 4.8m0-4.8l-4.8 4.8"/><path class="r" d="M1132.4 114.8l4.8 4.8m0-4.8l-4.8 4.8"/><path class="r" d="M1113.9 131.9l4.8 4.8m0-4.8l-4.8 4.8"/><path class="r" d="M1128.0 119.1l4.8 4.8m0-4.8l-4.8 4.8"/><path class="r" d="M1112.8 133.5l4.8 4.8m0-4.8l-4.8 4.8"/><path class="r" d="M1108.1 138.7l4.8 4.8m0-4.8l-4.8 4.8"/><path class="r" d="M1104.6 141.6l4.8 4.8m0-4.8l-4.8 4.8"/><path class="r" d="M1129.9 116.7l4.8 4.8m0-4.8l-4.8 4.8"/><path class="r" d="M1102.2 143.6l4.8 4.8m0-4.8l-4.8 4.8"/><path class="r" d="M1130.6 115.9l4.8 4.8m0-4.8l-4.8 4.8"/><path class="r" d="M1109.4 136.6l4.8 4.8m0-4.8l-4.8 4.8"/><path class="r" d="M1098.4 147.4l4.8 4.8m0-4.8l-4.8 4.8"/><path class="r" d="M1122.0 124.8l4.8 4.8m0-4.8l-4.8 4.8"/><path class="r" d="M1123.6 123.3l4.8 4.8m0-4.8l-4.8 4.8"/><path class="r" d="M1099.3 147.0l4.8 4.8m0-4.8l-4.8 4.8"/><path class="r" d="M1126.5 120.1l4.8 4.8m0-4.8l-4.8 4.8"/><path class="r" d="M1126.6 119.7l4.8 4.8m0-4.8l-4.8 4.8"/><path class="r" d="M1128.3 118.2l4.8 4.8m0-4.8l-4.8 4.8"/><path class="r" d="M1130.0 116.2l4.8 4.8m0-4.8l-4.8 4.8"/><path class="r" d="M1104.4 141.7l4.8 4.8m0-4.8l-4.8 4.8"/><path class="r" d="M1101.0 144.1l4.8 4.8m0-4.8l-4.8 4.8"/><path class="r" d="M1126.3 119.9l4.8 4.8m0-4.8l-4.8 4.8"/><path class="r" d="M1119.9 126.1l4.8 4.8m0-4.8l-4.8 4.8"/><path class="r" d="M1107.3 139.4l4.8 4.8m0-4.8l-4.8 4.8"/><path class="r" d="M1100.5 144.8l4.8 4.8m0-4.8l-4.8 4.8"/><path class="r" d="M1104.4 141.2l4.8 4.8m0-4.8l-4.8 4.8"/><path class="r" d="M1108.5 137.7l4.8 4.8m0-4.8l-4.8 4.8"/><path class="r" d="M1106.2 139.8l4.8 4.8m0-4.8l-4.8 4.8"/><path class="r" d="M1107.2 139.0l4.8 4.8m0-4.8l-4.8 4.8"/><path class="r" d="M1108.5 138.0l4.8 4.8m0-4.8l-4.8 4.8"/><path class="r" d="M1131.8 115.6l4.8 4.8m0-4.8l-4.8 4.8"/><path class="r" d="M1119.3 127.0l4.8 4.8m0-4.8l-4.8 4.8"/><path class="r" d="M1098.1 148.3l4.8 4.8m0-4.8l-4.8 4.8"/><path class="r" d="M1124.9 121.2l4.8 4.8m0-4.8l-4.8 4.8"/><path class="r" d="M1109.5 136.8l4.8 4.8m0-4.8l-4.8 4.8"/><path class="r" d="M1104.8 141.9l4.8 4.8m0-4.8l-4.8 4.8"/><path class="r" d="M1128.1 117.5l4.8 4.8m0-4.8l-4.8 4.8"/><path class="r" d="M1103.1 142.4l4.8 4.8m0-4.8l-4.8 4.8"/><path class="r" d="M1097.0 148.7l4.8 4.8m0-4.8l-4.8 4.8"/><path class="r" d="M1132.3 113.4l4.8 4.8m0-4.8l-4.8 4.8"/><path class="r" d="M1097.1 149.4l4.8 4.8m0-4.8l-4.8 4.8"/><path class="r" d="M1125.8 120.6l4.8 4.8m0-4.8l-4.8 4.8"/><path class="r" d="M1103.6 142.9l4.8 4.8m0-4.8l-4.8 4.8"/><path class="r" d="M1127.0 119.4l4.8 4.8m0-4.8l-4.8 4.8"/><path class="r" d="M1106.4 139.3l4.8 4.8m0-4.8l-4.8 4.8"/><path class="r" d="M1104.7 141.5l4.8 4.8m0-4.8l-4.8 4.8"/><path class="r" d="M1122.2 124.3l4.8 4.8m0-4.8l-4.8 4.8"/><path class="r" d="M1120.0 126.3l4.8 4.8m0-4.8l-4.8 4.8"/><path class="r" d="M1099.9 145.9l4.8 4.8m0-4.8l-4.8 4.8"/><path class="r" d="M1125.4 121.7l4.8 4.8m0-4.8l-4.8 4.8"/><path class="r" d="M1119.7 127.0l4.8 4.8m0-4.8l-4.8 4.8"/><path class="r" d="M1111.2 134.6l4.8 4.8m0-4.8l-4.8 4.8"/><path class="r" d="M1129.2 116.4l4.8 4.8m0-4.8l-4.8 4.8"/><path class="r" d="M1097.8 147.6l4.8 4.8m0-4.8l-4.8 4.8"/><path class="r" d="M1104.4 141.7l4.8 4.8m0-4.8l-4.8 4.8"/><path class="r" d="M1115.1 130.1l4.8 4.8m0-4.8l-4.8 4.8"/><path class="r" d="M1110.7 135.2l4.8 4.8m0-4.8l-4.8 4.8"/><path class="r" d="M1113.6 132.8l4.8 4.8m0-4.8l-4.8 4.8"/><path class="r" d="M1116.2 130.1l4.8 4.8m0-4.8l-4.8 4.8"/><path class="r" d="M1120.3 126.8l4.8 4.8m0-4.8l-4.8 4.8"/><path class="r" d="M1109.5 136.7l4.8 4.8m0-4.8l-4.8 4.8"/><path class="r" d="M1127.4 118.7l4.8 4.8m0-4.8l-4.8 4.8"/><path class="r" d="M1120.9 125.4l4.8 4.8m0-4.8l-4.8 4.8"/><path class="r" d="M1141.1 105.9l4.8 4.8m0-4.8l-4.8 4.8"/><path class="r" d="M1147.1 99.9l4.8 4.8m0-4.8l-4.8 4.8"/><path class="r" d="M1141.5 105.3l4.8 4.8m0-4.8l-4.8 4.8"/><path class="r" d="M1149.1 97.6l4.8 4.8m0-4.8l-4.8 4.8"/><path class="r" d="M1138.6 107.7l4.8 4.8m0-4.8l-4.8 4.8"/><path class="r" d="M1145.9 100.7l4.8 4.8m0-4.8l-4.8 4.8"/><path class="r" d="M1136.0 110.9l4.8 4.8m0-4.8l-4.8 4.8"/><path class="r" d="M1137.6 109.3l4.8 4.8m0-4.8l-4.8 4.8"/><path class="r" d="M1136.0 110.0l4.8 4.8m0-4.8l-4.8 4.8"/><path class="r" d="M1139.1 107.1l4.8 4.8m0-4.8l-4.8 4.8"/><path class="r" d="M1146.3 99.2l4.8 4.8m0-4.8l-4.8 4.8"/><path class="r" d="M1135.0 111.4l4.8 4.8m0-4.8l-4.8 4.8"/><path class="r" d="M1140.1 106.6l4.8 4.8m0-4.8l-4.8 4.8"/><path class="r" d="M1150.9 95.7l4.8 4.8m0-4.8l-4.8 4.8"/><path class="r" d="M1141.0 106.4l4.8 4.8m0-4.8l-4.8 4.8"/><path class="r" d="M1136.7 110.1l4.8 4.8m0-4.8l-4.8 4.8"/><path class="r" d="M1136.9 109.9l4.8 4.8m0-4.8l-4.8 4.8"/><path class="r" d="M1140.2 106.0l4.8 4.8m0-4.8l-4.8 4.8"/><path class="r" d="M1147.4 99.2l4.8 4.8m0-4.8l-4.8 4.8"/><path class="r" d="M1145.7 101.8l4.8 4.8m0-4.8l-4.8 4.8"/><path class="r" d="M1141.5 105.2l4.8 4.8m0-4.8l-4.8 4.8"/><path class="r" d="M1135.7 111.3l4.8 4.8m0-4.8l-4.8 4.8"/><path class="r" d="M1164.0 83.4l4.8 4.8m0-4.8l-4.8 4.8"/><path class="r" d="M1166.8 80.8l4.8 4.8m0-4.8l-4.8 4.8"/><path class="r" d="M1164.1 82.7l4.8 4.8m0-4.8l-4.8 4.8"/><path class="r" d="M1158.5 88.4l4.8 4.8m0-4.8l-4.8 4.8"/><path class="r" d="M1166.4 80.0l4.8 4.8m0-4.8l-4.8 4.8"/><path class="r" d="M1164.5 82.8l4.8 4.8m0-4.8l-4.8 4.8"/><path class="r" d="M1162.9 85.0l4.8 4.8m0-4.8l-4.8 4.8"/><path class="r" d="M1162.3 85.2l4.8 4.8m0-4.8l-4.8 4.8"/><path class="r" d="M1162.0 84.9l4.8 4.8m0-4.8l-4.8 4.8"/><path class="r" d="M1152.9 94.7l4.8 4.8m0-4.8l-4.8 4.8"/><path class="r" d="M1163.5 83.1l4.8 4.8m0-4.8l-4.8 4.8"/><path class="r" d="M1162.1 85.0l4.8 4.8m0-4.8l-4.8 4.8"/><path class="r" d="M1159.1 87.4l4.8 4.8m0-4.8l-4.8 4.8"/></g>
<rect x="284.50" y="322.20" width="113.80" height="40.00" rx="2.5" fill="#fff" fill-opacity="0.8" stroke="#d9d9d9" stroke-width="1"/>
<circle class="b" cx="301.5" cy="333.2"/>
<text x="324.27" y="336.70" font-size="13.59" textLength="13.37" lengthAdjust="spacingAndGlyphs" fill="#000">M</text>
<path class="g" d="M299.1 349.0l4.8 4.8m0-4.8l-4.8 4.8"/>
<text x="324.26" y="354.90" font-size="13.59" textLength="69.34" lengthAdjust="spacingAndGlyphs" fill="#000">M Uncond.</text>
<rect x="693.50" y="321.70" width="124.80" height="40.50" rx="2.5" fill="#fff" fill-opacity="0.8" stroke="#d9d9d9" stroke-width="1"/>
<circle class="o" cx="710.8" cy="333.2"/>
<text x="733.19" y="336.70" font-size="13.59" textLength="23.03" lengthAdjust="spacingAndGlyphs" fill="#000">NM</text>
<path class="r" d="M708.4 349.0l4.8 4.8m0-4.8l-4.8 4.8"/>
<text x="733.16" y="354.90" font-size="13.59" textLength="80.24" lengthAdjust="spacingAndGlyphs" fill="#000">NM Uncond.</text>
<rect x="1113.40" y="285.60" width="125.10" height="76.70" rx="2.5" fill="#fff" fill-opacity="0.8" stroke="#d9d9d9" stroke-width="1"/>
<circle class="b" cx="1130.5" cy="296.8"/>
<text x="1153.07" y="300.30" font-size="13.59" textLength="13.37" lengthAdjust="spacingAndGlyphs" fill="#000">M</text>
<circle class="o" cx="1130.5" cy="315.0"/>
<text x="1153.09" y="318.50" font-size="13.59" textLength="23.03" lengthAdjust="spacingAndGlyphs" fill="#000">NM</text>
<path class="g" d="M1128.1 330.8l4.8 4.8m0-4.8l-4.8 4.8"/>
<text x="1153.06" y="336.70" font-size="13.59" textLength="69.34" lengthAdjust="spacingAndGlyphs" fill="#000">M Uncond.</text>
<path class="r" d="M1128.1 349.0l4.8 4.8m0-4.8l-4.8 4.8"/>
<text x="1153.06" y="354.90" font-size="13.59" textLength="80.24" lengthAdjust="spacingAndGlyphs" fill="#000">NM Uncond.</text>
</svg>
</body></html>
